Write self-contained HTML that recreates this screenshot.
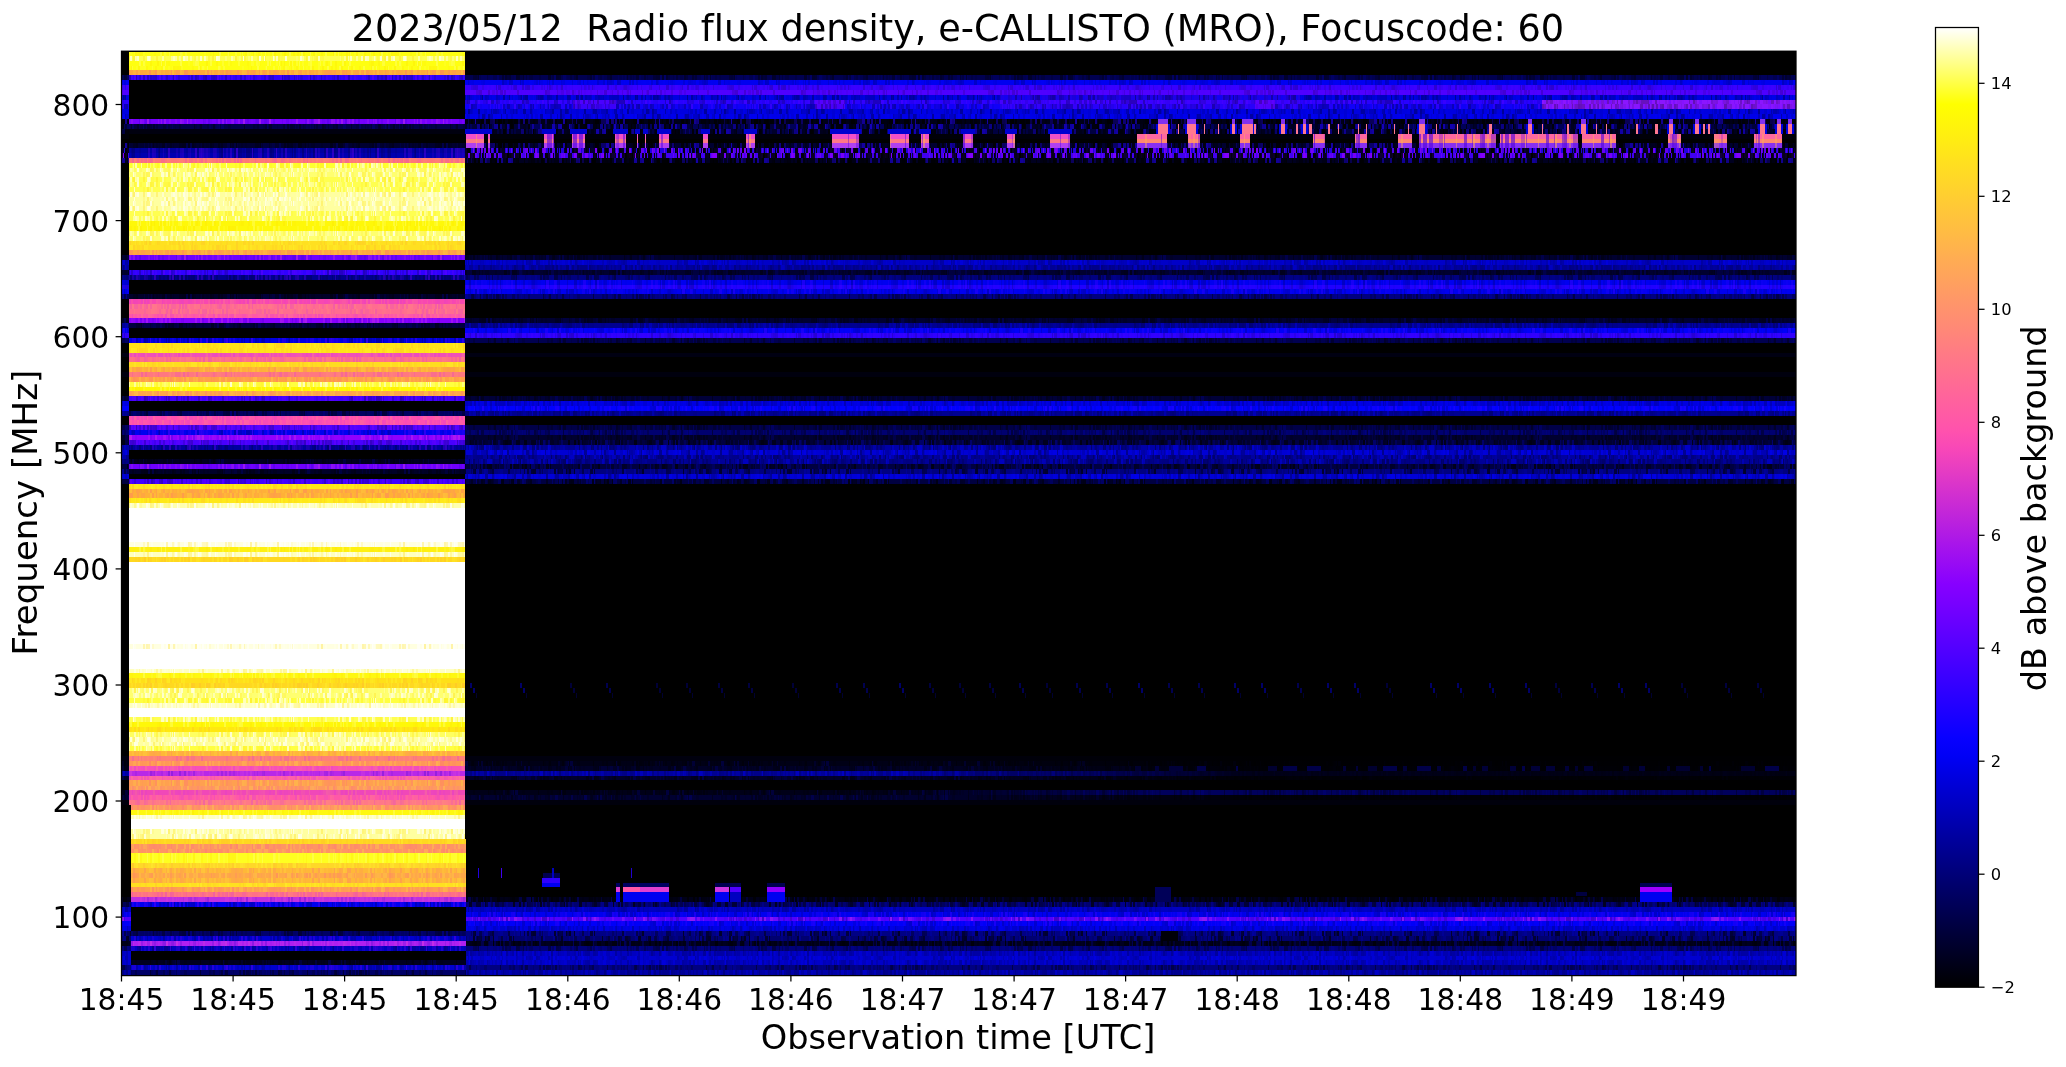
<!DOCTYPE html>
<html lang="en"><head><meta charset="utf-8"><title>e-CALLISTO spectrogram</title>
<style>html,body{margin:0;padding:0;background:#fff;}svg{display:block}text{font-family:'DejaVu Sans','Liberation Sans',sans-serif;fill:#000;font-variant-ligatures:none;font-feature-settings:"liga" 0,"clig" 0}svg{will-change:transform}</style></head><body>
<svg width="2066" height="1067" viewBox="0 0 2066 1067">
<defs>
<linearGradient id="cb" x1="0" y1="1" x2="0" y2="0">
<stop offset="0" stop-color="#000000"/>
<stop offset="0.02" stop-color="#000014"/>
<stop offset="0.04" stop-color="#000029"/>
<stop offset="0.06" stop-color="#00003D"/>
<stop offset="0.08" stop-color="#000052"/>
<stop offset="0.1" stop-color="#000066"/>
<stop offset="0.12" stop-color="#00007A"/>
<stop offset="0.14" stop-color="#00008F"/>
<stop offset="0.16" stop-color="#0000A3"/>
<stop offset="0.18" stop-color="#0000B8"/>
<stop offset="0.2" stop-color="#0000CC"/>
<stop offset="0.22" stop-color="#0000E0"/>
<stop offset="0.24" stop-color="#0000F5"/>
<stop offset="0.26" stop-color="#0800FF"/>
<stop offset="0.28" stop-color="#1800FF"/>
<stop offset="0.3" stop-color="#2800FF"/>
<stop offset="0.32" stop-color="#3800FF"/>
<stop offset="0.34" stop-color="#4800FF"/>
<stop offset="0.36" stop-color="#5800FF"/>
<stop offset="0.38" stop-color="#6800FF"/>
<stop offset="0.4" stop-color="#7800FF"/>
<stop offset="0.42" stop-color="#8700FF"/>
<stop offset="0.44" stop-color="#970AF5"/>
<stop offset="0.46" stop-color="#A714EB"/>
<stop offset="0.48" stop-color="#B71FE0"/>
<stop offset="0.5" stop-color="#C729D6"/>
<stop offset="0.52" stop-color="#D733CC"/>
<stop offset="0.54" stop-color="#E73DC2"/>
<stop offset="0.56" stop-color="#F747B8"/>
<stop offset="0.58" stop-color="#FF52AD"/>
<stop offset="0.6" stop-color="#FF5CA3"/>
<stop offset="0.62" stop-color="#FF6699"/>
<stop offset="0.64" stop-color="#FF708F"/>
<stop offset="0.66" stop-color="#FF7A85"/>
<stop offset="0.68" stop-color="#FF857A"/>
<stop offset="0.7" stop-color="#FF8F70"/>
<stop offset="0.72" stop-color="#FF9966"/>
<stop offset="0.74" stop-color="#FFA35C"/>
<stop offset="0.76" stop-color="#FFAD52"/>
<stop offset="0.78" stop-color="#FFB847"/>
<stop offset="0.8" stop-color="#FFC23D"/>
<stop offset="0.82" stop-color="#FFCC33"/>
<stop offset="0.84" stop-color="#FFD629"/>
<stop offset="0.86" stop-color="#FFE01F"/>
<stop offset="0.88" stop-color="#FFEB14"/>
<stop offset="0.9" stop-color="#FFF50A"/>
<stop offset="0.92" stop-color="#FFFF00"/>
<stop offset="0.94" stop-color="#FFFF40"/>
<stop offset="0.96" stop-color="#FFFF80"/>
<stop offset="0.98" stop-color="#FFFFBF"/>
<stop offset="1" stop-color="#FFFFFF"/>
</linearGradient>
<pattern id="b10" patternUnits="userSpaceOnUse" width="256" height="8">
<g fill="#0000FF"><rect x="2" width="2" height="8" opacity=".10"/><rect x="12" width="1" height="8" opacity=".24"/><rect x="13" width="1" height="8" opacity=".19"/><rect x="21" width="1" height="8" opacity=".25"/><rect x="22" width="2" height="8" opacity=".20"/><rect x="31" width="1" height="8" opacity=".22"/><rect x="34" width="2" height="8" opacity=".10"/><rect x="41" width="2" height="8" opacity=".32"/><rect x="45" width="2" height="8" opacity=".20"/><rect x="48" width="2" height="8" opacity=".10"/><rect x="50" width="3" height="8" opacity=".25"/><rect x="56" width="2" height="8" opacity=".32"/><rect x="60" width="1" height="8" opacity=".21"/><rect x="70" width="2" height="8" opacity=".35"/><rect x="76" width="1" height="8" opacity=".08"/><rect x="84" width="3" height="8" opacity=".09"/><rect x="92" width="2" height="8" opacity=".10"/><rect x="103" width="2" height="8" opacity=".21"/><rect x="118" width="1" height="8" opacity=".15"/><rect x="123" width="2" height="8" opacity=".22"/><rect x="176" width="2" height="8" opacity=".17"/><rect x="178" width="2" height="8" opacity=".09"/><rect x="180" width="3" height="8" opacity=".22"/><rect x="187" width="2" height="8" opacity=".31"/><rect x="192" width="3" height="8" opacity=".32"/><rect x="201" width="1" height="8" opacity=".29"/><rect x="206" width="3" height="8" opacity=".23"/><rect x="211" width="1" height="8" opacity=".23"/><rect x="213" width="2" height="8" opacity=".13"/><rect x="217" width="2" height="8" opacity=".15"/><rect x="230" width="3" height="8" opacity=".12"/><rect x="239" width="1" height="8" opacity=".35"/><rect x="244" width="2" height="8" opacity=".20"/><rect x="247" width="2" height="8" opacity=".10"/></g>
<g fill="#000"><rect x="4" width="2" height="8" opacity=".12"/><rect x="6" width="2" height="8" opacity=".04"/><rect x="8" width="2" height="8" opacity=".04"/><rect x="10" width="2" height="8" opacity=".12"/><rect x="14" width="1" height="8" opacity=".17"/><rect x="15" width="2" height="8" opacity=".12"/><rect x="17" width="2" height="8" opacity=".17"/><rect x="19" width="1" height="8" opacity=".12"/><rect x="20" width="1" height="8" opacity=".12"/><rect x="24" width="2" height="8" opacity=".19"/><rect x="26" width="2" height="8" opacity=".16"/><rect x="36" width="2" height="8" opacity=".16"/><rect x="39" width="2" height="8" opacity=".14"/><rect x="43" width="2" height="8" opacity=".08"/><rect x="58" width="2" height="8" opacity=".10"/><rect x="63" width="2" height="8" opacity=".18"/><rect x="65" width="1" height="8" opacity=".09"/><rect x="75" width="1" height="8" opacity=".05"/><rect x="77" width="2" height="8" opacity=".07"/><rect x="79" width="1" height="8" opacity=".09"/><rect x="80" width="2" height="8" opacity=".04"/><rect x="90" width="2" height="8" opacity=".09"/><rect x="95" width="2" height="8" opacity=".08"/><rect x="97" width="1" height="8" opacity=".12"/><rect x="98" width="2" height="8" opacity=".09"/><rect x="100" width="1" height="8" opacity=".06"/><rect x="101" width="2" height="8" opacity=".07"/><rect x="106" width="2" height="8" opacity=".08"/><rect x="108" width="1" height="8" opacity=".08"/><rect x="109" width="2" height="8" opacity=".14"/><rect x="111" width="2" height="8" opacity=".19"/><rect x="113" width="2" height="8" opacity=".14"/><rect x="125" width="3" height="8" opacity=".17"/><rect x="131" width="1" height="8" opacity=".11"/><rect x="132" width="3" height="8" opacity=".03"/><rect x="135" width="2" height="8" opacity=".05"/><rect x="144" width="2" height="8" opacity=".04"/><rect x="146" width="2" height="8" opacity=".06"/><rect x="165" width="2" height="8" opacity=".19"/><rect x="167" width="3" height="8" opacity=".09"/><rect x="172" width="1" height="8" opacity=".18"/><rect x="173" width="3" height="8" opacity=".17"/><rect x="183" width="1" height="8" opacity=".18"/><rect x="184" width="1" height="8" opacity=".06"/><rect x="185" width="2" height="8" opacity=".13"/><rect x="197" width="2" height="8" opacity=".05"/><rect x="199" width="2" height="8" opacity=".10"/><rect x="202" width="1" height="8" opacity=".11"/><rect x="203" width="3" height="8" opacity=".03"/><rect x="210" width="1" height="8" opacity=".07"/><rect x="212" width="1" height="8" opacity=".13"/><rect x="215" width="2" height="8" opacity=".12"/><rect x="224" width="1" height="8" opacity=".09"/><rect x="225" width="2" height="8" opacity=".06"/><rect x="227" width="1" height="8" opacity=".07"/><rect x="235" width="1" height="8" opacity=".11"/><rect x="240" width="2" height="8" opacity=".06"/><rect x="242" width="2" height="8" opacity=".09"/><rect x="246" width="1" height="8" opacity=".11"/><rect x="250" width="1" height="8" opacity=".07"/><rect x="251" width="1" height="8" opacity=".04"/></g>
</pattern>
<pattern id="b10a" href="#b10" patternTransform="translate(37 0)"/>
<pattern id="b10b" href="#b10" patternTransform="translate(81 0)"/>
<pattern id="b10c" href="#b10" patternTransform="translate(119 0)"/>
<pattern id="b10d" href="#b10" patternTransform="translate(163 0)"/>
<pattern id="b10e" href="#b10" patternTransform="translate(201 0)"/>
<pattern id="b11" patternUnits="userSpaceOnUse" width="256" height="8">
<g fill="#000"><rect x="0" width="2" height="8" opacity=".12"/><rect x="4" width="1" height="8" opacity=".16"/><rect x="5" width="1" height="8" opacity=".03"/><rect x="10" width="2" height="8" opacity=".20"/><rect x="16" width="3" height="8" opacity=".04"/><rect x="19" width="1" height="8" opacity=".05"/><rect x="22" width="1" height="8" opacity=".11"/><rect x="23" width="1" height="8" opacity=".16"/><rect x="24" width="2" height="8" opacity=".02"/><rect x="28" width="2" height="8" opacity=".10"/><rect x="39" width="2" height="8" opacity=".18"/><rect x="46" width="1" height="8" opacity=".13"/><rect x="47" width="2" height="8" opacity=".03"/><rect x="55" width="1" height="8" opacity=".10"/><rect x="56" width="2" height="8" opacity=".08"/><rect x="58" width="2" height="8" opacity=".03"/><rect x="60" width="2" height="8" opacity=".05"/><rect x="62" width="2" height="8" opacity=".11"/><rect x="66" width="1" height="8" opacity=".17"/><rect x="67" width="1" height="8" opacity=".03"/><rect x="68" width="1" height="8" opacity=".13"/><rect x="71" width="2" height="8" opacity=".08"/><rect x="73" width="2" height="8" opacity=".15"/><rect x="75" width="3" height="8" opacity=".17"/><rect x="81" width="3" height="8" opacity=".15"/><rect x="84" width="2" height="8" opacity=".11"/><rect x="94" width="1" height="8" opacity=".03"/><rect x="95" width="3" height="8" opacity=".04"/><rect x="103" width="2" height="8" opacity=".16"/><rect x="108" width="2" height="8" opacity=".11"/><rect x="115" width="2" height="8" opacity=".16"/><rect x="118" width="2" height="8" opacity=".09"/><rect x="126" width="2" height="8" opacity=".07"/><rect x="131" width="1" height="8" opacity=".03"/><rect x="137" width="2" height="8" opacity=".04"/><rect x="139" width="2" height="8" opacity=".20"/><rect x="141" width="2" height="8" opacity=".10"/><rect x="147" width="2" height="8" opacity=".19"/><rect x="149" width="1" height="8" opacity=".04"/><rect x="156" width="3" height="8" opacity=".11"/><rect x="159" width="2" height="8" opacity=".05"/><rect x="163" width="3" height="8" opacity=".08"/><rect x="166" width="2" height="8" opacity=".08"/><rect x="170" width="2" height="8" opacity=".19"/><rect x="172" width="3" height="8" opacity=".15"/><rect x="175" width="2" height="8" opacity=".09"/><rect x="177" width="2" height="8" opacity=".19"/><rect x="181" width="2" height="8" opacity=".17"/><rect x="185" width="2" height="8" opacity=".08"/><rect x="191" width="3" height="8" opacity=".18"/><rect x="197" width="2" height="8" opacity=".16"/><rect x="202" width="2" height="8" opacity=".19"/><rect x="204" width="1" height="8" opacity=".09"/><rect x="205" width="2" height="8" opacity=".15"/><rect x="207" width="3" height="8" opacity=".14"/><rect x="210" width="2" height="8" opacity=".14"/><rect x="212" width="1" height="8" opacity=".05"/><rect x="214" width="2" height="8" opacity=".18"/><rect x="216" width="2" height="8" opacity=".12"/><rect x="218" width="1" height="8" opacity=".08"/><rect x="219" width="1" height="8" opacity=".09"/><rect x="220" width="2" height="8" opacity=".02"/><rect x="222" width="2" height="8" opacity=".15"/><rect x="224" width="1" height="8" opacity=".08"/><rect x="225" width="1" height="8" opacity=".12"/><rect x="226" width="2" height="8" opacity=".11"/><rect x="231" width="1" height="8" opacity=".18"/><rect x="232" width="2" height="8" opacity=".10"/><rect x="236" width="1" height="8" opacity=".10"/><rect x="239" width="2" height="8" opacity=".09"/><rect x="243" width="2" height="8" opacity=".04"/><rect x="245" width="1" height="8" opacity=".19"/><rect x="250" width="2" height="8" opacity=".16"/><rect x="254" width="2" height="8" opacity=".04"/></g>
<g fill="#0000FF"><rect x="2" width="2" height="8" opacity=".27"/><rect x="6" width="1" height="8" opacity=".30"/><rect x="7" width="1" height="8" opacity=".14"/><rect x="14" width="2" height="8" opacity=".09"/><rect x="20" width="2" height="8" opacity=".22"/><rect x="26" width="2" height="8" opacity=".13"/><rect x="33" width="2" height="8" opacity=".23"/><rect x="37" width="2" height="8" opacity=".35"/><rect x="41" width="3" height="8" opacity=".19"/><rect x="52" width="2" height="8" opacity=".16"/><rect x="54" width="1" height="8" opacity=".09"/><rect x="64" width="2" height="8" opacity=".15"/><rect x="69" width="1" height="8" opacity=".22"/><rect x="70" width="1" height="8" opacity=".27"/><rect x="86" width="2" height="8" opacity=".30"/><rect x="91" width="3" height="8" opacity=".27"/><rect x="98" width="2" height="8" opacity=".25"/><rect x="100" width="3" height="8" opacity=".15"/><rect x="124" width="2" height="8" opacity=".13"/><rect x="128" width="3" height="8" opacity=".25"/><rect x="134" width="1" height="8" opacity=".26"/><rect x="135" width="2" height="8" opacity=".16"/><rect x="150" width="3" height="8" opacity=".34"/><rect x="153" width="1" height="8" opacity=".25"/><rect x="161" width="2" height="8" opacity=".19"/><rect x="183" width="2" height="8" opacity=".12"/><rect x="194" width="2" height="8" opacity=".27"/><rect x="213" width="1" height="8" opacity=".30"/><rect x="247" width="3" height="8" opacity=".31"/><rect x="253" width="1" height="8" opacity=".09"/></g>
</pattern>
<pattern id="b11a" href="#b11" patternTransform="translate(37 0)"/>
<pattern id="b11b" href="#b11" patternTransform="translate(81 0)"/>
<pattern id="b11c" href="#b11" patternTransform="translate(119 0)"/>
<pattern id="b11d" href="#b11" patternTransform="translate(163 0)"/>
<pattern id="b11e" href="#b11" patternTransform="translate(201 0)"/>
<pattern id="b20" patternUnits="userSpaceOnUse" width="256" height="8">
<g fill="#0000FF"><rect x="0" width="2" height="8" opacity=".25"/><rect x="59" width="1" height="8" opacity=".37"/><rect x="87" width="2" height="8" opacity=".26"/><rect x="97" width="1" height="8" opacity=".21"/><rect x="106" width="2" height="8" opacity=".17"/><rect x="112" width="2" height="8" opacity=".34"/><rect x="114" width="3" height="8" opacity=".37"/><rect x="126" width="1" height="8" opacity=".18"/><rect x="127" width="1" height="8" opacity=".45"/><rect x="137" width="2" height="8" opacity=".37"/><rect x="142" width="1" height="8" opacity=".35"/><rect x="146" width="1" height="8" opacity=".33"/><rect x="152" width="2" height="8" opacity=".12"/><rect x="155" width="3" height="8" opacity=".32"/><rect x="158" width="1" height="8" opacity=".24"/><rect x="163" width="3" height="8" opacity=".23"/><rect x="168" width="2" height="8" opacity=".24"/><rect x="173" width="2" height="8" opacity=".23"/><rect x="176" width="1" height="8" opacity=".42"/><rect x="177" width="1" height="8" opacity=".42"/><rect x="178" width="3" height="8" opacity=".15"/><rect x="191" width="2" height="8" opacity=".41"/><rect x="196" width="1" height="8" opacity=".32"/><rect x="198" width="1" height="8" opacity=".11"/><rect x="227" width="2" height="8" opacity=".33"/><rect x="229" width="1" height="8" opacity=".13"/><rect x="234" width="2" height="8" opacity=".37"/><rect x="242" width="1" height="8" opacity=".35"/><rect x="255" width="1" height="8" opacity=".41"/></g>
<g fill="#000"><rect x="2" width="1" height="8" opacity=".13"/><rect x="3" width="2" height="8" opacity=".12"/><rect x="5" width="2" height="8" opacity=".20"/><rect x="7" width="2" height="8" opacity=".13"/><rect x="9" width="1" height="8" opacity=".11"/><rect x="10" width="1" height="8" opacity=".16"/><rect x="11" width="3" height="8" opacity=".05"/><rect x="16" width="3" height="8" opacity=".12"/><rect x="19" width="3" height="8" opacity=".15"/><rect x="22" width="2" height="8" opacity=".14"/><rect x="24" width="2" height="8" opacity=".16"/><rect x="30" width="1" height="8" opacity=".33"/><rect x="33" width="1" height="8" opacity=".11"/><rect x="34" width="2" height="8" opacity=".23"/><rect x="36" width="2" height="8" opacity=".11"/><rect x="42" width="1" height="8" opacity=".33"/><rect x="43" width="1" height="8" opacity=".25"/><rect x="44" width="1" height="8" opacity=".31"/><rect x="48" width="2" height="8" opacity=".24"/><rect x="52" width="1" height="8" opacity=".26"/><rect x="55" width="2" height="8" opacity=".04"/><rect x="57" width="2" height="8" opacity=".17"/><rect x="60" width="2" height="8" opacity=".29"/><rect x="62" width="2" height="8" opacity=".25"/><rect x="64" width="1" height="8" opacity=".32"/><rect x="65" width="1" height="8" opacity=".26"/><rect x="66" width="2" height="8" opacity=".16"/><rect x="71" width="1" height="8" opacity=".18"/><rect x="72" width="1" height="8" opacity=".26"/><rect x="73" width="2" height="8" opacity=".12"/><rect x="75" width="2" height="8" opacity=".26"/><rect x="77" width="3" height="8" opacity=".12"/><rect x="86" width="1" height="8" opacity=".11"/><rect x="94" width="1" height="8" opacity=".32"/><rect x="98" width="2" height="8" opacity=".28"/><rect x="100" width="2" height="8" opacity=".10"/><rect x="102" width="1" height="8" opacity=".06"/><rect x="103" width="1" height="8" opacity=".20"/><rect x="108" width="2" height="8" opacity=".25"/><rect x="110" width="2" height="8" opacity=".08"/><rect x="118" width="2" height="8" opacity=".21"/><rect x="120" width="2" height="8" opacity=".12"/><rect x="122" width="2" height="8" opacity=".11"/><rect x="124" width="1" height="8" opacity=".31"/><rect x="125" width="1" height="8" opacity=".16"/><rect x="128" width="1" height="8" opacity=".30"/><rect x="130" width="2" height="8" opacity=".13"/><rect x="132" width="1" height="8" opacity=".22"/><rect x="133" width="2" height="8" opacity=".06"/><rect x="143" width="2" height="8" opacity=".15"/><rect x="145" width="1" height="8" opacity=".34"/><rect x="148" width="2" height="8" opacity=".15"/><rect x="150" width="2" height="8" opacity=".10"/><rect x="159" width="2" height="8" opacity=".12"/><rect x="161" width="2" height="8" opacity=".06"/><rect x="166" width="2" height="8" opacity=".27"/><rect x="170" width="2" height="8" opacity=".04"/><rect x="172" width="1" height="8" opacity=".29"/><rect x="175" width="1" height="8" opacity=".06"/><rect x="181" width="2" height="8" opacity=".09"/><rect x="183" width="1" height="8" opacity=".19"/><rect x="184" width="1" height="8" opacity=".29"/><rect x="186" width="2" height="8" opacity=".22"/><rect x="188" width="3" height="8" opacity=".31"/><rect x="199" width="2" height="8" opacity=".15"/><rect x="201" width="1" height="8" opacity=".26"/><rect x="202" width="1" height="8" opacity=".21"/><rect x="203" width="3" height="8" opacity=".29"/><rect x="206" width="1" height="8" opacity=".18"/><rect x="210" width="3" height="8" opacity=".21"/><rect x="213" width="2" height="8" opacity=".15"/><rect x="215" width="2" height="8" opacity=".05"/><rect x="219" width="2" height="8" opacity=".27"/><rect x="223" width="2" height="8" opacity=".06"/><rect x="225" width="2" height="8" opacity=".07"/><rect x="230" width="3" height="8" opacity=".26"/><rect x="233" width="1" height="8" opacity=".19"/><rect x="239" width="1" height="8" opacity=".33"/><rect x="240" width="2" height="8" opacity=".28"/><rect x="243" width="1" height="8" opacity=".15"/><rect x="244" width="2" height="8" opacity=".31"/><rect x="248" width="2" height="8" opacity=".19"/><rect x="250" width="2" height="8" opacity=".12"/><rect x="252" width="2" height="8" opacity=".15"/><rect x="254" width="1" height="8" opacity=".09"/></g>
</pattern>
<pattern id="b20a" href="#b20" patternTransform="translate(37 0)"/>
<pattern id="b20b" href="#b20" patternTransform="translate(81 0)"/>
<pattern id="b20c" href="#b20" patternTransform="translate(119 0)"/>
<pattern id="b20d" href="#b20" patternTransform="translate(163 0)"/>
<pattern id="b20e" href="#b20" patternTransform="translate(201 0)"/>
<pattern id="b21" patternUnits="userSpaceOnUse" width="256" height="8">
<g fill="#000"><rect x="1" width="2" height="8" opacity=".20"/><rect x="8" width="1" height="8" opacity=".20"/><rect x="11" width="2" height="8" opacity=".34"/><rect x="13" width="2" height="8" opacity=".14"/><rect x="15" width="1" height="8" opacity=".09"/><rect x="21" width="2" height="8" opacity=".33"/><rect x="27" width="3" height="8" opacity=".08"/><rect x="34" width="1" height="8" opacity=".22"/><rect x="35" width="1" height="8" opacity=".04"/><rect x="36" width="2" height="8" opacity=".20"/><rect x="38" width="2" height="8" opacity=".22"/><rect x="40" width="2" height="8" opacity=".15"/><rect x="42" width="2" height="8" opacity=".04"/><rect x="46" width="2" height="8" opacity=".12"/><rect x="48" width="1" height="8" opacity=".29"/><rect x="53" width="3" height="8" opacity=".09"/><rect x="56" width="1" height="8" opacity=".20"/><rect x="57" width="2" height="8" opacity=".09"/><rect x="59" width="1" height="8" opacity=".21"/><rect x="60" width="1" height="8" opacity=".10"/><rect x="66" width="3" height="8" opacity=".31"/><rect x="73" width="2" height="8" opacity=".24"/><rect x="75" width="1" height="8" opacity=".07"/><rect x="88" width="1" height="8" opacity=".19"/><rect x="89" width="1" height="8" opacity=".11"/><rect x="90" width="3" height="8" opacity=".09"/><rect x="93" width="2" height="8" opacity=".16"/><rect x="95" width="2" height="8" opacity=".31"/><rect x="103" width="2" height="8" opacity=".29"/><rect x="105" width="3" height="8" opacity=".05"/><rect x="108" width="3" height="8" opacity=".31"/><rect x="111" width="1" height="8" opacity=".22"/><rect x="114" width="1" height="8" opacity=".07"/><rect x="119" width="3" height="8" opacity=".05"/><rect x="127" width="2" height="8" opacity=".33"/><rect x="135" width="1" height="8" opacity=".10"/><rect x="136" width="1" height="8" opacity=".29"/><rect x="137" width="3" height="8" opacity=".27"/><rect x="140" width="3" height="8" opacity=".07"/><rect x="144" width="3" height="8" opacity=".14"/><rect x="147" width="2" height="8" opacity=".15"/><rect x="149" width="2" height="8" opacity=".27"/><rect x="157" width="2" height="8" opacity=".20"/><rect x="159" width="1" height="8" opacity=".25"/><rect x="163" width="2" height="8" opacity=".10"/><rect x="165" width="1" height="8" opacity=".19"/><rect x="170" width="2" height="8" opacity=".32"/><rect x="174" width="3" height="8" opacity=".09"/><rect x="185" width="2" height="8" opacity=".16"/><rect x="189" width="3" height="8" opacity=".31"/><rect x="192" width="1" height="8" opacity=".13"/><rect x="195" width="2" height="8" opacity=".33"/><rect x="197" width="3" height="8" opacity=".18"/><rect x="208" width="1" height="8" opacity=".25"/><rect x="213" width="2" height="8" opacity=".13"/><rect x="218" width="2" height="8" opacity=".09"/><rect x="231" width="1" height="8" opacity=".09"/><rect x="233" width="3" height="8" opacity=".12"/><rect x="238" width="2" height="8" opacity=".16"/><rect x="242" width="3" height="8" opacity=".05"/><rect x="247" width="3" height="8" opacity=".30"/></g>
<g fill="#0000FF"><rect x="6" width="2" height="8" opacity=".30"/><rect x="30" width="2" height="8" opacity=".25"/><rect x="44" width="1" height="8" opacity=".26"/><rect x="45" width="1" height="8" opacity=".40"/><rect x="49" width="2" height="8" opacity=".30"/><rect x="61" width="2" height="8" opacity=".33"/><rect x="65" width="1" height="8" opacity=".12"/><rect x="69" width="2" height="8" opacity=".10"/><rect x="76" width="1" height="8" opacity=".14"/><rect x="80" width="2" height="8" opacity=".19"/><rect x="82" width="2" height="8" opacity=".34"/><rect x="86" width="2" height="8" opacity=".44"/><rect x="122" width="3" height="8" opacity=".11"/><rect x="153" width="2" height="8" opacity=".40"/><rect x="160" width="2" height="8" opacity=".35"/><rect x="162" width="1" height="8" opacity=".20"/><rect x="166" width="2" height="8" opacity=".39"/><rect x="168" width="2" height="8" opacity=".44"/><rect x="182" width="3" height="8" opacity=".14"/><rect x="200" width="2" height="8" opacity=".34"/><rect x="202" width="2" height="8" opacity=".22"/><rect x="204" width="2" height="8" opacity=".40"/><rect x="206" width="2" height="8" opacity=".36"/><rect x="209" width="2" height="8" opacity=".14"/><rect x="211" width="2" height="8" opacity=".34"/><rect x="221" width="2" height="8" opacity=".16"/><rect x="236" width="1" height="8" opacity=".14"/><rect x="240" width="2" height="8" opacity=".28"/><rect x="245" width="2" height="8" opacity=".24"/><rect x="250" width="3" height="8" opacity=".36"/></g>
</pattern>
<pattern id="b21a" href="#b21" patternTransform="translate(37 0)"/>
<pattern id="b21b" href="#b21" patternTransform="translate(81 0)"/>
<pattern id="b21c" href="#b21" patternTransform="translate(119 0)"/>
<pattern id="b21d" href="#b21" patternTransform="translate(163 0)"/>
<pattern id="b21e" href="#b21" patternTransform="translate(201 0)"/>
<pattern id="B10" patternUnits="userSpaceOnUse" width="256" height="8">
<g fill="#000"><rect x="4" width="3" height="8" opacity=".09"/><rect x="9" width="2" height="8" opacity=".08"/><rect x="23" width="1" height="8" opacity=".11"/><rect x="32" width="2" height="8" opacity=".13"/><rect x="41" width="2" height="8" opacity=".02"/><rect x="57" width="3" height="8" opacity=".12"/><rect x="60" width="3" height="8" opacity=".17"/><rect x="69" width="2" height="8" opacity=".16"/><rect x="73" width="3" height="8" opacity=".09"/><rect x="77" width="2" height="8" opacity=".12"/><rect x="81" width="3" height="8" opacity=".16"/><rect x="85" width="2" height="8" opacity=".15"/><rect x="90" width="2" height="8" opacity=".02"/><rect x="98" width="2" height="8" opacity=".16"/><rect x="126" width="2" height="8" opacity=".18"/><rect x="128" width="3" height="8" opacity=".12"/><rect x="138" width="1" height="8" opacity=".13"/><rect x="139" width="3" height="8" opacity=".04"/><rect x="142" width="3" height="8" opacity=".10"/><rect x="147" width="2" height="8" opacity=".09"/><rect x="149" width="2" height="8" opacity=".07"/><rect x="153" width="2" height="8" opacity=".18"/><rect x="155" width="2" height="8" opacity=".05"/><rect x="159" width="2" height="8" opacity=".13"/><rect x="162" width="1" height="8" opacity=".11"/><rect x="165" width="2" height="8" opacity=".03"/><rect x="171" width="2" height="8" opacity=".04"/><rect x="178" width="1" height="8" opacity=".13"/><rect x="181" width="3" height="8" opacity=".03"/><rect x="185" width="3" height="8" opacity=".16"/><rect x="191" width="2" height="8" opacity=".03"/><rect x="193" width="1" height="8" opacity=".12"/><rect x="198" width="2" height="8" opacity=".13"/><rect x="203" width="1" height="8" opacity=".10"/><rect x="207" width="1" height="8" opacity=".04"/><rect x="208" width="2" height="8" opacity=".14"/><rect x="211" width="1" height="8" opacity=".14"/><rect x="223" width="1" height="8" opacity=".16"/><rect x="227" width="1" height="8" opacity=".07"/><rect x="228" width="2" height="8" opacity=".16"/><rect x="237" width="1" height="8" opacity=".12"/><rect x="241" width="2" height="8" opacity=".15"/><rect x="245" width="2" height="8" opacity=".06"/><rect x="252" width="2" height="8" opacity=".12"/></g>
<g fill="#4800FF"><rect x="7" width="2" height="8" opacity=".11"/><rect x="11" width="3" height="8" opacity=".15"/><rect x="14" width="2" height="8" opacity=".09"/><rect x="16" width="2" height="8" opacity=".26"/><rect x="25" width="1" height="8" opacity=".11"/><rect x="26" width="2" height="8" opacity=".14"/><rect x="28" width="2" height="8" opacity=".25"/><rect x="30" width="2" height="8" opacity=".19"/><rect x="34" width="2" height="8" opacity=".33"/><rect x="39" width="2" height="8" opacity=".15"/><rect x="48" width="2" height="8" opacity=".11"/><rect x="54" width="2" height="8" opacity=".12"/><rect x="63" width="2" height="8" opacity=".30"/><rect x="65" width="2" height="8" opacity=".16"/><rect x="67" width="2" height="8" opacity=".29"/><rect x="76" width="1" height="8" opacity=".30"/><rect x="79" width="2" height="8" opacity=".20"/><rect x="89" width="1" height="8" opacity=".17"/><rect x="92" width="1" height="8" opacity=".15"/><rect x="93" width="1" height="8" opacity=".31"/><rect x="102" width="1" height="8" opacity=".32"/><rect x="106" width="1" height="8" opacity=".14"/><rect x="110" width="1" height="8" opacity=".15"/><rect x="112" width="2" height="8" opacity=".10"/><rect x="116" width="3" height="8" opacity=".21"/><rect x="119" width="2" height="8" opacity=".28"/><rect x="124" width="2" height="8" opacity=".31"/><rect x="131" width="3" height="8" opacity=".09"/><rect x="137" width="1" height="8" opacity=".21"/><rect x="145" width="2" height="8" opacity=".33"/><rect x="161" width="1" height="8" opacity=".25"/><rect x="163" width="2" height="8" opacity=".09"/><rect x="167" width="2" height="8" opacity=".26"/><rect x="179" width="2" height="8" opacity=".13"/><rect x="194" width="1" height="8" opacity=".22"/><rect x="196" width="2" height="8" opacity=".33"/><rect x="200" width="2" height="8" opacity=".33"/><rect x="202" width="1" height="8" opacity=".19"/><rect x="204" width="1" height="8" opacity=".20"/><rect x="210" width="1" height="8" opacity=".28"/><rect x="218" width="2" height="8" opacity=".27"/><rect x="220" width="2" height="8" opacity=".32"/><rect x="230" width="2" height="8" opacity=".17"/></g>
</pattern>
<pattern id="B10a" href="#B10" patternTransform="translate(37 0)"/>
<pattern id="B10b" href="#B10" patternTransform="translate(81 0)"/>
<pattern id="B10c" href="#B10" patternTransform="translate(119 0)"/>
<pattern id="B10d" href="#B10" patternTransform="translate(163 0)"/>
<pattern id="B10e" href="#B10" patternTransform="translate(201 0)"/>
<pattern id="B11" patternUnits="userSpaceOnUse" width="256" height="8">
<g fill="#000"><rect x="0" width="2" height="8" opacity=".16"/><rect x="2" width="2" height="8" opacity=".08"/><rect x="7" width="2" height="8" opacity=".09"/><rect x="11" width="1" height="8" opacity=".04"/><rect x="12" width="2" height="8" opacity=".18"/><rect x="16" width="2" height="8" opacity=".03"/><rect x="23" width="1" height="8" opacity=".03"/><rect x="32" width="1" height="8" opacity=".10"/><rect x="35" width="2" height="8" opacity=".10"/><rect x="37" width="1" height="8" opacity=".05"/><rect x="39" width="2" height="8" opacity=".11"/><rect x="43" width="1" height="8" opacity=".17"/><rect x="44" width="2" height="8" opacity=".04"/><rect x="58" width="2" height="8" opacity=".17"/><rect x="62" width="1" height="8" opacity=".03"/><rect x="64" width="2" height="8" opacity=".03"/><rect x="66" width="2" height="8" opacity=".13"/><rect x="71" width="3" height="8" opacity=".04"/><rect x="74" width="1" height="8" opacity=".11"/><rect x="75" width="3" height="8" opacity=".17"/><rect x="78" width="2" height="8" opacity=".09"/><rect x="80" width="1" height="8" opacity=".06"/><rect x="81" width="3" height="8" opacity=".03"/><rect x="88" width="1" height="8" opacity=".10"/><rect x="92" width="1" height="8" opacity=".07"/><rect x="100" width="2" height="8" opacity=".10"/><rect x="102" width="1" height="8" opacity=".15"/><rect x="110" width="1" height="8" opacity=".12"/><rect x="117" width="3" height="8" opacity=".18"/><rect x="122" width="2" height="8" opacity=".08"/><rect x="124" width="2" height="8" opacity=".03"/><rect x="131" width="2" height="8" opacity=".06"/><rect x="133" width="1" height="8" opacity=".15"/><rect x="138" width="2" height="8" opacity=".18"/><rect x="142" width="1" height="8" opacity=".05"/><rect x="143" width="2" height="8" opacity=".06"/><rect x="146" width="1" height="8" opacity=".09"/><rect x="147" width="1" height="8" opacity=".14"/><rect x="148" width="2" height="8" opacity=".12"/><rect x="154" width="2" height="8" opacity=".08"/><rect x="157" width="1" height="8" opacity=".05"/><rect x="159" width="1" height="8" opacity=".03"/><rect x="164" width="1" height="8" opacity=".13"/><rect x="168" width="2" height="8" opacity=".02"/><rect x="178" width="2" height="8" opacity=".09"/><rect x="180" width="2" height="8" opacity=".13"/><rect x="182" width="1" height="8" opacity=".15"/><rect x="183" width="2" height="8" opacity=".13"/><rect x="189" width="2" height="8" opacity=".08"/><rect x="203" width="1" height="8" opacity=".17"/><rect x="205" width="2" height="8" opacity=".15"/><rect x="207" width="1" height="8" opacity=".17"/><rect x="208" width="3" height="8" opacity=".02"/><rect x="214" width="1" height="8" opacity=".04"/><rect x="215" width="1" height="8" opacity=".04"/><rect x="218" width="1" height="8" opacity=".08"/><rect x="220" width="1" height="8" opacity=".11"/><rect x="221" width="3" height="8" opacity=".17"/><rect x="229" width="2" height="8" opacity=".18"/><rect x="232" width="2" height="8" opacity=".15"/><rect x="234" width="3" height="8" opacity=".18"/><rect x="239" width="2" height="8" opacity=".10"/><rect x="248" width="2" height="8" opacity=".07"/><rect x="251" width="1" height="8" opacity=".08"/><rect x="254" width="1" height="8" opacity=".12"/></g>
<g fill="#4800FF"><rect x="18" width="2" height="8" opacity=".18"/><rect x="24" width="2" height="8" opacity=".14"/><rect x="26" width="2" height="8" opacity=".08"/><rect x="28" width="2" height="8" opacity=".10"/><rect x="46" width="3" height="8" opacity=".10"/><rect x="49" width="2" height="8" opacity=".17"/><rect x="51" width="2" height="8" opacity=".11"/><rect x="54" width="2" height="8" opacity=".23"/><rect x="89" width="3" height="8" opacity=".35"/><rect x="97" width="2" height="8" opacity=".28"/><rect x="99" width="1" height="8" opacity=".18"/><rect x="126" width="3" height="8" opacity=".32"/><rect x="136" width="2" height="8" opacity=".17"/><rect x="140" width="1" height="8" opacity=".29"/><rect x="141" width="1" height="8" opacity=".31"/><rect x="152" width="2" height="8" opacity=".20"/><rect x="158" width="1" height="8" opacity=".14"/><rect x="161" width="3" height="8" opacity=".15"/><rect x="175" width="1" height="8" opacity=".17"/><rect x="185" width="2" height="8" opacity=".08"/><rect x="194" width="2" height="8" opacity=".32"/><rect x="198" width="3" height="8" opacity=".22"/><rect x="204" width="1" height="8" opacity=".13"/><rect x="211" width="2" height="8" opacity=".21"/><rect x="216" width="2" height="8" opacity=".29"/><rect x="219" width="1" height="8" opacity=".14"/><rect x="245" width="3" height="8" opacity=".18"/><rect x="250" width="1" height="8" opacity=".09"/><rect x="252" width="2" height="8" opacity=".30"/></g>
</pattern>
<pattern id="B11a" href="#B11" patternTransform="translate(37 0)"/>
<pattern id="B11b" href="#B11" patternTransform="translate(81 0)"/>
<pattern id="B11c" href="#B11" patternTransform="translate(119 0)"/>
<pattern id="B11d" href="#B11" patternTransform="translate(163 0)"/>
<pattern id="B11e" href="#B11" patternTransform="translate(201 0)"/>
<pattern id="B20" patternUnits="userSpaceOnUse" width="256" height="8">
<g fill="#000"><rect x="0" width="2" height="8" opacity=".18"/><rect x="3" width="2" height="8" opacity=".10"/><rect x="5" width="1" height="8" opacity=".12"/><rect x="6" width="3" height="8" opacity=".06"/><rect x="12" width="1" height="8" opacity=".17"/><rect x="15" width="2" height="8" opacity=".10"/><rect x="23" width="3" height="8" opacity=".27"/><rect x="28" width="2" height="8" opacity=".13"/><rect x="31" width="2" height="8" opacity=".28"/><rect x="34" width="1" height="8" opacity=".12"/><rect x="35" width="2" height="8" opacity=".30"/><rect x="37" width="2" height="8" opacity=".05"/><rect x="39" width="2" height="8" opacity=".27"/><rect x="43" width="2" height="8" opacity=".24"/><rect x="45" width="2" height="8" opacity=".29"/><rect x="50" width="2" height="8" opacity=".13"/><rect x="52" width="3" height="8" opacity=".20"/><rect x="57" width="2" height="8" opacity=".26"/><rect x="59" width="2" height="8" opacity=".20"/><rect x="64" width="1" height="8" opacity=".07"/><rect x="67" width="2" height="8" opacity=".14"/><rect x="69" width="2" height="8" opacity=".26"/><rect x="73" width="2" height="8" opacity=".26"/><rect x="78" width="2" height="8" opacity=".18"/><rect x="80" width="2" height="8" opacity=".12"/><rect x="85" width="2" height="8" opacity=".12"/><rect x="87" width="2" height="8" opacity=".08"/><rect x="89" width="2" height="8" opacity=".10"/><rect x="91" width="2" height="8" opacity=".26"/><rect x="95" width="1" height="8" opacity=".11"/><rect x="96" width="2" height="8" opacity=".18"/><rect x="107" width="3" height="8" opacity=".29"/><rect x="110" width="3" height="8" opacity=".10"/><rect x="113" width="2" height="8" opacity=".14"/><rect x="122" width="2" height="8" opacity=".18"/><rect x="124" width="1" height="8" opacity=".12"/><rect x="126" width="2" height="8" opacity=".21"/><rect x="134" width="2" height="8" opacity=".27"/><rect x="136" width="2" height="8" opacity=".20"/><rect x="138" width="2" height="8" opacity=".19"/><rect x="143" width="2" height="8" opacity=".04"/><rect x="151" width="2" height="8" opacity=".05"/><rect x="158" width="1" height="8" opacity=".07"/><rect x="160" width="1" height="8" opacity=".08"/><rect x="166" width="2" height="8" opacity=".23"/><rect x="168" width="2" height="8" opacity=".05"/><rect x="170" width="3" height="8" opacity=".28"/><rect x="173" width="2" height="8" opacity=".09"/><rect x="175" width="2" height="8" opacity=".05"/><rect x="179" width="2" height="8" opacity=".10"/><rect x="181" width="1" height="8" opacity=".28"/><rect x="182" width="1" height="8" opacity=".27"/><rect x="183" width="2" height="8" opacity=".20"/><rect x="187" width="1" height="8" opacity=".14"/><rect x="193" width="2" height="8" opacity=".27"/><rect x="195" width="1" height="8" opacity=".13"/><rect x="196" width="1" height="8" opacity=".27"/><rect x="201" width="2" height="8" opacity=".06"/><rect x="203" width="1" height="8" opacity=".28"/><rect x="204" width="2" height="8" opacity=".09"/><rect x="206" width="2" height="8" opacity=".15"/><rect x="210" width="1" height="8" opacity=".07"/><rect x="211" width="1" height="8" opacity=".26"/><rect x="213" width="1" height="8" opacity=".13"/><rect x="214" width="3" height="8" opacity=".20"/><rect x="217" width="2" height="8" opacity=".29"/><rect x="219" width="2" height="8" opacity=".26"/><rect x="221" width="3" height="8" opacity=".22"/><rect x="228" width="2" height="8" opacity=".27"/><rect x="232" width="2" height="8" opacity=".23"/><rect x="234" width="1" height="8" opacity=".14"/><rect x="236" width="1" height="8" opacity=".21"/><rect x="237" width="1" height="8" opacity=".28"/><rect x="240" width="1" height="8" opacity=".12"/><rect x="241" width="1" height="8" opacity=".25"/><rect x="242" width="2" height="8" opacity=".14"/><rect x="250" width="1" height="8" opacity=".22"/><rect x="254" width="2" height="8" opacity=".22"/></g>
<g fill="#5800FF"><rect x="2" width="1" height="8" opacity=".19"/><rect x="11" width="1" height="8" opacity=".29"/><rect x="22" width="1" height="8" opacity=".17"/><rect x="26" width="2" height="8" opacity=".26"/><rect x="30" width="1" height="8" opacity=".23"/><rect x="41" width="2" height="8" opacity=".28"/><rect x="75" width="3" height="8" opacity=".35"/><rect x="98" width="2" height="8" opacity=".45"/><rect x="105" width="2" height="8" opacity=".11"/><rect x="118" width="2" height="8" opacity=".25"/><rect x="132" width="2" height="8" opacity=".28"/><rect x="140" width="3" height="8" opacity=".11"/><rect x="153" width="1" height="8" opacity=".29"/><rect x="156" width="2" height="8" opacity=".15"/><rect x="159" width="1" height="8" opacity=".28"/><rect x="161" width="2" height="8" opacity=".26"/><rect x="165" width="1" height="8" opacity=".34"/><rect x="177" width="2" height="8" opacity=".44"/><rect x="188" width="3" height="8" opacity=".24"/><rect x="197" width="2" height="8" opacity=".14"/><rect x="208" width="2" height="8" opacity=".22"/><rect x="212" width="1" height="8" opacity=".26"/><rect x="224" width="2" height="8" opacity=".25"/><rect x="226" width="2" height="8" opacity=".24"/><rect x="231" width="1" height="8" opacity=".19"/></g>
</pattern>
<pattern id="B20a" href="#B20" patternTransform="translate(37 0)"/>
<pattern id="B20b" href="#B20" patternTransform="translate(81 0)"/>
<pattern id="B20c" href="#B20" patternTransform="translate(119 0)"/>
<pattern id="B20d" href="#B20" patternTransform="translate(163 0)"/>
<pattern id="B20e" href="#B20" patternTransform="translate(201 0)"/>
<pattern id="B21" patternUnits="userSpaceOnUse" width="256" height="8">
<g fill="#000"><rect x="0" width="2" height="8" opacity=".26"/><rect x="4" width="1" height="8" opacity=".07"/><rect x="10" width="2" height="8" opacity=".08"/><rect x="13" width="1" height="8" opacity=".05"/><rect x="22" width="2" height="8" opacity=".04"/><rect x="24" width="3" height="8" opacity=".05"/><rect x="34" width="1" height="8" opacity=".23"/><rect x="38" width="2" height="8" opacity=".29"/><rect x="40" width="2" height="8" opacity=".13"/><rect x="56" width="2" height="8" opacity=".18"/><rect x="58" width="3" height="8" opacity=".11"/><rect x="61" width="1" height="8" opacity=".13"/><rect x="62" width="1" height="8" opacity=".12"/><rect x="68" width="3" height="8" opacity=".12"/><rect x="71" width="3" height="8" opacity=".19"/><rect x="83" width="1" height="8" opacity=".09"/><rect x="85" width="2" height="8" opacity=".22"/><rect x="89" width="1" height="8" opacity=".16"/><rect x="90" width="2" height="8" opacity=".18"/><rect x="92" width="1" height="8" opacity=".30"/><rect x="93" width="2" height="8" opacity=".23"/><rect x="100" width="2" height="8" opacity=".18"/><rect x="102" width="1" height="8" opacity=".06"/><rect x="108" width="3" height="8" opacity=".08"/><rect x="111" width="1" height="8" opacity=".14"/><rect x="112" width="1" height="8" opacity=".09"/><rect x="116" width="3" height="8" opacity=".24"/><rect x="121" width="2" height="8" opacity=".21"/><rect x="123" width="2" height="8" opacity=".14"/><rect x="127" width="2" height="8" opacity=".05"/><rect x="131" width="3" height="8" opacity=".05"/><rect x="138" width="3" height="8" opacity=".08"/><rect x="147" width="2" height="8" opacity=".26"/><rect x="149" width="2" height="8" opacity=".11"/><rect x="151" width="3" height="8" opacity=".22"/><rect x="154" width="2" height="8" opacity=".04"/><rect x="157" width="1" height="8" opacity=".04"/><rect x="160" width="2" height="8" opacity=".06"/><rect x="172" width="2" height="8" opacity=".14"/><rect x="179" width="1" height="8" opacity=".23"/><rect x="180" width="3" height="8" opacity=".21"/><rect x="187" width="2" height="8" opacity=".10"/><rect x="192" width="3" height="8" opacity=".17"/><rect x="197" width="3" height="8" opacity=".17"/><rect x="202" width="3" height="8" opacity=".15"/><rect x="208" width="2" height="8" opacity=".26"/><rect x="213" width="1" height="8" opacity=".20"/><rect x="214" width="2" height="8" opacity=".14"/><rect x="218" width="1" height="8" opacity=".27"/><rect x="222" width="2" height="8" opacity=".23"/><rect x="229" width="2" height="8" opacity=".14"/><rect x="234" width="2" height="8" opacity=".20"/><rect x="236" width="1" height="8" opacity=".13"/><rect x="237" width="2" height="8" opacity=".28"/><rect x="239" width="3" height="8" opacity=".13"/><rect x="242" width="3" height="8" opacity=".26"/><rect x="245" width="2" height="8" opacity=".25"/><rect x="247" width="2" height="8" opacity=".25"/><rect x="249" width="1" height="8" opacity=".28"/></g>
<g fill="#5800FF"><rect x="14" width="2" height="8" opacity=".43"/><rect x="18" width="2" height="8" opacity=".28"/><rect x="27" width="2" height="8" opacity=".12"/><rect x="35" width="3" height="8" opacity=".18"/><rect x="44" width="3" height="8" opacity=".28"/><rect x="52" width="1" height="8" opacity=".17"/><rect x="67" width="1" height="8" opacity=".26"/><rect x="74" width="2" height="8" opacity=".14"/><rect x="79" width="1" height="8" opacity=".26"/><rect x="95" width="3" height="8" opacity=".14"/><rect x="103" width="2" height="8" opacity=".43"/><rect x="113" width="3" height="8" opacity=".41"/><rect x="134" width="1" height="8" opacity=".27"/><rect x="136" width="2" height="8" opacity=".13"/><rect x="145" width="2" height="8" opacity=".18"/><rect x="162" width="2" height="8" opacity=".25"/><rect x="167" width="2" height="8" opacity=".38"/><rect x="170" width="2" height="8" opacity=".20"/><rect x="174" width="3" height="8" opacity=".20"/><rect x="177" width="2" height="8" opacity=".32"/><rect x="183" width="2" height="8" opacity=".43"/><rect x="185" width="2" height="8" opacity=".30"/><rect x="189" width="1" height="8" opacity=".14"/><rect x="190" width="2" height="8" opacity=".17"/><rect x="195" width="2" height="8" opacity=".29"/><rect x="200" width="2" height="8" opacity=".40"/><rect x="205" width="2" height="8" opacity=".35"/><rect x="207" width="1" height="8" opacity=".44"/><rect x="210" width="2" height="8" opacity=".44"/><rect x="212" width="1" height="8" opacity=".37"/><rect x="217" width="1" height="8" opacity=".14"/><rect x="221" width="1" height="8" opacity=".42"/><rect x="231" width="3" height="8" opacity=".22"/><rect x="250" width="3" height="8" opacity=".39"/></g>
</pattern>
<pattern id="B21a" href="#B21" patternTransform="translate(37 0)"/>
<pattern id="B21b" href="#B21" patternTransform="translate(81 0)"/>
<pattern id="B21c" href="#B21" patternTransform="translate(119 0)"/>
<pattern id="B21d" href="#B21" patternTransform="translate(163 0)"/>
<pattern id="B21e" href="#B21" patternTransform="translate(201 0)"/>
<pattern id="pk0" patternUnits="userSpaceOnUse" width="256" height="8">
<g fill="#000"><rect x="2" width="1" height="8" opacity=".20"/><rect x="5" width="1" height="8" opacity=".13"/><rect x="16" width="2" height="8" opacity=".18"/><rect x="20" width="1" height="8" opacity=".08"/><rect x="29" width="2" height="8" opacity=".05"/><rect x="31" width="3" height="8" opacity=".09"/><rect x="39" width="3" height="8" opacity=".12"/><rect x="45" width="3" height="8" opacity=".16"/><rect x="65" width="1" height="8" opacity=".02"/><rect x="79" width="2" height="8" opacity=".05"/><rect x="93" width="2" height="8" opacity=".05"/><rect x="95" width="2" height="8" opacity=".02"/><rect x="98" width="2" height="8" opacity=".11"/><rect x="100" width="1" height="8" opacity=".15"/><rect x="102" width="1" height="8" opacity=".17"/><rect x="105" width="1" height="8" opacity=".14"/><rect x="107" width="1" height="8" opacity=".08"/><rect x="108" width="3" height="8" opacity=".11"/><rect x="113" width="2" height="8" opacity=".18"/><rect x="115" width="1" height="8" opacity=".13"/><rect x="118" width="2" height="8" opacity=".10"/><rect x="120" width="1" height="8" opacity=".08"/><rect x="125" width="2" height="8" opacity=".02"/><rect x="127" width="1" height="8" opacity=".16"/><rect x="131" width="2" height="8" opacity=".20"/><rect x="147" width="2" height="8" opacity=".11"/><rect x="152" width="2" height="8" opacity=".13"/><rect x="157" width="2" height="8" opacity=".03"/><rect x="159" width="2" height="8" opacity=".16"/><rect x="167" width="3" height="8" opacity=".20"/><rect x="170" width="2" height="8" opacity=".18"/><rect x="174" width="1" height="8" opacity=".15"/><rect x="178" width="2" height="8" opacity=".12"/><rect x="187" width="1" height="8" opacity=".07"/><rect x="188" width="2" height="8" opacity=".08"/><rect x="192" width="3" height="8" opacity=".18"/><rect x="195" width="2" height="8" opacity=".12"/><rect x="201" width="2" height="8" opacity=".02"/><rect x="203" width="1" height="8" opacity=".14"/><rect x="211" width="2" height="8" opacity=".18"/><rect x="215" width="1" height="8" opacity=".18"/><rect x="226" width="3" height="8" opacity=".04"/><rect x="229" width="2" height="8" opacity=".10"/><rect x="233" width="2" height="8" opacity=".04"/><rect x="253" width="1" height="8" opacity=".03"/><rect x="254" width="1" height="8" opacity=".03"/></g>
<g fill="#B828F0"><rect x="3" width="2" height="8" opacity=".56"/><rect x="12" width="2" height="8" opacity=".56"/><rect x="14" width="2" height="8" opacity=".32"/><rect x="21" width="2" height="8" opacity=".37"/><rect x="23" width="2" height="8" opacity=".31"/><rect x="25" width="2" height="8" opacity=".16"/><rect x="34" width="1" height="8" opacity=".27"/><rect x="56" width="1" height="8" opacity=".41"/><rect x="57" width="2" height="8" opacity=".48"/><rect x="59" width="3" height="8" opacity=".61"/><rect x="62" width="2" height="8" opacity=".57"/><rect x="66" width="3" height="8" opacity=".36"/><rect x="72" width="1" height="8" opacity=".29"/><rect x="84" width="2" height="8" opacity=".51"/><rect x="97" width="1" height="8" opacity=".24"/><rect x="103" width="2" height="8" opacity=".21"/><rect x="124" width="1" height="8" opacity=".48"/><rect x="128" width="1" height="8" opacity=".32"/><rect x="129" width="2" height="8" opacity=".43"/><rect x="133" width="2" height="8" opacity=".50"/><rect x="139" width="3" height="8" opacity=".51"/><rect x="142" width="3" height="8" opacity=".28"/><rect x="145" width="2" height="8" opacity=".28"/><rect x="166" width="1" height="8" opacity=".31"/><rect x="172" width="2" height="8" opacity=".30"/><rect x="197" width="1" height="8" opacity=".59"/><rect x="208" width="3" height="8" opacity=".52"/><rect x="217" width="1" height="8" opacity=".32"/><rect x="218" width="1" height="8" opacity=".34"/><rect x="219" width="2" height="8" opacity=".58"/><rect x="221" width="3" height="8" opacity=".31"/><rect x="237" width="2" height="8" opacity=".23"/><rect x="247" width="2" height="8" opacity=".38"/><rect x="249" width="1" height="8" opacity=".25"/></g>
</pattern>
<pattern id="pk0a" href="#pk0" patternTransform="translate(37 0)"/>
<pattern id="pk0b" href="#pk0" patternTransform="translate(81 0)"/>
<pattern id="pk0c" href="#pk0" patternTransform="translate(119 0)"/>
<pattern id="pk0d" href="#pk0" patternTransform="translate(163 0)"/>
<pattern id="pk0e" href="#pk0" patternTransform="translate(201 0)"/>
<pattern id="pk1" patternUnits="userSpaceOnUse" width="256" height="8">
<g fill="#000"><rect x="0" width="2" height="8" opacity=".14"/><rect x="18" width="3" height="8" opacity=".13"/><rect x="40" width="2" height="8" opacity=".13"/><rect x="72" width="2" height="8" opacity=".19"/><rect x="78" width="2" height="8" opacity=".05"/><rect x="89" width="3" height="8" opacity=".13"/><rect x="95" width="2" height="8" opacity=".14"/><rect x="101" width="2" height="8" opacity=".12"/><rect x="109" width="2" height="8" opacity=".17"/><rect x="112" width="1" height="8" opacity=".10"/><rect x="127" width="2" height="8" opacity=".13"/><rect x="141" width="1" height="8" opacity=".12"/><rect x="150" width="3" height="8" opacity=".12"/><rect x="153" width="3" height="8" opacity=".08"/><rect x="158" width="1" height="8" opacity=".17"/><rect x="174" width="1" height="8" opacity=".12"/><rect x="175" width="2" height="8" opacity=".08"/><rect x="183" width="3" height="8" opacity=".07"/><rect x="188" width="2" height="8" opacity=".06"/><rect x="190" width="1" height="8" opacity=".14"/><rect x="198" width="2" height="8" opacity=".19"/><rect x="207" width="2" height="8" opacity=".06"/><rect x="209" width="2" height="8" opacity=".15"/><rect x="215" width="2" height="8" opacity=".06"/><rect x="218" width="1" height="8" opacity=".18"/><rect x="229" width="3" height="8" opacity=".04"/><rect x="232" width="1" height="8" opacity=".04"/><rect x="239" width="3" height="8" opacity=".05"/><rect x="242" width="2" height="8" opacity=".06"/></g>
<g fill="#B828F0"><rect x="2" width="3" height="8" opacity=".28"/><rect x="10" width="2" height="8" opacity=".40"/><rect x="23" width="3" height="8" opacity=".26"/><rect x="29" width="1" height="8" opacity=".41"/><rect x="37" width="1" height="8" opacity=".45"/><rect x="38" width="2" height="8" opacity=".43"/><rect x="63" width="2" height="8" opacity=".37"/><rect x="67" width="2" height="8" opacity=".25"/><rect x="77" width="1" height="8" opacity=".32"/><rect x="80" width="2" height="8" opacity=".32"/><rect x="85" width="2" height="8" opacity=".46"/><rect x="87" width="2" height="8" opacity=".62"/><rect x="97" width="2" height="8" opacity=".46"/><rect x="99" width="2" height="8" opacity=".31"/><rect x="111" width="1" height="8" opacity=".38"/><rect x="117" width="3" height="8" opacity=".32"/><rect x="123" width="2" height="8" opacity=".44"/><rect x="125" width="2" height="8" opacity=".33"/><rect x="136" width="2" height="8" opacity=".34"/><rect x="144" width="2" height="8" opacity=".37"/><rect x="146" width="1" height="8" opacity=".38"/><rect x="161" width="1" height="8" opacity=".55"/><rect x="173" width="1" height="8" opacity=".24"/><rect x="202" width="3" height="8" opacity=".40"/><rect x="217" width="1" height="8" opacity=".45"/><rect x="219" width="2" height="8" opacity=".16"/><rect x="224" width="1" height="8" opacity=".47"/><rect x="228" width="1" height="8" opacity=".22"/><rect x="233" width="1" height="8" opacity=".46"/><rect x="249" width="1" height="8" opacity=".27"/></g>
</pattern>
<pattern id="pk1a" href="#pk1" patternTransform="translate(37 0)"/>
<pattern id="pk1b" href="#pk1" patternTransform="translate(81 0)"/>
<pattern id="pk1c" href="#pk1" patternTransform="translate(119 0)"/>
<pattern id="pk1d" href="#pk1" patternTransform="translate(163 0)"/>
<pattern id="pk1e" href="#pk1" patternTransform="translate(201 0)"/>
<pattern id="b30" patternUnits="userSpaceOnUse" width="256" height="8">
<g fill="#000"><rect x="2" width="2" height="8" opacity=".37"/><rect x="6" width="2" height="8" opacity=".25"/><rect x="13" width="2" height="8" opacity=".29"/><rect x="18" width="1" height="8" opacity=".19"/><rect x="21" width="1" height="8" opacity=".29"/><rect x="25" width="2" height="8" opacity=".13"/><rect x="27" width="2" height="8" opacity=".22"/><rect x="31" width="2" height="8" opacity=".44"/><rect x="38" width="2" height="8" opacity=".13"/><rect x="44" width="3" height="8" opacity=".34"/><rect x="47" width="2" height="8" opacity=".41"/><rect x="49" width="3" height="8" opacity=".13"/><rect x="52" width="1" height="8" opacity=".47"/><rect x="53" width="2" height="8" opacity=".18"/><rect x="56" width="1" height="8" opacity=".19"/><rect x="57" width="2" height="8" opacity=".28"/><rect x="60" width="2" height="8" opacity=".15"/><rect x="67" width="1" height="8" opacity=".08"/><rect x="71" width="1" height="8" opacity=".14"/><rect x="74" width="2" height="8" opacity=".31"/><rect x="85" width="1" height="8" opacity=".22"/><rect x="86" width="1" height="8" opacity=".36"/><rect x="87" width="3" height="8" opacity=".20"/><rect x="97" width="1" height="8" opacity=".17"/><rect x="103" width="1" height="8" opacity=".16"/><rect x="107" width="2" height="8" opacity=".31"/><rect x="113" width="3" height="8" opacity=".23"/><rect x="116" width="2" height="8" opacity=".41"/><rect x="122" width="1" height="8" opacity=".40"/><rect x="134" width="2" height="8" opacity=".53"/><rect x="141" width="1" height="8" opacity=".34"/><rect x="142" width="2" height="8" opacity=".30"/><rect x="147" width="1" height="8" opacity=".44"/><rect x="151" width="2" height="8" opacity=".09"/><rect x="159" width="2" height="8" opacity=".29"/><rect x="162" width="2" height="8" opacity=".35"/><rect x="164" width="2" height="8" opacity=".32"/><rect x="166" width="1" height="8" opacity=".47"/><rect x="167" width="2" height="8" opacity=".22"/><rect x="169" width="2" height="8" opacity=".49"/><rect x="173" width="1" height="8" opacity=".36"/><rect x="176" width="1" height="8" opacity=".22"/><rect x="177" width="1" height="8" opacity=".16"/><rect x="180" width="2" height="8" opacity=".21"/><rect x="184" width="2" height="8" opacity=".47"/><rect x="186" width="1" height="8" opacity=".05"/><rect x="187" width="1" height="8" opacity=".17"/><rect x="192" width="3" height="8" opacity=".33"/><rect x="199" width="2" height="8" opacity=".18"/><rect x="201" width="2" height="8" opacity=".38"/><rect x="206" width="3" height="8" opacity=".38"/><rect x="209" width="2" height="8" opacity=".54"/><rect x="212" width="3" height="8" opacity=".24"/><rect x="221" width="2" height="8" opacity=".53"/><rect x="223" width="2" height="8" opacity=".34"/><rect x="236" width="1" height="8" opacity=".54"/><rect x="237" width="3" height="8" opacity=".53"/><rect x="240" width="3" height="8" opacity=".53"/><rect x="243" width="3" height="8" opacity=".50"/><rect x="246" width="2" height="8" opacity=".34"/><rect x="252" width="1" height="8" opacity=".31"/><rect x="253" width="3" height="8" opacity=".08"/></g>
<g fill="#7000FF"><rect x="4" width="1" height="8" opacity=".45"/><rect x="5" width="1" height="8" opacity=".46"/><rect x="9" width="1" height="8" opacity=".21"/><rect x="19" width="2" height="8" opacity=".37"/><rect x="22" width="1" height="8" opacity=".25"/><rect x="23" width="2" height="8" opacity=".58"/><rect x="29" width="2" height="8" opacity=".26"/><rect x="35" width="3" height="8" opacity=".15"/><rect x="40" width="2" height="8" opacity=".12"/><rect x="42" width="2" height="8" opacity=".31"/><rect x="59" width="1" height="8" opacity=".12"/><rect x="62" width="2" height="8" opacity=".59"/><rect x="65" width="2" height="8" opacity=".55"/><rect x="68" width="3" height="8" opacity=".44"/><rect x="76" width="2" height="8" opacity=".16"/><rect x="78" width="3" height="8" opacity=".22"/><rect x="83" width="2" height="8" opacity=".13"/><rect x="91" width="2" height="8" opacity=".19"/><rect x="98" width="3" height="8" opacity=".18"/><rect x="104" width="2" height="8" opacity=".13"/><rect x="111" width="2" height="8" opacity=".20"/><rect x="118" width="2" height="8" opacity=".50"/><rect x="120" width="2" height="8" opacity=".47"/><rect x="125" width="3" height="8" opacity=".49"/><rect x="128" width="3" height="8" opacity=".32"/><rect x="136" width="2" height="8" opacity=".42"/><rect x="148" width="3" height="8" opacity=".57"/><rect x="153" width="3" height="8" opacity=".50"/><rect x="156" width="3" height="8" opacity=".52"/><rect x="171" width="2" height="8" opacity=".50"/><rect x="195" width="2" height="8" opacity=".17"/><rect x="197" width="2" height="8" opacity=".14"/><rect x="203" width="3" height="8" opacity=".57"/><rect x="218" width="3" height="8" opacity=".57"/><rect x="225" width="2" height="8" opacity=".60"/><rect x="251" width="1" height="8" opacity=".54"/></g>
</pattern>
<pattern id="b30a" href="#b30" patternTransform="translate(37 0)"/>
<pattern id="b30b" href="#b30" patternTransform="translate(81 0)"/>
<pattern id="b30c" href="#b30" patternTransform="translate(119 0)"/>
<pattern id="b30d" href="#b30" patternTransform="translate(163 0)"/>
<pattern id="b30e" href="#b30" patternTransform="translate(201 0)"/>
<pattern id="b31" patternUnits="userSpaceOnUse" width="256" height="8">
<g fill="#000"><rect x="4" width="1" height="8" opacity=".50"/><rect x="5" width="2" height="8" opacity=".21"/><rect x="7" width="2" height="8" opacity=".39"/><rect x="9" width="2" height="8" opacity=".24"/><rect x="11" width="2" height="8" opacity=".15"/><rect x="15" width="3" height="8" opacity=".50"/><rect x="18" width="1" height="8" opacity=".43"/><rect x="23" width="2" height="8" opacity=".41"/><rect x="27" width="3" height="8" opacity=".27"/><rect x="30" width="1" height="8" opacity=".46"/><rect x="31" width="2" height="8" opacity=".35"/><rect x="33" width="2" height="8" opacity=".17"/><rect x="40" width="3" height="8" opacity=".20"/><rect x="43" width="3" height="8" opacity=".41"/><rect x="54" width="2" height="8" opacity=".45"/><rect x="65" width="1" height="8" opacity=".39"/><rect x="66" width="2" height="8" opacity=".05"/><rect x="70" width="2" height="8" opacity=".41"/><rect x="75" width="1" height="8" opacity=".39"/><rect x="78" width="3" height="8" opacity=".19"/><rect x="86" width="3" height="8" opacity=".35"/><rect x="89" width="2" height="8" opacity=".16"/><rect x="91" width="1" height="8" opacity=".23"/><rect x="94" width="1" height="8" opacity=".40"/><rect x="95" width="1" height="8" opacity=".53"/><rect x="96" width="1" height="8" opacity=".36"/><rect x="97" width="1" height="8" opacity=".30"/><rect x="100" width="1" height="8" opacity=".46"/><rect x="106" width="1" height="8" opacity=".54"/><rect x="109" width="1" height="8" opacity=".30"/><rect x="110" width="2" height="8" opacity=".53"/><rect x="114" width="2" height="8" opacity=".25"/><rect x="116" width="2" height="8" opacity=".38"/><rect x="119" width="2" height="8" opacity=".54"/><rect x="127" width="2" height="8" opacity=".25"/><rect x="132" width="2" height="8" opacity=".44"/><rect x="137" width="2" height="8" opacity=".43"/><rect x="145" width="2" height="8" opacity=".06"/><rect x="153" width="3" height="8" opacity=".37"/><rect x="156" width="2" height="8" opacity=".07"/><rect x="162" width="2" height="8" opacity=".13"/><rect x="173" width="1" height="8" opacity=".38"/><rect x="175" width="2" height="8" opacity=".42"/><rect x="177" width="2" height="8" opacity=".50"/><rect x="179" width="2" height="8" opacity=".06"/><rect x="182" width="2" height="8" opacity=".05"/><rect x="187" width="2" height="8" opacity=".33"/><rect x="191" width="1" height="8" opacity=".15"/><rect x="192" width="2" height="8" opacity=".10"/><rect x="196" width="1" height="8" opacity=".34"/><rect x="201" width="2" height="8" opacity=".38"/><rect x="214" width="1" height="8" opacity=".33"/><rect x="221" width="3" height="8" opacity=".10"/><rect x="231" width="1" height="8" opacity=".06"/><rect x="233" width="3" height="8" opacity=".12"/><rect x="236" width="2" height="8" opacity=".31"/><rect x="241" width="1" height="8" opacity=".06"/><rect x="247" width="2" height="8" opacity=".08"/><rect x="251" width="3" height="8" opacity=".42"/><rect x="254" width="1" height="8" opacity=".30"/><rect x="255" width="1" height="8" opacity=".40"/></g>
<g fill="#7000FF"><rect x="13" width="2" height="8" opacity=".52"/><rect x="19" width="2" height="8" opacity=".52"/><rect x="25" width="2" height="8" opacity=".24"/><rect x="46" width="3" height="8" opacity=".49"/><rect x="63" width="2" height="8" opacity=".55"/><rect x="68" width="2" height="8" opacity=".39"/><rect x="76" width="1" height="8" opacity=".55"/><rect x="81" width="3" height="8" opacity=".45"/><rect x="98" width="2" height="8" opacity=".40"/><rect x="101" width="1" height="8" opacity=".25"/><rect x="104" width="2" height="8" opacity=".21"/><rect x="107" width="2" height="8" opacity=".12"/><rect x="121" width="1" height="8" opacity=".39"/><rect x="122" width="2" height="8" opacity=".44"/><rect x="124" width="3" height="8" opacity=".20"/><rect x="142" width="3" height="8" opacity=".11"/><rect x="150" width="3" height="8" opacity=".38"/><rect x="158" width="1" height="8" opacity=".31"/><rect x="164" width="2" height="8" opacity=".14"/><rect x="171" width="2" height="8" opacity=".35"/><rect x="174" width="1" height="8" opacity=".57"/><rect x="184" width="1" height="8" opacity=".12"/><rect x="185" width="2" height="8" opacity=".14"/><rect x="189" width="2" height="8" opacity=".42"/><rect x="197" width="3" height="8" opacity=".56"/><rect x="200" width="1" height="8" opacity=".46"/><rect x="206" width="3" height="8" opacity=".45"/><rect x="209" width="2" height="8" opacity=".16"/><rect x="211" width="2" height="8" opacity=".13"/><rect x="225" width="1" height="8" opacity=".30"/><rect x="228" width="3" height="8" opacity=".31"/><rect x="238" width="1" height="8" opacity=".58"/><rect x="245" width="2" height="8" opacity=".41"/><rect x="249" width="2" height="8" opacity=".33"/></g>
</pattern>
<pattern id="b31a" href="#b31" patternTransform="translate(37 0)"/>
<pattern id="b31b" href="#b31" patternTransform="translate(81 0)"/>
<pattern id="b31c" href="#b31" patternTransform="translate(119 0)"/>
<pattern id="b31d" href="#b31" patternTransform="translate(163 0)"/>
<pattern id="b31e" href="#b31" patternTransform="translate(201 0)"/>
<pattern id="d10" patternUnits="userSpaceOnUse" width="256" height="8">
<g fill="#000"><rect x="0" width="3" height="8" opacity=".24"/><rect x="5" width="1" height="8" opacity=".17"/><rect x="6" width="1" height="8" opacity=".18"/><rect x="12" width="1" height="8" opacity=".10"/><rect x="16" width="2" height="8" opacity=".22"/><rect x="31" width="1" height="8" opacity=".43"/><rect x="32" width="2" height="8" opacity=".13"/><rect x="36" width="1" height="8" opacity=".12"/><rect x="37" width="2" height="8" opacity=".43"/><rect x="44" width="2" height="8" opacity=".17"/><rect x="50" width="2" height="8" opacity=".37"/><rect x="57" width="1" height="8" opacity=".10"/><rect x="65" width="3" height="8" opacity=".16"/><rect x="81" width="1" height="8" opacity=".44"/><rect x="90" width="2" height="8" opacity=".22"/><rect x="92" width="1" height="8" opacity=".10"/><rect x="93" width="1" height="8" opacity=".11"/><rect x="94" width="2" height="8" opacity=".26"/><rect x="100" width="2" height="8" opacity=".12"/><rect x="102" width="2" height="8" opacity=".34"/><rect x="106" width="2" height="8" opacity=".39"/><rect x="108" width="1" height="8" opacity=".37"/><rect x="114" width="1" height="8" opacity=".11"/><rect x="120" width="1" height="8" opacity=".26"/><rect x="121" width="1" height="8" opacity=".32"/><rect x="124" width="2" height="8" opacity=".40"/><rect x="127" width="2" height="8" opacity=".35"/><rect x="129" width="1" height="8" opacity=".35"/><rect x="130" width="2" height="8" opacity=".27"/><rect x="133" width="1" height="8" opacity=".22"/><rect x="134" width="1" height="8" opacity=".15"/><rect x="136" width="2" height="8" opacity=".41"/><rect x="140" width="1" height="8" opacity=".22"/><rect x="141" width="2" height="8" opacity=".09"/><rect x="151" width="1" height="8" opacity=".24"/><rect x="153" width="2" height="8" opacity=".27"/><rect x="159" width="2" height="8" opacity=".43"/><rect x="161" width="2" height="8" opacity=".27"/><rect x="165" width="1" height="8" opacity=".26"/><rect x="170" width="1" height="8" opacity=".25"/><rect x="171" width="2" height="8" opacity=".18"/><rect x="173" width="2" height="8" opacity=".34"/><rect x="188" width="1" height="8" opacity=".41"/><rect x="193" width="3" height="8" opacity=".16"/><rect x="198" width="2" height="8" opacity=".09"/><rect x="202" width="1" height="8" opacity=".20"/><rect x="204" width="2" height="8" opacity=".14"/><rect x="208" width="1" height="8" opacity=".22"/><rect x="215" width="1" height="8" opacity=".37"/><rect x="216" width="2" height="8" opacity=".44"/><rect x="218" width="2" height="8" opacity=".15"/><rect x="224" width="1" height="8" opacity=".38"/><rect x="227" width="3" height="8" opacity=".18"/><rect x="230" width="2" height="8" opacity=".44"/><rect x="233" width="2" height="8" opacity=".20"/><rect x="235" width="1" height="8" opacity=".24"/><rect x="237" width="2" height="8" opacity=".29"/><rect x="240" width="3" height="8" opacity=".43"/><rect x="243" width="2" height="8" opacity=".24"/><rect x="246" width="2" height="8" opacity=".36"/><rect x="249" width="2" height="8" opacity=".22"/></g>
<g fill="#0000C0"><rect x="4" width="1" height="8" opacity=".11"/><rect x="9" width="1" height="8" opacity=".15"/><rect x="46" width="2" height="8" opacity=".11"/><rect x="53" width="1" height="8" opacity=".07"/><rect x="54" width="2" height="8" opacity=".11"/><rect x="56" width="1" height="8" opacity=".21"/><rect x="58" width="3" height="8" opacity=".21"/><rect x="104" width="1" height="8" opacity=".17"/><rect x="122" width="2" height="8" opacity=".06"/><rect x="143" width="2" height="8" opacity=".07"/><rect x="147" width="1" height="8" opacity=".13"/><rect x="149" width="2" height="8" opacity=".07"/><rect x="175" width="2" height="8" opacity=".08"/><rect x="180" width="3" height="8" opacity=".18"/><rect x="196" width="2" height="8" opacity=".17"/><rect x="209" width="3" height="8" opacity=".22"/><rect x="222" width="1" height="8" opacity=".18"/><rect x="225" width="2" height="8" opacity=".15"/><rect x="236" width="1" height="8" opacity=".13"/></g>
</pattern>
<pattern id="d10a" href="#d10" patternTransform="translate(37 0)"/>
<pattern id="d10b" href="#d10" patternTransform="translate(81 0)"/>
<pattern id="d10c" href="#d10" patternTransform="translate(119 0)"/>
<pattern id="d10d" href="#d10" patternTransform="translate(163 0)"/>
<pattern id="d10e" href="#d10" patternTransform="translate(201 0)"/>
<pattern id="d11" patternUnits="userSpaceOnUse" width="256" height="8">
<g fill="#000"><rect x="0" width="2" height="8" opacity=".17"/><rect x="7" width="2" height="8" opacity=".11"/><rect x="14" width="3" height="8" opacity=".22"/><rect x="17" width="2" height="8" opacity=".38"/><rect x="34" width="1" height="8" opacity=".34"/><rect x="37" width="2" height="8" opacity=".16"/><rect x="40" width="1" height="8" opacity=".13"/><rect x="43" width="3" height="8" opacity=".30"/><rect x="51" width="2" height="8" opacity=".26"/><rect x="54" width="1" height="8" opacity=".12"/><rect x="60" width="3" height="8" opacity=".30"/><rect x="63" width="1" height="8" opacity=".39"/><rect x="64" width="3" height="8" opacity=".38"/><rect x="69" width="2" height="8" opacity=".41"/><rect x="73" width="2" height="8" opacity=".38"/><rect x="75" width="1" height="8" opacity=".17"/><rect x="76" width="1" height="8" opacity=".18"/><rect x="80" width="1" height="8" opacity=".12"/><rect x="83" width="2" height="8" opacity=".23"/><rect x="87" width="2" height="8" opacity=".11"/><rect x="89" width="1" height="8" opacity=".10"/><rect x="91" width="2" height="8" opacity=".40"/><rect x="93" width="2" height="8" opacity=".26"/><rect x="99" width="2" height="8" opacity=".35"/><rect x="101" width="1" height="8" opacity=".11"/><rect x="102" width="2" height="8" opacity=".30"/><rect x="111" width="1" height="8" opacity=".30"/><rect x="113" width="2" height="8" opacity=".18"/><rect x="117" width="1" height="8" opacity=".35"/><rect x="122" width="2" height="8" opacity=".15"/><rect x="126" width="2" height="8" opacity=".10"/><rect x="136" width="2" height="8" opacity=".27"/><rect x="138" width="2" height="8" opacity=".31"/><rect x="140" width="1" height="8" opacity=".20"/><rect x="141" width="1" height="8" opacity=".42"/><rect x="150" width="1" height="8" opacity=".11"/><rect x="165" width="2" height="8" opacity=".36"/><rect x="168" width="2" height="8" opacity=".40"/><rect x="170" width="2" height="8" opacity=".25"/><rect x="172" width="2" height="8" opacity=".32"/><rect x="179" width="3" height="8" opacity=".44"/><rect x="182" width="1" height="8" opacity=".42"/><rect x="183" width="3" height="8" opacity=".12"/><rect x="186" width="1" height="8" opacity=".38"/><rect x="189" width="1" height="8" opacity=".22"/><rect x="192" width="2" height="8" opacity=".17"/><rect x="194" width="2" height="8" opacity=".18"/><rect x="202" width="2" height="8" opacity=".15"/><rect x="211" width="3" height="8" opacity=".43"/><rect x="215" width="2" height="8" opacity=".17"/><rect x="219" width="3" height="8" opacity=".40"/><rect x="222" width="2" height="8" opacity=".35"/><rect x="233" width="2" height="8" opacity=".20"/><rect x="237" width="2" height="8" opacity=".21"/><rect x="239" width="2" height="8" opacity=".43"/><rect x="250" width="3" height="8" opacity=".14"/><rect x="253" width="2" height="8" opacity=".32"/></g>
<g fill="#0000C0"><rect x="2" width="3" height="8" opacity=".17"/><rect x="9" width="2" height="8" opacity=".08"/><rect x="25" width="1" height="8" opacity=".11"/><rect x="29" width="1" height="8" opacity=".11"/><rect x="32" width="1" height="8" opacity=".12"/><rect x="46" width="2" height="8" opacity=".11"/><rect x="67" width="2" height="8" opacity=".16"/><rect x="71" width="2" height="8" opacity=".17"/><rect x="82" width="1" height="8" opacity=".06"/><rect x="108" width="3" height="8" opacity=".12"/><rect x="115" width="2" height="8" opacity=".11"/><rect x="118" width="1" height="8" opacity=".09"/><rect x="142" width="1" height="8" opacity=".08"/><rect x="144" width="3" height="8" opacity=".11"/><rect x="147" width="3" height="8" opacity=".10"/><rect x="151" width="2" height="8" opacity=".06"/><rect x="153" width="3" height="8" opacity=".13"/><rect x="160" width="2" height="8" opacity=".18"/><rect x="177" width="2" height="8" opacity=".07"/><rect x="217" width="2" height="8" opacity=".19"/><rect x="226" width="3" height="8" opacity=".19"/><rect x="229" width="1" height="8" opacity=".05"/><rect x="255" width="1" height="8" opacity=".10"/></g>
</pattern>
<pattern id="d11a" href="#d11" patternTransform="translate(37 0)"/>
<pattern id="d11b" href="#d11" patternTransform="translate(81 0)"/>
<pattern id="d11c" href="#d11" patternTransform="translate(119 0)"/>
<pattern id="d11d" href="#d11" patternTransform="translate(163 0)"/>
<pattern id="d11e" href="#d11" patternTransform="translate(201 0)"/>
<pattern id="d20" patternUnits="userSpaceOnUse" width="256" height="8">
<g fill="#0000D0"><rect x="0" width="1" height="8" opacity=".16"/><rect x="13" width="2" height="8" opacity=".19"/><rect x="24" width="1" height="8" opacity=".09"/><rect x="31" width="2" height="8" opacity=".30"/><rect x="41" width="2" height="8" opacity=".28"/><rect x="57" width="1" height="8" opacity=".22"/><rect x="61" width="1" height="8" opacity=".28"/><rect x="65" width="3" height="8" opacity=".09"/><rect x="70" width="3" height="8" opacity=".17"/><rect x="81" width="2" height="8" opacity=".20"/><rect x="101" width="1" height="8" opacity=".30"/><rect x="110" width="2" height="8" opacity=".09"/><rect x="123" width="3" height="8" opacity=".22"/><rect x="139" width="2" height="8" opacity=".15"/><rect x="141" width="1" height="8" opacity=".19"/><rect x="147" width="2" height="8" opacity=".31"/><rect x="149" width="2" height="8" opacity=".19"/><rect x="161" width="2" height="8" opacity=".09"/><rect x="163" width="3" height="8" opacity=".20"/><rect x="177" width="1" height="8" opacity=".24"/><rect x="180" width="2" height="8" opacity=".13"/><rect x="182" width="1" height="8" opacity=".18"/><rect x="184" width="1" height="8" opacity=".27"/><rect x="185" width="2" height="8" opacity=".17"/><rect x="188" width="2" height="8" opacity=".19"/><rect x="206" width="1" height="8" opacity=".11"/><rect x="211" width="2" height="8" opacity=".31"/><rect x="213" width="1" height="8" opacity=".13"/><rect x="214" width="3" height="8" opacity=".26"/><rect x="219" width="1" height="8" opacity=".31"/><rect x="238" width="2" height="8" opacity=".24"/><rect x="240" width="2" height="8" opacity=".24"/><rect x="247" width="1" height="8" opacity=".16"/><rect x="248" width="2" height="8" opacity=".12"/><rect x="251" width="2" height="8" opacity=".20"/></g>
<g fill="#000"><rect x="1" width="1" height="8" opacity=".61"/><rect x="19" width="2" height="8" opacity=".21"/><rect x="23" width="1" height="8" opacity=".19"/><rect x="29" width="2" height="8" opacity=".50"/><rect x="43" width="2" height="8" opacity=".40"/><rect x="46" width="3" height="8" opacity=".26"/><rect x="49" width="2" height="8" opacity=".68"/><rect x="62" width="3" height="8" opacity=".27"/><rect x="73" width="3" height="8" opacity=".38"/><rect x="76" width="2" height="8" opacity=".33"/><rect x="90" width="1" height="8" opacity=".65"/><rect x="94" width="2" height="8" opacity=".18"/><rect x="96" width="2" height="8" opacity=".43"/><rect x="102" width="2" height="8" opacity=".23"/><rect x="106" width="2" height="8" opacity=".53"/><rect x="108" width="2" height="8" opacity=".38"/><rect x="113" width="3" height="8" opacity=".58"/><rect x="116" width="2" height="8" opacity=".43"/><rect x="118" width="1" height="8" opacity=".25"/><rect x="126" width="1" height="8" opacity=".61"/><rect x="127" width="2" height="8" opacity=".67"/><rect x="134" width="1" height="8" opacity=".24"/><rect x="136" width="2" height="8" opacity=".55"/><rect x="138" width="1" height="8" opacity=".63"/><rect x="142" width="1" height="8" opacity=".32"/><rect x="143" width="2" height="8" opacity=".38"/><rect x="151" width="2" height="8" opacity=".24"/><rect x="153" width="1" height="8" opacity=".36"/><rect x="154" width="1" height="8" opacity=".34"/><rect x="155" width="2" height="8" opacity=".54"/><rect x="171" width="2" height="8" opacity=".45"/><rect x="183" width="1" height="8" opacity=".22"/><rect x="187" width="1" height="8" opacity=".44"/><rect x="190" width="2" height="8" opacity=".49"/><rect x="194" width="2" height="8" opacity=".59"/><rect x="196" width="1" height="8" opacity=".65"/><rect x="197" width="2" height="8" opacity=".64"/><rect x="202" width="2" height="8" opacity=".26"/><rect x="205" width="1" height="8" opacity=".28"/><rect x="217" width="2" height="8" opacity=".63"/><rect x="220" width="1" height="8" opacity=".24"/><rect x="221" width="1" height="8" opacity=".54"/><rect x="222" width="3" height="8" opacity=".40"/><rect x="225" width="1" height="8" opacity=".49"/><rect x="229" width="1" height="8" opacity=".69"/><rect x="230" width="2" height="8" opacity=".37"/><rect x="232" width="2" height="8" opacity=".69"/><rect x="237" width="1" height="8" opacity=".64"/><rect x="245" width="2" height="8" opacity=".39"/><rect x="253" width="3" height="8" opacity=".53"/></g>
</pattern>
<pattern id="d20a" href="#d20" patternTransform="translate(37 0)"/>
<pattern id="d20b" href="#d20" patternTransform="translate(81 0)"/>
<pattern id="d20c" href="#d20" patternTransform="translate(119 0)"/>
<pattern id="d20d" href="#d20" patternTransform="translate(163 0)"/>
<pattern id="d20e" href="#d20" patternTransform="translate(201 0)"/>
<pattern id="d21" patternUnits="userSpaceOnUse" width="256" height="8">
<g fill="#0000D0"><rect x="0" width="1" height="8" opacity=".30"/><rect x="1" width="3" height="8" opacity=".08"/><rect x="24" width="1" height="8" opacity=".21"/><rect x="27" width="1" height="8" opacity=".28"/><rect x="31" width="2" height="8" opacity=".30"/><rect x="33" width="1" height="8" opacity=".11"/><rect x="36" width="2" height="8" opacity=".25"/><rect x="49" width="2" height="8" opacity=".22"/><rect x="68" width="2" height="8" opacity=".10"/><rect x="79" width="1" height="8" opacity=".27"/><rect x="85" width="1" height="8" opacity=".21"/><rect x="93" width="3" height="8" opacity=".28"/><rect x="97" width="1" height="8" opacity=".11"/><rect x="101" width="2" height="8" opacity=".14"/><rect x="108" width="1" height="8" opacity=".15"/><rect x="115" width="2" height="8" opacity=".17"/><rect x="144" width="3" height="8" opacity=".24"/><rect x="151" width="1" height="8" opacity=".16"/><rect x="152" width="3" height="8" opacity=".28"/><rect x="155" width="1" height="8" opacity=".32"/><rect x="157" width="2" height="8" opacity=".26"/><rect x="163" width="1" height="8" opacity=".25"/><rect x="166" width="2" height="8" opacity=".18"/><rect x="172" width="2" height="8" opacity=".17"/><rect x="184" width="2" height="8" opacity=".08"/><rect x="189" width="2" height="8" opacity=".18"/><rect x="194" width="1" height="8" opacity=".20"/><rect x="195" width="1" height="8" opacity=".12"/><rect x="202" width="2" height="8" opacity=".30"/><rect x="226" width="1" height="8" opacity=".15"/><rect x="236" width="1" height="8" opacity=".32"/><rect x="242" width="2" height="8" opacity=".19"/></g>
<g fill="#000"><rect x="4" width="2" height="8" opacity=".52"/><rect x="6" width="2" height="8" opacity=".51"/><rect x="12" width="2" height="8" opacity=".64"/><rect x="14" width="1" height="8" opacity=".65"/><rect x="19" width="3" height="8" opacity=".50"/><rect x="22" width="2" height="8" opacity=".49"/><rect x="28" width="1" height="8" opacity=".57"/><rect x="29" width="2" height="8" opacity=".31"/><rect x="34" width="2" height="8" opacity=".21"/><rect x="38" width="2" height="8" opacity=".40"/><rect x="40" width="2" height="8" opacity=".42"/><rect x="42" width="3" height="8" opacity=".19"/><rect x="45" width="2" height="8" opacity=".35"/><rect x="56" width="2" height="8" opacity=".67"/><rect x="62" width="2" height="8" opacity=".69"/><rect x="66" width="1" height="8" opacity=".62"/><rect x="67" width="1" height="8" opacity=".43"/><rect x="70" width="1" height="8" opacity=".48"/><rect x="71" width="3" height="8" opacity=".31"/><rect x="74" width="2" height="8" opacity=".23"/><rect x="77" width="2" height="8" opacity=".24"/><rect x="80" width="2" height="8" opacity=".18"/><rect x="83" width="2" height="8" opacity=".70"/><rect x="86" width="2" height="8" opacity=".38"/><rect x="90" width="3" height="8" opacity=".36"/><rect x="98" width="2" height="8" opacity=".24"/><rect x="103" width="2" height="8" opacity=".42"/><rect x="105" width="2" height="8" opacity=".34"/><rect x="107" width="1" height="8" opacity=".68"/><rect x="109" width="2" height="8" opacity=".45"/><rect x="113" width="2" height="8" opacity=".22"/><rect x="122" width="3" height="8" opacity=".68"/><rect x="128" width="2" height="8" opacity=".25"/><rect x="133" width="2" height="8" opacity=".16"/><rect x="135" width="2" height="8" opacity=".43"/><rect x="137" width="3" height="8" opacity=".61"/><rect x="140" width="3" height="8" opacity=".31"/><rect x="147" width="2" height="8" opacity=".38"/><rect x="149" width="2" height="8" opacity=".46"/><rect x="156" width="1" height="8" opacity=".66"/><rect x="161" width="2" height="8" opacity=".53"/><rect x="164" width="2" height="8" opacity=".56"/><rect x="168" width="3" height="8" opacity=".16"/><rect x="176" width="2" height="8" opacity=".66"/><rect x="178" width="2" height="8" opacity=".23"/><rect x="180" width="1" height="8" opacity=".21"/><rect x="181" width="1" height="8" opacity=".43"/><rect x="182" width="2" height="8" opacity=".42"/><rect x="186" width="1" height="8" opacity=".23"/><rect x="187" width="1" height="8" opacity=".60"/><rect x="196" width="1" height="8" opacity=".58"/><rect x="197" width="1" height="8" opacity=".19"/><rect x="198" width="2" height="8" opacity=".58"/><rect x="200" width="2" height="8" opacity=".24"/><rect x="207" width="2" height="8" opacity=".22"/><rect x="213" width="1" height="8" opacity=".17"/><rect x="214" width="1" height="8" opacity=".56"/><rect x="215" width="3" height="8" opacity=".37"/><rect x="219" width="2" height="8" opacity=".40"/><rect x="223" width="3" height="8" opacity=".26"/><rect x="227" width="2" height="8" opacity=".30"/><rect x="229" width="3" height="8" opacity=".17"/><rect x="234" width="2" height="8" opacity=".20"/><rect x="237" width="3" height="8" opacity=".43"/><rect x="240" width="2" height="8" opacity=".20"/><rect x="245" width="2" height="8" opacity=".19"/><rect x="247" width="2" height="8" opacity=".53"/><rect x="249" width="3" height="8" opacity=".69"/><rect x="252" width="3" height="8" opacity=".54"/><rect x="255" width="1" height="8" opacity=".33"/></g>
</pattern>
<pattern id="d21a" href="#d21" patternTransform="translate(37 0)"/>
<pattern id="d21b" href="#d21" patternTransform="translate(81 0)"/>
<pattern id="d21c" href="#d21" patternTransform="translate(119 0)"/>
<pattern id="d21d" href="#d21" patternTransform="translate(163 0)"/>
<pattern id="d21e" href="#d21" patternTransform="translate(201 0)"/>
<pattern id="d30" patternUnits="userSpaceOnUse" width="256" height="8">
<g fill="#000"><rect x="0" width="1" height="8" opacity=".92"/><rect x="1" width="2" height="8" opacity=".75"/><rect x="3" width="2" height="8" opacity=".84"/><rect x="6" width="2" height="8" opacity=".39"/><rect x="17" width="2" height="8" opacity=".89"/><rect x="21" width="2" height="8" opacity=".92"/><rect x="26" width="2" height="8" opacity=".66"/><rect x="33" width="2" height="8" opacity=".80"/><rect x="35" width="3" height="8" opacity=".54"/><rect x="38" width="2" height="8" opacity=".90"/><rect x="42" width="2" height="8" opacity=".76"/><rect x="49" width="2" height="8" opacity=".79"/><rect x="56" width="3" height="8" opacity=".31"/><rect x="59" width="2" height="8" opacity=".53"/><rect x="61" width="1" height="8" opacity=".70"/><rect x="67" width="1" height="8" opacity=".61"/><rect x="71" width="3" height="8" opacity=".37"/><rect x="74" width="1" height="8" opacity=".62"/><rect x="75" width="3" height="8" opacity=".52"/><rect x="80" width="2" height="8" opacity=".40"/><rect x="84" width="2" height="8" opacity=".90"/><rect x="86" width="1" height="8" opacity=".85"/><rect x="87" width="1" height="8" opacity=".42"/><rect x="90" width="2" height="8" opacity=".56"/><rect x="94" width="1" height="8" opacity=".42"/><rect x="97" width="2" height="8" opacity=".32"/><rect x="99" width="3" height="8" opacity=".31"/><rect x="105" width="1" height="8" opacity=".86"/><rect x="106" width="1" height="8" opacity=".68"/><rect x="109" width="1" height="8" opacity=".51"/><rect x="114" width="1" height="8" opacity=".95"/><rect x="115" width="2" height="8" opacity=".45"/><rect x="123" width="2" height="8" opacity=".80"/><rect x="127" width="3" height="8" opacity=".45"/><rect x="130" width="2" height="8" opacity=".69"/><rect x="135" width="3" height="8" opacity=".95"/><rect x="138" width="1" height="8" opacity=".87"/><rect x="139" width="3" height="8" opacity=".36"/><rect x="142" width="1" height="8" opacity=".30"/><rect x="145" width="3" height="8" opacity=".54"/><rect x="148" width="3" height="8" opacity=".63"/><rect x="151" width="2" height="8" opacity=".49"/><rect x="153" width="2" height="8" opacity=".87"/><rect x="167" width="2" height="8" opacity=".74"/><rect x="169" width="1" height="8" opacity=".57"/><rect x="170" width="2" height="8" opacity=".30"/><rect x="172" width="3" height="8" opacity=".65"/><rect x="175" width="2" height="8" opacity=".45"/><rect x="182" width="1" height="8" opacity=".44"/><rect x="187" width="2" height="8" opacity=".72"/><rect x="189" width="3" height="8" opacity=".83"/><rect x="192" width="2" height="8" opacity=".70"/><rect x="199" width="1" height="8" opacity=".50"/><rect x="200" width="3" height="8" opacity=".93"/><rect x="205" width="3" height="8" opacity=".84"/><rect x="208" width="2" height="8" opacity=".85"/><rect x="210" width="2" height="8" opacity=".93"/><rect x="218" width="3" height="8" opacity=".82"/><rect x="221" width="1" height="8" opacity=".84"/><rect x="222" width="2" height="8" opacity=".70"/><rect x="224" width="1" height="8" opacity=".84"/><rect x="228" width="1" height="8" opacity=".88"/><rect x="231" width="2" height="8" opacity=".35"/><rect x="235" width="1" height="8" opacity=".49"/><rect x="236" width="2" height="8" opacity=".78"/><rect x="244" width="1" height="8" opacity=".92"/><rect x="248" width="1" height="8" opacity=".65"/><rect x="253" width="1" height="8" opacity=".78"/><rect x="254" width="2" height="8" opacity=".75"/></g>
<g fill="#2000F0"><rect x="10" width="1" height="8" opacity=".27"/><rect x="14" width="1" height="8" opacity=".20"/><rect x="23" width="2" height="8" opacity=".34"/><rect x="25" width="1" height="8" opacity=".35"/><rect x="28" width="1" height="8" opacity=".50"/><rect x="29" width="1" height="8" opacity=".39"/><rect x="30" width="3" height="8" opacity=".22"/><rect x="40" width="2" height="8" opacity=".44"/><rect x="44" width="2" height="8" opacity=".53"/><rect x="51" width="3" height="8" opacity=".57"/><rect x="54" width="2" height="8" opacity=".50"/><rect x="88" width="2" height="8" opacity=".25"/><rect x="102" width="3" height="8" opacity=".30"/><rect x="113" width="1" height="8" opacity=".26"/><rect x="119" width="1" height="8" opacity=".39"/><rect x="120" width="2" height="8" opacity=".37"/><rect x="122" width="1" height="8" opacity=".45"/><rect x="125" width="2" height="8" opacity=".21"/><rect x="132" width="2" height="8" opacity=".37"/><rect x="143" width="2" height="8" opacity=".33"/><rect x="157" width="2" height="8" opacity=".45"/><rect x="165" width="2" height="8" opacity=".44"/><rect x="177" width="3" height="8" opacity=".57"/><rect x="183" width="2" height="8" opacity=".50"/><rect x="185" width="2" height="8" opacity=".56"/><rect x="194" width="1" height="8" opacity=".59"/><rect x="195" width="2" height="8" opacity=".26"/><rect x="212" width="1" height="8" opacity=".25"/><rect x="213" width="2" height="8" opacity=".47"/><rect x="225" width="3" height="8" opacity=".31"/><rect x="229" width="2" height="8" opacity=".26"/><rect x="239" width="2" height="8" opacity=".64"/><rect x="245" width="3" height="8" opacity=".48"/></g>
</pattern>
<pattern id="d30a" href="#d30" patternTransform="translate(37 0)"/>
<pattern id="d30b" href="#d30" patternTransform="translate(81 0)"/>
<pattern id="d30c" href="#d30" patternTransform="translate(119 0)"/>
<pattern id="d30d" href="#d30" patternTransform="translate(163 0)"/>
<pattern id="d30e" href="#d30" patternTransform="translate(201 0)"/>
<pattern id="d31" patternUnits="userSpaceOnUse" width="256" height="8">
<g fill="#000"><rect x="0" width="2" height="8" opacity=".36"/><rect x="6" width="2" height="8" opacity=".79"/><rect x="11" width="3" height="8" opacity=".44"/><rect x="16" width="2" height="8" opacity=".80"/><rect x="26" width="1" height="8" opacity=".53"/><rect x="30" width="2" height="8" opacity=".30"/><rect x="32" width="2" height="8" opacity=".84"/><rect x="37" width="1" height="8" opacity=".86"/><rect x="38" width="3" height="8" opacity=".60"/><rect x="44" width="2" height="8" opacity=".37"/><rect x="46" width="2" height="8" opacity=".88"/><rect x="48" width="2" height="8" opacity=".86"/><rect x="50" width="2" height="8" opacity=".36"/><rect x="61" width="1" height="8" opacity=".88"/><rect x="68" width="2" height="8" opacity=".53"/><rect x="71" width="3" height="8" opacity=".50"/><rect x="76" width="1" height="8" opacity=".67"/><rect x="77" width="1" height="8" opacity=".43"/><rect x="78" width="2" height="8" opacity=".36"/><rect x="80" width="2" height="8" opacity=".30"/><rect x="82" width="2" height="8" opacity=".46"/><rect x="84" width="3" height="8" opacity=".79"/><rect x="87" width="1" height="8" opacity=".79"/><rect x="90" width="1" height="8" opacity=".32"/><rect x="91" width="2" height="8" opacity=".91"/><rect x="93" width="2" height="8" opacity=".57"/><rect x="99" width="3" height="8" opacity=".80"/><rect x="102" width="2" height="8" opacity=".84"/><rect x="104" width="2" height="8" opacity=".33"/><rect x="113" width="1" height="8" opacity=".62"/><rect x="117" width="2" height="8" opacity=".71"/><rect x="119" width="1" height="8" opacity=".56"/><rect x="125" width="1" height="8" opacity=".35"/><rect x="132" width="1" height="8" opacity=".72"/><rect x="133" width="2" height="8" opacity=".77"/><rect x="137" width="2" height="8" opacity=".63"/><rect x="142" width="2" height="8" opacity=".58"/><rect x="144" width="1" height="8" opacity=".43"/><rect x="152" width="1" height="8" opacity=".55"/><rect x="153" width="2" height="8" opacity=".40"/><rect x="155" width="2" height="8" opacity=".40"/><rect x="159" width="1" height="8" opacity=".31"/><rect x="160" width="1" height="8" opacity=".59"/><rect x="165" width="1" height="8" opacity=".82"/><rect x="166" width="2" height="8" opacity=".77"/><rect x="169" width="2" height="8" opacity=".61"/><rect x="171" width="1" height="8" opacity=".63"/><rect x="172" width="3" height="8" opacity=".36"/><rect x="178" width="2" height="8" opacity=".68"/><rect x="185" width="2" height="8" opacity=".34"/><rect x="187" width="1" height="8" opacity=".34"/><rect x="188" width="3" height="8" opacity=".84"/><rect x="193" width="2" height="8" opacity=".48"/><rect x="195" width="2" height="8" opacity=".66"/><rect x="202" width="1" height="8" opacity=".84"/><rect x="205" width="2" height="8" opacity=".89"/><rect x="207" width="2" height="8" opacity=".94"/><rect x="210" width="2" height="8" opacity=".83"/><rect x="215" width="3" height="8" opacity=".83"/><rect x="218" width="1" height="8" opacity=".86"/><rect x="219" width="1" height="8" opacity=".75"/><rect x="220" width="1" height="8" opacity=".41"/><rect x="221" width="3" height="8" opacity=".73"/><rect x="224" width="1" height="8" opacity=".72"/><rect x="228" width="2" height="8" opacity=".58"/><rect x="232" width="3" height="8" opacity=".73"/><rect x="240" width="2" height="8" opacity=".35"/></g>
<g fill="#2000F0"><rect x="4" width="2" height="8" opacity=".36"/><rect x="14" width="2" height="8" opacity=".61"/><rect x="23" width="1" height="8" opacity=".31"/><rect x="27" width="1" height="8" opacity=".37"/><rect x="34" width="2" height="8" opacity=".45"/><rect x="52" width="3" height="8" opacity=".29"/><rect x="55" width="2" height="8" opacity=".29"/><rect x="57" width="3" height="8" opacity=".58"/><rect x="62" width="3" height="8" opacity=".44"/><rect x="66" width="2" height="8" opacity=".47"/><rect x="70" width="1" height="8" opacity=".23"/><rect x="74" width="2" height="8" opacity=".53"/><rect x="88" width="2" height="8" opacity=".55"/><rect x="106" width="1" height="8" opacity=".46"/><rect x="110" width="1" height="8" opacity=".60"/><rect x="120" width="1" height="8" opacity=".21"/><rect x="123" width="2" height="8" opacity=".35"/><rect x="141" width="1" height="8" opacity=".34"/><rect x="145" width="2" height="8" opacity=".57"/><rect x="147" width="2" height="8" opacity=".45"/><rect x="149" width="1" height="8" opacity=".49"/><rect x="175" width="1" height="8" opacity=".23"/><rect x="182" width="1" height="8" opacity=".64"/><rect x="191" width="2" height="8" opacity=".33"/><rect x="197" width="3" height="8" opacity=".24"/><rect x="200" width="2" height="8" opacity=".30"/><rect x="225" width="2" height="8" opacity=".22"/><rect x="230" width="2" height="8" opacity=".45"/><rect x="235" width="2" height="8" opacity=".28"/><rect x="245" width="3" height="8" opacity=".28"/><rect x="252" width="2" height="8" opacity=".34"/></g>
</pattern>
<pattern id="d31a" href="#d31" patternTransform="translate(37 0)"/>
<pattern id="d31b" href="#d31" patternTransform="translate(81 0)"/>
<pattern id="d31c" href="#d31" patternTransform="translate(119 0)"/>
<pattern id="d31d" href="#d31" patternTransform="translate(163 0)"/>
<pattern id="d31e" href="#d31" patternTransform="translate(201 0)"/>
<pattern id="cm0" patternUnits="userSpaceOnUse" width="256" height="8">
<g fill="#000"><rect x="1" width="2" height="8" opacity=".77"/><rect x="6" width="2" height="8" opacity=".96"/><rect x="9" width="1" height="8" opacity=".82"/><rect x="11" width="1" height="8" opacity=".87"/><rect x="15" width="1" height="8" opacity=".81"/><rect x="16" width="2" height="8" opacity=".93"/><rect x="20" width="1" height="8" opacity=".99"/><rect x="23" width="2" height="8" opacity=".93"/><rect x="25" width="2" height="8" opacity=".79"/><rect x="27" width="1" height="8" opacity=".88"/><rect x="28" width="1" height="8" opacity=".79"/><rect x="35" width="2" height="8" opacity=".78"/><rect x="37" width="1" height="8" opacity=".94"/><rect x="38" width="2" height="8" opacity=".82"/><rect x="41" width="1" height="8" opacity=".87"/><rect x="42" width="2" height="8" opacity=".78"/><rect x="44" width="2" height="8" opacity=".78"/><rect x="48" width="1" height="8" opacity=".80"/><rect x="49" width="2" height="8" opacity=".99"/><rect x="51" width="2" height="8" opacity=".95"/><rect x="55" width="1" height="8" opacity=".77"/><rect x="56" width="1" height="8" opacity=".97"/><rect x="57" width="2" height="8" opacity=".99"/><rect x="59" width="1" height="8" opacity=".78"/><rect x="63" width="1" height="8" opacity=".95"/><rect x="64" width="1" height="8" opacity=".83"/><rect x="65" width="1" height="8" opacity=".96"/><rect x="70" width="2" height="8" opacity=".91"/><rect x="72" width="1" height="8" opacity=".88"/><rect x="73" width="1" height="8" opacity=".85"/><rect x="74" width="1" height="8" opacity=".86"/><rect x="77" width="2" height="8" opacity=".94"/><rect x="79" width="1" height="8" opacity=".97"/><rect x="83" width="1" height="8" opacity=".87"/><rect x="84" width="1" height="8" opacity=".94"/><rect x="85" width="2" height="8" opacity=".83"/><rect x="88" width="2" height="8" opacity=".97"/><rect x="90" width="2" height="8" opacity=".86"/><rect x="98" width="1" height="8" opacity=".93"/><rect x="99" width="2" height="8" opacity=".95"/><rect x="110" width="1" height="8" opacity=".88"/><rect x="118" width="1" height="8" opacity=".89"/><rect x="119" width="2" height="8" opacity=".83"/><rect x="121" width="1" height="8" opacity=".98"/><rect x="126" width="1" height="8" opacity=".98"/><rect x="127" width="1" height="8" opacity=".75"/><rect x="128" width="1" height="8" opacity=".94"/><rect x="134" width="2" height="8" opacity=".95"/><rect x="140" width="1" height="8" opacity=".83"/><rect x="141" width="1" height="8" opacity=".77"/><rect x="143" width="2" height="8" opacity=".95"/><rect x="145" width="1" height="8" opacity=".77"/><rect x="147" width="1" height="8" opacity=".98"/><rect x="148" width="1" height="8" opacity=".92"/><rect x="149" width="1" height="8" opacity=".86"/><rect x="152" width="1" height="8" opacity=".81"/><rect x="154" width="2" height="8" opacity=".96"/><rect x="156" width="1" height="8" opacity=".85"/><rect x="158" width="1" height="8" opacity=".80"/><rect x="161" width="1" height="8" opacity=".98"/><rect x="162" width="1" height="8" opacity=".89"/><rect x="163" width="1" height="8" opacity=".81"/><rect x="164" width="1" height="8" opacity=".93"/><rect x="165" width="2" height="8" opacity=".86"/><rect x="167" width="1" height="8" opacity=".85"/><rect x="168" width="1" height="8" opacity=".78"/><rect x="172" width="2" height="8" opacity=".83"/><rect x="174" width="1" height="8" opacity=".97"/><rect x="175" width="2" height="8" opacity=".99"/><rect x="177" width="1" height="8" opacity=".81"/><rect x="182" width="1" height="8" opacity=".96"/><rect x="183" width="1" height="8" opacity=".76"/><rect x="187" width="1" height="8" opacity=".80"/><rect x="190" width="1" height="8" opacity=".83"/><rect x="193" width="2" height="8" opacity=".98"/><rect x="197" width="1" height="8" opacity=".83"/><rect x="201" width="1" height="8" opacity=".95"/><rect x="202" width="1" height="8" opacity=".95"/><rect x="205" width="1" height="8" opacity=".80"/><rect x="206" width="1" height="8" opacity=".98"/><rect x="207" width="2" height="8" opacity=".77"/><rect x="209" width="2" height="8" opacity=".86"/><rect x="211" width="1" height="8" opacity=".87"/><rect x="215" width="1" height="8" opacity=".80"/><rect x="220" width="1" height="8" opacity=".99"/><rect x="221" width="2" height="8" opacity=".81"/><rect x="226" width="1" height="8" opacity=".92"/><rect x="228" width="2" height="8" opacity=".87"/><rect x="235" width="1" height="8" opacity=".97"/><rect x="241" width="1" height="8" opacity=".86"/><rect x="246" width="1" height="8" opacity=".94"/><rect x="247" width="2" height="8" opacity=".92"/><rect x="255" width="1" height="8" opacity=".76"/></g>
<g fill="#9000FF"><rect x="3" width="2" height="8" opacity=".56"/><rect x="5" width="1" height="8" opacity=".38"/><rect x="18" width="2" height="8" opacity=".35"/><rect x="21" width="1" height="8" opacity=".32"/><rect x="29" width="1" height="8" opacity=".62"/><rect x="30" width="2" height="8" opacity=".63"/><rect x="33" width="2" height="8" opacity=".33"/><rect x="46" width="2" height="8" opacity=".79"/><rect x="60" width="1" height="8" opacity=".43"/><rect x="61" width="1" height="8" opacity=".53"/><rect x="62" width="1" height="8" opacity=".58"/><rect x="67" width="1" height="8" opacity=".83"/><rect x="68" width="1" height="8" opacity=".62"/><rect x="75" width="2" height="8" opacity=".36"/><rect x="80" width="2" height="8" opacity=".67"/><rect x="92" width="2" height="8" opacity=".62"/><rect x="94" width="1" height="8" opacity=".56"/><rect x="97" width="1" height="8" opacity=".82"/><rect x="103" width="1" height="8" opacity=".76"/><rect x="104" width="2" height="8" opacity=".59"/><rect x="108" width="2" height="8" opacity=".82"/><rect x="115" width="1" height="8" opacity=".74"/><rect x="122" width="2" height="8" opacity=".62"/><rect x="125" width="1" height="8" opacity=".38"/><rect x="129" width="1" height="8" opacity=".76"/><rect x="132" width="1" height="8" opacity=".52"/><rect x="136" width="2" height="8" opacity=".37"/><rect x="139" width="1" height="8" opacity=".31"/><rect x="151" width="1" height="8" opacity=".36"/><rect x="153" width="1" height="8" opacity=".73"/><rect x="157" width="1" height="8" opacity=".42"/><rect x="169" width="2" height="8" opacity=".35"/><rect x="171" width="1" height="8" opacity=".47"/><rect x="180" width="1" height="8" opacity=".74"/><rect x="184" width="1" height="8" opacity=".68"/><rect x="185" width="2" height="8" opacity=".35"/><rect x="188" width="1" height="8" opacity=".79"/><rect x="189" width="1" height="8" opacity=".50"/><rect x="191" width="1" height="8" opacity=".55"/><rect x="192" width="1" height="8" opacity=".61"/><rect x="195" width="2" height="8" opacity=".84"/><rect x="198" width="1" height="8" opacity=".32"/><rect x="199" width="1" height="8" opacity=".41"/><rect x="204" width="1" height="8" opacity=".32"/><rect x="213" width="1" height="8" opacity=".45"/><rect x="218" width="1" height="8" opacity=".66"/><rect x="223" width="1" height="8" opacity=".51"/><rect x="230" width="2" height="8" opacity=".46"/><rect x="232" width="2" height="8" opacity=".61"/><rect x="234" width="1" height="8" opacity=".75"/><rect x="238" width="1" height="8" opacity=".68"/><rect x="242" width="2" height="8" opacity=".72"/><rect x="249" width="1" height="8" opacity=".54"/><rect x="250" width="2" height="8" opacity=".77"/><rect x="252" width="1" height="8" opacity=".63"/></g>
</pattern>
<pattern id="cm0a" href="#cm0" patternTransform="translate(37 0)"/>
<pattern id="cm0b" href="#cm0" patternTransform="translate(81 0)"/>
<pattern id="cm0c" href="#cm0" patternTransform="translate(119 0)"/>
<pattern id="cm0d" href="#cm0" patternTransform="translate(163 0)"/>
<pattern id="cm0e" href="#cm0" patternTransform="translate(201 0)"/>
<pattern id="cm1" patternUnits="userSpaceOnUse" width="256" height="8">
<g fill="#000"><rect x="0" width="1" height="8" opacity=".93"/><rect x="1" width="2" height="8" opacity=".85"/><rect x="3" width="1" height="8" opacity=".94"/><rect x="5" width="1" height="8" opacity=".88"/><rect x="11" width="2" height="8" opacity=".83"/><rect x="14" width="1" height="8" opacity=".84"/><rect x="17" width="1" height="8" opacity=".88"/><rect x="18" width="1" height="8" opacity=".84"/><rect x="19" width="2" height="8" opacity=".78"/><rect x="21" width="1" height="8" opacity=".77"/><rect x="22" width="1" height="8" opacity=".84"/><rect x="25" width="2" height="8" opacity=".86"/><rect x="29" width="2" height="8" opacity=".87"/><rect x="31" width="1" height="8" opacity=".81"/><rect x="32" width="2" height="8" opacity=".98"/><rect x="34" width="1" height="8" opacity=".93"/><rect x="35" width="1" height="8" opacity=".92"/><rect x="36" width="1" height="8" opacity=".87"/><rect x="37" width="2" height="8" opacity=".92"/><rect x="39" width="1" height="8" opacity="1"/><rect x="40" width="1" height="8" opacity=".84"/><rect x="41" width="1" height="8" opacity=".78"/><rect x="43" width="2" height="8" opacity=".91"/><rect x="45" width="1" height="8" opacity=".80"/><rect x="46" width="1" height="8" opacity=".98"/><rect x="49" width="1" height="8" opacity=".87"/><rect x="50" width="1" height="8" opacity=".89"/><rect x="52" width="2" height="8" opacity=".94"/><rect x="55" width="1" height="8" opacity=".89"/><rect x="56" width="2" height="8" opacity=".92"/><rect x="58" width="1" height="8" opacity=".89"/><rect x="61" width="1" height="8" opacity=".95"/><rect x="63" width="1" height="8" opacity=".79"/><rect x="69" width="2" height="8" opacity=".93"/><rect x="71" width="2" height="8" opacity=".78"/><rect x="84" width="1" height="8" opacity=".97"/><rect x="87" width="1" height="8" opacity=".99"/><rect x="88" width="1" height="8" opacity=".92"/><rect x="91" width="1" height="8" opacity=".90"/><rect x="95" width="1" height="8" opacity=".94"/><rect x="98" width="1" height="8" opacity=".81"/><rect x="103" width="2" height="8" opacity=".75"/><rect x="105" width="1" height="8" opacity=".81"/><rect x="106" width="1" height="8" opacity=".76"/><rect x="107" width="1" height="8" opacity=".97"/><rect x="112" width="2" height="8" opacity=".89"/><rect x="114" width="2" height="8" opacity=".87"/><rect x="116" width="1" height="8" opacity=".96"/><rect x="124" width="2" height="8" opacity=".82"/><rect x="126" width="1" height="8" opacity=".94"/><rect x="127" width="2" height="8" opacity=".83"/><rect x="129" width="2" height="8" opacity=".86"/><rect x="133" width="1" height="8" opacity=".84"/><rect x="134" width="2" height="8" opacity=".75"/><rect x="136" width="2" height="8" opacity=".87"/><rect x="142" width="2" height="8" opacity=".76"/><rect x="145" width="1" height="8" opacity=".96"/><rect x="146" width="1" height="8" opacity=".78"/><rect x="148" width="1" height="8" opacity=".90"/><rect x="154" width="2" height="8" opacity=".92"/><rect x="156" width="1" height="8" opacity=".81"/><rect x="159" width="1" height="8" opacity=".80"/><rect x="160" width="1" height="8" opacity=".90"/><rect x="165" width="1" height="8" opacity=".85"/><rect x="166" width="2" height="8" opacity=".88"/><rect x="168" width="1" height="8" opacity=".83"/><rect x="169" width="1" height="8" opacity=".83"/><rect x="170" width="2" height="8" opacity="1"/><rect x="172" width="1" height="8" opacity=".90"/><rect x="173" width="1" height="8" opacity=".93"/><rect x="174" width="1" height="8" opacity=".86"/><rect x="175" width="2" height="8" opacity=".80"/><rect x="178" width="2" height="8" opacity=".85"/><rect x="180" width="1" height="8" opacity=".87"/><rect x="181" width="1" height="8" opacity=".84"/><rect x="182" width="1" height="8" opacity=".98"/><rect x="183" width="1" height="8" opacity=".98"/><rect x="189" width="1" height="8" opacity=".83"/><rect x="192" width="1" height="8" opacity=".93"/><rect x="193" width="1" height="8" opacity=".99"/><rect x="194" width="1" height="8" opacity=".96"/><rect x="195" width="2" height="8" opacity=".90"/><rect x="202" width="1" height="8" opacity=".81"/><rect x="203" width="2" height="8" opacity=".91"/><rect x="205" width="1" height="8" opacity=".87"/><rect x="208" width="1" height="8" opacity=".96"/><rect x="209" width="1" height="8" opacity=".96"/><rect x="210" width="1" height="8" opacity=".94"/><rect x="211" width="2" height="8" opacity=".78"/><rect x="216" width="1" height="8" opacity=".90"/><rect x="218" width="1" height="8" opacity=".85"/><rect x="219" width="2" height="8" opacity=".86"/><rect x="221" width="1" height="8" opacity=".79"/><rect x="231" width="1" height="8" opacity=".84"/><rect x="232" width="1" height="8" opacity=".83"/><rect x="233" width="1" height="8" opacity=".77"/><rect x="234" width="1" height="8" opacity=".82"/><rect x="240" width="1" height="8" opacity=".78"/><rect x="241" width="1" height="8" opacity=".80"/><rect x="242" width="1" height="8" opacity=".89"/><rect x="243" width="2" height="8" opacity=".84"/></g>
<g fill="#9000FF"><rect x="6" width="1" height="8" opacity=".55"/><rect x="8" width="2" height="8" opacity=".61"/><rect x="10" width="1" height="8" opacity=".83"/><rect x="42" width="1" height="8" opacity=".79"/><rect x="51" width="1" height="8" opacity=".55"/><rect x="65" width="2" height="8" opacity=".40"/><rect x="80" width="1" height="8" opacity=".45"/><rect x="85" width="2" height="8" opacity=".45"/><rect x="94" width="1" height="8" opacity=".57"/><rect x="97" width="1" height="8" opacity=".81"/><rect x="100" width="1" height="8" opacity=".79"/><rect x="101" width="2" height="8" opacity=".40"/><rect x="118" width="1" height="8" opacity=".54"/><rect x="119" width="1" height="8" opacity=".71"/><rect x="120" width="2" height="8" opacity=".82"/><rect x="122" width="2" height="8" opacity=".81"/><rect x="131" width="2" height="8" opacity=".58"/><rect x="138" width="1" height="8" opacity=".50"/><rect x="139" width="1" height="8" opacity=".38"/><rect x="149" width="2" height="8" opacity=".55"/><rect x="152" width="1" height="8" opacity=".34"/><rect x="153" width="1" height="8" opacity=".56"/><rect x="157" width="2" height="8" opacity=".37"/><rect x="161" width="1" height="8" opacity=".58"/><rect x="184" width="1" height="8" opacity=".51"/><rect x="188" width="1" height="8" opacity=".63"/><rect x="198" width="1" height="8" opacity=".68"/><rect x="199" width="1" height="8" opacity=".79"/><rect x="200" width="2" height="8" opacity=".61"/><rect x="214" width="2" height="8" opacity=".67"/><rect x="224" width="2" height="8" opacity=".40"/><rect x="226" width="1" height="8" opacity=".32"/><rect x="227" width="1" height="8" opacity=".56"/><rect x="237" width="2" height="8" opacity=".74"/><rect x="239" width="1" height="8" opacity=".60"/><rect x="245" width="1" height="8" opacity=".63"/><rect x="248" width="2" height="8" opacity=".65"/><rect x="250" width="1" height="8" opacity=".64"/><rect x="253" width="1" height="8" opacity=".36"/></g>
</pattern>
<pattern id="cm1a" href="#cm1" patternTransform="translate(37 0)"/>
<pattern id="cm1b" href="#cm1" patternTransform="translate(81 0)"/>
<pattern id="cm1c" href="#cm1" patternTransform="translate(119 0)"/>
<pattern id="cm1d" href="#cm1" patternTransform="translate(163 0)"/>
<pattern id="cm1e" href="#cm1" patternTransform="translate(201 0)"/>
<pattern id="bz0" patternUnits="userSpaceOnUse" width="256" height="8">
<g fill="#FFB050"><rect x="2" width="2" height="8" opacity=".24"/><rect x="6" width="2" height="8" opacity=".40"/><rect x="10" width="1" height="8" opacity=".30"/><rect x="13" width="1" height="8" opacity=".41"/><rect x="44" width="1" height="8" opacity=".46"/><rect x="57" width="1" height="8" opacity=".46"/><rect x="74" width="2" height="8" opacity=".50"/><rect x="88" width="2" height="8" opacity=".38"/><rect x="107" width="2" height="8" opacity=".42"/><rect x="120" width="2" height="8" opacity=".39"/><rect x="137" width="2" height="8" opacity=".42"/><rect x="143" width="3" height="8" opacity=".27"/><rect x="161" width="1" height="8" opacity=".21"/><rect x="198" width="2" height="8" opacity=".32"/><rect x="200" width="2" height="8" opacity=".26"/><rect x="212" width="2" height="8" opacity=".22"/><rect x="222" width="1" height="8" opacity=".29"/><rect x="227" width="1" height="8" opacity=".44"/><rect x="242" width="2" height="8" opacity=".24"/><rect x="246" width="2" height="8" opacity=".23"/></g>
<g fill="#5000E0"><rect x="11" width="2" height="8" opacity=".34"/><rect x="20" width="2" height="8" opacity=".60"/><rect x="24" width="3" height="8" opacity=".63"/><rect x="27" width="1" height="8" opacity=".62"/><rect x="30" width="2" height="8" opacity=".61"/><rect x="32" width="2" height="8" opacity=".61"/><rect x="40" width="3" height="8" opacity=".31"/><rect x="43" width="1" height="8" opacity=".31"/><rect x="45" width="1" height="8" opacity=".44"/><rect x="65" width="3" height="8" opacity=".60"/><rect x="73" width="1" height="8" opacity=".42"/><rect x="81" width="2" height="8" opacity=".49"/><rect x="83" width="3" height="8" opacity=".61"/><rect x="92" width="3" height="8" opacity=".39"/><rect x="95" width="2" height="8" opacity=".36"/><rect x="101" width="1" height="8" opacity=".30"/><rect x="103" width="2" height="8" opacity=".44"/><rect x="129" width="1" height="8" opacity=".53"/><rect x="130" width="2" height="8" opacity=".20"/><rect x="139" width="2" height="8" opacity=".56"/><rect x="146" width="2" height="8" opacity=".37"/><rect x="150" width="2" height="8" opacity=".21"/><rect x="152" width="2" height="8" opacity=".45"/><rect x="154" width="2" height="8" opacity=".45"/><rect x="159" width="2" height="8" opacity=".57"/><rect x="162" width="2" height="8" opacity=".37"/><rect x="164" width="2" height="8" opacity=".45"/><rect x="169" width="2" height="8" opacity=".51"/><rect x="171" width="2" height="8" opacity=".63"/><rect x="193" width="1" height="8" opacity=".64"/><rect x="196" width="2" height="8" opacity=".56"/><rect x="202" width="3" height="8" opacity=".52"/><rect x="205" width="1" height="8" opacity=".40"/><rect x="208" width="3" height="8" opacity=".20"/><rect x="214" width="2" height="8" opacity=".46"/><rect x="216" width="2" height="8" opacity=".23"/><rect x="218" width="3" height="8" opacity=".30"/><rect x="234" width="2" height="8" opacity=".54"/><rect x="239" width="1" height="8" opacity=".50"/><rect x="250" width="2" height="8" opacity=".37"/><rect x="254" width="2" height="8" opacity=".40"/></g>
</pattern>
<pattern id="bz0a" href="#bz0" patternTransform="translate(37 0)"/>
<pattern id="bz0b" href="#bz0" patternTransform="translate(81 0)"/>
<pattern id="bz0c" href="#bz0" patternTransform="translate(119 0)"/>
<pattern id="bz0d" href="#bz0" patternTransform="translate(163 0)"/>
<pattern id="bz0e" href="#bz0" patternTransform="translate(201 0)"/>
<pattern id="bz1" patternUnits="userSpaceOnUse" width="256" height="8">
<g fill="#5000E0"><rect x="7" width="1" height="8" opacity=".36"/><rect x="8" width="2" height="8" opacity=".34"/><rect x="10" width="2" height="8" opacity=".41"/><rect x="15" width="2" height="8" opacity=".22"/><rect x="17" width="2" height="8" opacity=".64"/><rect x="19" width="3" height="8" opacity=".54"/><rect x="31" width="2" height="8" opacity=".50"/><rect x="34" width="1" height="8" opacity=".63"/><rect x="44" width="2" height="8" opacity=".22"/><rect x="62" width="1" height="8" opacity=".38"/><rect x="70" width="2" height="8" opacity=".64"/><rect x="81" width="1" height="8" opacity=".30"/><rect x="86" width="2" height="8" opacity=".34"/><rect x="104" width="2" height="8" opacity=".22"/><rect x="111" width="2" height="8" opacity=".36"/><rect x="122" width="2" height="8" opacity=".30"/><rect x="134" width="1" height="8" opacity=".65"/><rect x="144" width="3" height="8" opacity=".35"/><rect x="147" width="2" height="8" opacity=".35"/><rect x="149" width="1" height="8" opacity=".58"/><rect x="153" width="3" height="8" opacity=".30"/><rect x="164" width="1" height="8" opacity=".28"/><rect x="172" width="3" height="8" opacity=".58"/><rect x="175" width="2" height="8" opacity=".55"/><rect x="178" width="1" height="8" opacity=".59"/><rect x="179" width="2" height="8" opacity=".29"/><rect x="188" width="2" height="8" opacity=".26"/><rect x="190" width="2" height="8" opacity=".50"/><rect x="197" width="1" height="8" opacity=".28"/><rect x="198" width="2" height="8" opacity=".36"/><rect x="204" width="2" height="8" opacity=".50"/><rect x="230" width="1" height="8" opacity=".46"/><rect x="255" width="1" height="8" opacity=".42"/></g>
<g fill="#FFB050"><rect x="24" width="1" height="8" opacity=".39"/><rect x="49" width="2" height="8" opacity=".28"/><rect x="53" width="2" height="8" opacity=".30"/><rect x="82" width="1" height="8" opacity=".30"/><rect x="83" width="1" height="8" opacity=".40"/><rect x="95" width="1" height="8" opacity=".45"/><rect x="96" width="3" height="8" opacity=".27"/><rect x="99" width="2" height="8" opacity=".23"/><rect x="101" width="1" height="8" opacity=".24"/><rect x="130" width="2" height="8" opacity=".20"/><rect x="141" width="2" height="8" opacity=".26"/><rect x="186" width="2" height="8" opacity=".23"/><rect x="214" width="2" height="8" opacity=".42"/></g>
</pattern>
<pattern id="bz1a" href="#bz1" patternTransform="translate(37 0)"/>
<pattern id="bz1b" href="#bz1" patternTransform="translate(81 0)"/>
<pattern id="bz1c" href="#bz1" patternTransform="translate(119 0)"/>
<pattern id="bz1d" href="#bz1" patternTransform="translate(163 0)"/>
<pattern id="bz1e" href="#bz1" patternTransform="translate(201 0)"/>
<pattern id="by0" patternUnits="userSpaceOnUse" width="256" height="8">
<g fill="#FFD400"><rect x="1" width="2" height="8" opacity=".14"/><rect x="3" width="2" height="8" opacity=".15"/><rect x="5" width="2" height="8" opacity=".21"/><rect x="24" width="2" height="8" opacity=".20"/><rect x="27" width="2" height="8" opacity=".21"/><rect x="29" width="2" height="8" opacity=".18"/><rect x="33" width="2" height="8" opacity=".09"/><rect x="49" width="2" height="8" opacity=".27"/><rect x="54" width="2" height="8" opacity=".20"/><rect x="76" width="2" height="8" opacity=".25"/><rect x="90" width="2" height="8" opacity=".07"/><rect x="108" width="2" height="8" opacity=".10"/><rect x="111" width="2" height="8" opacity=".20"/><rect x="120" width="2" height="8" opacity=".14"/><rect x="125" width="1" height="8" opacity=".16"/><rect x="139" width="1" height="8" opacity=".11"/><rect x="156" width="2" height="8" opacity=".18"/><rect x="160" width="2" height="8" opacity=".13"/><rect x="173" width="1" height="8" opacity=".09"/><rect x="198" width="2" height="8" opacity=".13"/><rect x="202" width="2" height="8" opacity=".28"/><rect x="221" width="2" height="8" opacity=".22"/><rect x="227" width="2" height="8" opacity=".15"/><rect x="233" width="2" height="8" opacity=".11"/><rect x="243" width="2" height="8" opacity=".24"/><rect x="245" width="2" height="8" opacity=".19"/><rect x="249" width="2" height="8" opacity=".17"/></g>
<g fill="#FFF"><rect x="8" width="2" height="8" opacity=".59"/><rect x="14" width="1" height="8" opacity=".70"/><rect x="15" width="2" height="8" opacity=".32"/><rect x="22" width="2" height="8" opacity=".14"/><rect x="31" width="2" height="8" opacity=".66"/><rect x="42" width="1" height="8" opacity=".61"/><rect x="43" width="2" height="8" opacity=".65"/><rect x="45" width="2" height="8" opacity=".21"/><rect x="47" width="2" height="8" opacity=".62"/><rect x="51" width="2" height="8" opacity=".28"/><rect x="53" width="1" height="8" opacity=".28"/><rect x="57" width="1" height="8" opacity=".50"/><rect x="60" width="2" height="8" opacity=".13"/><rect x="64" width="2" height="8" opacity=".62"/><rect x="67" width="2" height="8" opacity=".35"/><rect x="69" width="2" height="8" opacity=".59"/><rect x="71" width="1" height="8" opacity=".42"/><rect x="74" width="2" height="8" opacity=".31"/><rect x="78" width="2" height="8" opacity=".69"/><rect x="80" width="2" height="8" opacity=".49"/><rect x="82" width="1" height="8" opacity=".17"/><rect x="83" width="2" height="8" opacity=".65"/><rect x="85" width="2" height="8" opacity=".31"/><rect x="88" width="2" height="8" opacity=".54"/><rect x="95" width="1" height="8" opacity=".18"/><rect x="96" width="1" height="8" opacity=".48"/><rect x="98" width="2" height="8" opacity=".60"/><rect x="104" width="1" height="8" opacity=".54"/><rect x="110" width="1" height="8" opacity=".32"/><rect x="113" width="1" height="8" opacity=".24"/><rect x="116" width="1" height="8" opacity=".25"/><rect x="117" width="1" height="8" opacity=".18"/><rect x="123" width="2" height="8" opacity=".39"/><rect x="128" width="2" height="8" opacity=".47"/><rect x="134" width="2" height="8" opacity=".48"/><rect x="138" width="1" height="8" opacity=".27"/><rect x="140" width="2" height="8" opacity=".32"/><rect x="144" width="2" height="8" opacity=".16"/><rect x="146" width="1" height="8" opacity=".65"/><rect x="147" width="2" height="8" opacity=".38"/><rect x="149" width="2" height="8" opacity=".34"/><rect x="152" width="1" height="8" opacity=".43"/><rect x="153" width="1" height="8" opacity=".51"/><rect x="158" width="2" height="8" opacity=".15"/><rect x="162" width="2" height="8" opacity=".13"/><rect x="164" width="2" height="8" opacity=".27"/><rect x="166" width="2" height="8" opacity=".14"/><rect x="170" width="1" height="8" opacity=".39"/><rect x="172" width="1" height="8" opacity=".53"/><rect x="174" width="1" height="8" opacity=".70"/><rect x="175" width="2" height="8" opacity=".21"/><rect x="177" width="2" height="8" opacity=".16"/><rect x="182" width="2" height="8" opacity=".32"/><rect x="189" width="1" height="8" opacity=".64"/><rect x="206" width="2" height="8" opacity=".30"/><rect x="215" width="2" height="8" opacity=".18"/><rect x="219" width="2" height="8" opacity=".54"/><rect x="223" width="2" height="8" opacity=".40"/><rect x="225" width="2" height="8" opacity=".19"/><rect x="230" width="2" height="8" opacity=".72"/><rect x="239" width="2" height="8" opacity=".61"/><rect x="241" width="2" height="8" opacity=".37"/><rect x="247" width="2" height="8" opacity=".33"/><rect x="253" width="1" height="8" opacity=".68"/><rect x="254" width="2" height="8" opacity=".43"/></g>
</pattern>
<pattern id="by0a" href="#by0" patternTransform="translate(37 0)"/>
<pattern id="by0b" href="#by0" patternTransform="translate(81 0)"/>
<pattern id="by0c" href="#by0" patternTransform="translate(119 0)"/>
<pattern id="by0d" href="#by0" patternTransform="translate(163 0)"/>
<pattern id="by0e" href="#by0" patternTransform="translate(201 0)"/>
<pattern id="by1" patternUnits="userSpaceOnUse" width="256" height="8">
<g fill="#FFF"><rect x="0" width="1" height="8" opacity=".29"/><rect x="5" width="2" height="8" opacity=".69"/><rect x="11" width="2" height="8" opacity=".59"/><rect x="16" width="1" height="8" opacity=".50"/><rect x="17" width="1" height="8" opacity=".43"/><rect x="18" width="2" height="8" opacity=".64"/><rect x="28" width="1" height="8" opacity=".64"/><rect x="29" width="2" height="8" opacity=".72"/><rect x="31" width="1" height="8" opacity=".40"/><rect x="43" width="2" height="8" opacity=".42"/><rect x="52" width="2" height="8" opacity=".40"/><rect x="54" width="2" height="8" opacity=".60"/><rect x="56" width="2" height="8" opacity=".43"/><rect x="60" width="2" height="8" opacity=".33"/><rect x="64" width="2" height="8" opacity=".68"/><rect x="66" width="2" height="8" opacity=".44"/><rect x="68" width="1" height="8" opacity=".52"/><rect x="71" width="2" height="8" opacity=".39"/><rect x="77" width="2" height="8" opacity=".23"/><rect x="81" width="2" height="8" opacity=".63"/><rect x="85" width="2" height="8" opacity=".53"/><rect x="87" width="2" height="8" opacity=".16"/><rect x="97" width="2" height="8" opacity=".72"/><rect x="99" width="2" height="8" opacity=".64"/><rect x="106" width="2" height="8" opacity=".20"/><rect x="112" width="2" height="8" opacity=".47"/><rect x="114" width="2" height="8" opacity=".19"/><rect x="120" width="2" height="8" opacity=".16"/><rect x="124" width="1" height="8" opacity=".68"/><rect x="129" width="2" height="8" opacity=".20"/><rect x="132" width="2" height="8" opacity=".43"/><rect x="140" width="2" height="8" opacity=".68"/><rect x="145" width="1" height="8" opacity=".63"/><rect x="154" width="1" height="8" opacity=".69"/><rect x="155" width="1" height="8" opacity=".36"/><rect x="157" width="2" height="8" opacity=".54"/><rect x="166" width="2" height="8" opacity=".66"/><rect x="177" width="2" height="8" opacity=".13"/><rect x="181" width="2" height="8" opacity=".65"/><rect x="183" width="2" height="8" opacity=".34"/><rect x="189" width="2" height="8" opacity=".55"/><rect x="199" width="2" height="8" opacity=".49"/><rect x="221" width="1" height="8" opacity=".21"/><rect x="225" width="2" height="8" opacity=".30"/><rect x="229" width="1" height="8" opacity=".43"/><rect x="231" width="2" height="8" opacity=".57"/><rect x="237" width="2" height="8" opacity=".37"/><rect x="242" width="2" height="8" opacity=".60"/><rect x="246" width="2" height="8" opacity=".62"/><rect x="248" width="2" height="8" opacity=".56"/><rect x="253" width="2" height="8" opacity=".14"/><rect x="255" width="1" height="8" opacity=".57"/></g>
<g fill="#FFD400"><rect x="2" width="2" height="8" opacity=".12"/><rect x="7" width="2" height="8" opacity=".16"/><rect x="9" width="2" height="8" opacity=".27"/><rect x="13" width="1" height="8" opacity=".10"/><rect x="14" width="2" height="8" opacity=".30"/><rect x="24" width="2" height="8" opacity=".26"/><rect x="32" width="1" height="8" opacity=".09"/><rect x="33" width="2" height="8" opacity=".07"/><rect x="37" width="2" height="8" opacity=".25"/><rect x="45" width="2" height="8" opacity=".06"/><rect x="75" width="2" height="8" opacity=".12"/><rect x="89" width="2" height="8" opacity=".20"/><rect x="93" width="2" height="8" opacity=".28"/><rect x="96" width="1" height="8" opacity=".07"/><rect x="116" width="2" height="8" opacity=".27"/><rect x="122" width="2" height="8" opacity=".13"/><rect x="125" width="2" height="8" opacity=".18"/><rect x="138" width="1" height="8" opacity=".18"/><rect x="139" width="1" height="8" opacity=".23"/><rect x="144" width="1" height="8" opacity=".10"/><rect x="146" width="1" height="8" opacity=".26"/><rect x="150" width="2" height="8" opacity=".05"/><rect x="159" width="2" height="8" opacity=".17"/><rect x="162" width="2" height="8" opacity=".06"/><rect x="169" width="2" height="8" opacity=".05"/><rect x="187" width="1" height="8" opacity=".29"/><rect x="188" width="1" height="8" opacity=".17"/><rect x="193" width="1" height="8" opacity=".14"/><rect x="195" width="2" height="8" opacity=".17"/><rect x="197" width="2" height="8" opacity=".26"/><rect x="201" width="2" height="8" opacity=".13"/><rect x="203" width="2" height="8" opacity=".15"/><rect x="222" width="1" height="8" opacity=".06"/><rect x="227" width="2" height="8" opacity=".26"/><rect x="235" width="2" height="8" opacity=".07"/><rect x="244" width="2" height="8" opacity=".18"/></g>
</pattern>
<pattern id="by1a" href="#by1" patternTransform="translate(37 0)"/>
<pattern id="by1b" href="#by1" patternTransform="translate(81 0)"/>
<pattern id="by1c" href="#by1" patternTransform="translate(119 0)"/>
<pattern id="by1d" href="#by1" patternTransform="translate(163 0)"/>
<pattern id="by1e" href="#by1" patternTransform="translate(201 0)"/>
<pattern id="bY0" patternUnits="userSpaceOnUse" width="256" height="8">
<g fill="#FFE400"><rect x="1" width="2" height="8" opacity=".12"/><rect x="33" width="2" height="8" opacity=".25"/><rect x="42" width="2" height="8" opacity=".29"/><rect x="51" width="2" height="8" opacity=".28"/><rect x="76" width="2" height="8" opacity=".12"/><rect x="78" width="2" height="8" opacity=".31"/><rect x="80" width="1" height="8" opacity=".25"/><rect x="85" width="2" height="8" opacity=".21"/><rect x="113" width="2" height="8" opacity=".29"/><rect x="120" width="2" height="8" opacity=".35"/><rect x="125" width="1" height="8" opacity=".19"/><rect x="129" width="2" height="8" opacity=".13"/><rect x="131" width="2" height="8" opacity=".17"/><rect x="169" width="2" height="8" opacity=".34"/><rect x="179" width="2" height="8" opacity=".23"/><rect x="193" width="2" height="8" opacity=".15"/><rect x="210" width="2" height="8" opacity=".19"/><rect x="223" width="1" height="8" opacity=".11"/><rect x="244" width="1" height="8" opacity=".34"/><rect x="247" width="1" height="8" opacity=".30"/><rect x="253" width="2" height="8" opacity=".27"/></g>
<g fill="#FFFF70"><rect x="3" width="2" height="8" opacity=".28"/><rect x="6" width="1" height="8" opacity=".47"/><rect x="9" width="2" height="8" opacity=".23"/><rect x="15" width="2" height="8" opacity=".25"/><rect x="17" width="2" height="8" opacity=".44"/><rect x="25" width="2" height="8" opacity=".22"/><rect x="27" width="1" height="8" opacity=".43"/><rect x="30" width="2" height="8" opacity=".31"/><rect x="37" width="2" height="8" opacity=".46"/><rect x="49" width="2" height="8" opacity=".43"/><rect x="56" width="2" height="8" opacity=".42"/><rect x="89" width="1" height="8" opacity=".39"/><rect x="90" width="2" height="8" opacity=".43"/><rect x="102" width="2" height="8" opacity=".45"/><rect x="106" width="2" height="8" opacity=".47"/><rect x="108" width="1" height="8" opacity=".12"/><rect x="124" width="1" height="8" opacity=".50"/><rect x="128" width="1" height="8" opacity=".45"/><rect x="143" width="2" height="8" opacity=".50"/><rect x="151" width="2" height="8" opacity=".14"/><rect x="156" width="2" height="8" opacity=".26"/><rect x="158" width="2" height="8" opacity=".48"/><rect x="160" width="2" height="8" opacity=".42"/><rect x="173" width="2" height="8" opacity=".45"/><rect x="185" width="2" height="8" opacity=".30"/><rect x="191" width="2" height="8" opacity=".20"/><rect x="201" width="2" height="8" opacity=".35"/><rect x="214" width="2" height="8" opacity=".25"/><rect x="216" width="1" height="8" opacity=".23"/><rect x="219" width="2" height="8" opacity=".36"/><rect x="221" width="2" height="8" opacity=".23"/><rect x="230" width="2" height="8" opacity=".45"/><rect x="233" width="1" height="8" opacity=".45"/><rect x="239" width="2" height="8" opacity=".20"/><rect x="242" width="1" height="8" opacity=".44"/><rect x="252" width="1" height="8" opacity=".39"/><rect x="255" width="1" height="8" opacity=".39"/></g>
</pattern>
<pattern id="bY0a" href="#bY0" patternTransform="translate(37 0)"/>
<pattern id="bY0b" href="#bY0" patternTransform="translate(81 0)"/>
<pattern id="bY0c" href="#bY0" patternTransform="translate(119 0)"/>
<pattern id="bY0d" href="#bY0" patternTransform="translate(163 0)"/>
<pattern id="bY0e" href="#bY0" patternTransform="translate(201 0)"/>
<pattern id="bY1" patternUnits="userSpaceOnUse" width="256" height="8">
<g fill="#FFFF70"><rect x="1" width="2" height="8" opacity=".32"/><rect x="3" width="1" height="8" opacity=".12"/><rect x="6" width="1" height="8" opacity=".42"/><rect x="17" width="2" height="8" opacity=".42"/><rect x="19" width="1" height="8" opacity=".22"/><rect x="22" width="2" height="8" opacity=".31"/><rect x="41" width="2" height="8" opacity=".14"/><rect x="56" width="2" height="8" opacity=".45"/><rect x="64" width="1" height="8" opacity=".12"/><rect x="65" width="1" height="8" opacity=".42"/><rect x="72" width="2" height="8" opacity=".33"/><rect x="77" width="1" height="8" opacity=".32"/><rect x="79" width="1" height="8" opacity=".31"/><rect x="84" width="2" height="8" opacity=".26"/><rect x="86" width="2" height="8" opacity=".14"/><rect x="91" width="2" height="8" opacity=".19"/><rect x="98" width="1" height="8" opacity=".24"/><rect x="102" width="1" height="8" opacity=".41"/><rect x="105" width="2" height="8" opacity=".10"/><rect x="109" width="2" height="8" opacity=".33"/><rect x="117" width="2" height="8" opacity=".21"/><rect x="126" width="2" height="8" opacity=".44"/><rect x="138" width="2" height="8" opacity=".42"/><rect x="147" width="1" height="8" opacity=".47"/><rect x="152" width="2" height="8" opacity=".19"/><rect x="162" width="2" height="8" opacity=".45"/><rect x="171" width="2" height="8" opacity=".35"/><rect x="175" width="1" height="8" opacity=".40"/><rect x="187" width="1" height="8" opacity=".33"/><rect x="191" width="2" height="8" opacity=".15"/><rect x="195" width="2" height="8" opacity=".15"/><rect x="197" width="2" height="8" opacity=".16"/><rect x="199" width="2" height="8" opacity=".20"/><rect x="207" width="1" height="8" opacity=".29"/><rect x="218" width="2" height="8" opacity=".47"/><rect x="223" width="2" height="8" opacity=".13"/><rect x="227" width="1" height="8" opacity=".14"/><rect x="236" width="2" height="8" opacity=".17"/><rect x="253" width="2" height="8" opacity=".40"/></g>
<g fill="#FFE400"><rect x="47" width="1" height="8" opacity=".11"/><rect x="50" width="1" height="8" opacity=".28"/><rect x="82" width="2" height="8" opacity=".21"/><rect x="90" width="1" height="8" opacity=".28"/><rect x="95" width="2" height="8" opacity=".28"/><rect x="111" width="2" height="8" opacity=".30"/><rect x="121" width="2" height="8" opacity=".32"/><rect x="130" width="2" height="8" opacity=".28"/><rect x="134" width="2" height="8" opacity=".23"/><rect x="140" width="2" height="8" opacity=".29"/><rect x="150" width="2" height="8" opacity=".31"/><rect x="158" width="2" height="8" opacity=".27"/><rect x="170" width="1" height="8" opacity=".31"/><rect x="178" width="1" height="8" opacity=".17"/><rect x="183" width="2" height="8" opacity=".33"/><rect x="186" width="1" height="8" opacity=".31"/><rect x="193" width="2" height="8" opacity=".31"/><rect x="201" width="2" height="8" opacity=".22"/><rect x="210" width="2" height="8" opacity=".31"/><rect x="216" width="2" height="8" opacity=".17"/><rect x="228" width="2" height="8" opacity=".32"/><rect x="230" width="2" height="8" opacity=".28"/><rect x="232" width="2" height="8" opacity=".29"/><rect x="234" width="2" height="8" opacity=".28"/><rect x="247" width="2" height="8" opacity=".17"/><rect x="255" width="1" height="8" opacity=".31"/></g>
</pattern>
<pattern id="bY1a" href="#bY1" patternTransform="translate(37 0)"/>
<pattern id="bY1b" href="#bY1" patternTransform="translate(81 0)"/>
<pattern id="bY1c" href="#bY1" patternTransform="translate(119 0)"/>
<pattern id="bY1d" href="#bY1" patternTransform="translate(163 0)"/>
<pattern id="bY1e" href="#bY1" patternTransform="translate(201 0)"/>
<pattern id="bg0" patternUnits="userSpaceOnUse" width="256" height="8">
<g fill="#FFF830"><rect x="0" width="1" height="8" opacity=".34"/><rect x="5" width="2" height="8" opacity=".11"/><rect x="12" width="2" height="8" opacity=".31"/><rect x="14" width="2" height="8" opacity=".20"/><rect x="16" width="2" height="8" opacity=".16"/><rect x="29" width="2" height="8" opacity=".34"/><rect x="36" width="1" height="8" opacity=".15"/><rect x="41" width="2" height="8" opacity=".22"/><rect x="54" width="1" height="8" opacity=".26"/><rect x="58" width="2" height="8" opacity=".22"/><rect x="62" width="1" height="8" opacity=".20"/><rect x="66" width="2" height="8" opacity=".16"/><rect x="71" width="1" height="8" opacity=".18"/><rect x="72" width="2" height="8" opacity=".16"/><rect x="86" width="2" height="8" opacity=".28"/><rect x="99" width="2" height="8" opacity=".12"/><rect x="107" width="2" height="8" opacity=".19"/><rect x="126" width="2" height="8" opacity=".27"/><rect x="153" width="2" height="8" opacity=".11"/><rect x="161" width="1" height="8" opacity=".10"/><rect x="173" width="1" height="8" opacity=".12"/><rect x="189" width="2" height="8" opacity=".24"/><rect x="197" width="2" height="8" opacity=".25"/><rect x="200" width="2" height="8" opacity=".34"/><rect x="211" width="2" height="8" opacity=".11"/><rect x="219" width="2" height="8" opacity=".21"/><rect x="227" width="1" height="8" opacity=".14"/><rect x="228" width="1" height="8" opacity=".20"/><rect x="246" width="2" height="8" opacity=".24"/><rect x="248" width="2" height="8" opacity=".22"/><rect x="250" width="2" height="8" opacity=".26"/></g>
<g fill="#FFB030"><rect x="1" width="2" height="8" opacity=".20"/><rect x="7" width="1" height="8" opacity=".20"/><rect x="8" width="2" height="8" opacity=".26"/><rect x="18" width="1" height="8" opacity=".24"/><rect x="20" width="2" height="8" opacity=".24"/><rect x="22" width="2" height="8" opacity=".23"/><rect x="24" width="1" height="8" opacity=".20"/><rect x="25" width="2" height="8" opacity=".25"/><rect x="27" width="2" height="8" opacity=".22"/><rect x="34" width="2" height="8" opacity=".21"/><rect x="37" width="2" height="8" opacity=".10"/><rect x="49" width="1" height="8" opacity=".24"/><rect x="55" width="1" height="8" opacity=".12"/><rect x="63" width="2" height="8" opacity=".10"/><rect x="65" width="1" height="8" opacity=".29"/><rect x="68" width="2" height="8" opacity=".26"/><rect x="76" width="1" height="8" opacity=".22"/><rect x="77" width="2" height="8" opacity=".11"/><rect x="88" width="2" height="8" opacity=".14"/><rect x="91" width="2" height="8" opacity=".15"/><rect x="93" width="2" height="8" opacity=".13"/><rect x="97" width="2" height="8" opacity=".24"/><rect x="101" width="2" height="8" opacity=".26"/><rect x="109" width="2" height="8" opacity=".08"/><rect x="111" width="1" height="8" opacity=".29"/><rect x="114" width="2" height="8" opacity=".10"/><rect x="120" width="2" height="8" opacity=".21"/><rect x="122" width="2" height="8" opacity=".25"/><rect x="128" width="1" height="8" opacity=".16"/><rect x="139" width="2" height="8" opacity=".11"/><rect x="145" width="2" height="8" opacity=".16"/><rect x="155" width="2" height="8" opacity=".23"/><rect x="162" width="1" height="8" opacity=".22"/><rect x="163" width="2" height="8" opacity=".17"/><rect x="167" width="2" height="8" opacity=".17"/><rect x="171" width="2" height="8" opacity=".27"/><rect x="199" width="1" height="8" opacity=".21"/><rect x="202" width="2" height="8" opacity=".13"/><rect x="207" width="2" height="8" opacity=".21"/><rect x="209" width="2" height="8" opacity=".13"/><rect x="213" width="1" height="8" opacity=".15"/><rect x="214" width="2" height="8" opacity=".09"/><rect x="239" width="2" height="8" opacity=".18"/><rect x="243" width="1" height="8" opacity=".25"/><rect x="252" width="2" height="8" opacity=".20"/></g>
</pattern>
<pattern id="bg0a" href="#bg0" patternTransform="translate(37 0)"/>
<pattern id="bg0b" href="#bg0" patternTransform="translate(81 0)"/>
<pattern id="bg0c" href="#bg0" patternTransform="translate(119 0)"/>
<pattern id="bg0d" href="#bg0" patternTransform="translate(163 0)"/>
<pattern id="bg0e" href="#bg0" patternTransform="translate(201 0)"/>
<pattern id="bg1" patternUnits="userSpaceOnUse" width="256" height="8">
<g fill="#FFB030"><rect x="0" width="2" height="8" opacity=".18"/><rect x="8" width="2" height="8" opacity=".21"/><rect x="16" width="2" height="8" opacity=".14"/><rect x="19" width="2" height="8" opacity=".16"/><rect x="25" width="2" height="8" opacity=".30"/><rect x="29" width="1" height="8" opacity=".26"/><rect x="31" width="2" height="8" opacity=".09"/><rect x="42" width="2" height="8" opacity=".18"/><rect x="45" width="2" height="8" opacity=".26"/><rect x="62" width="2" height="8" opacity=".14"/><rect x="65" width="2" height="8" opacity=".16"/><rect x="69" width="2" height="8" opacity=".24"/><rect x="84" width="2" height="8" opacity=".11"/><rect x="95" width="1" height="8" opacity=".16"/><rect x="110" width="1" height="8" opacity=".27"/><rect x="111" width="1" height="8" opacity=".29"/><rect x="112" width="2" height="8" opacity=".21"/><rect x="118" width="2" height="8" opacity=".29"/><rect x="125" width="2" height="8" opacity=".26"/><rect x="127" width="1" height="8" opacity=".20"/><rect x="128" width="1" height="8" opacity=".25"/><rect x="133" width="2" height="8" opacity=".26"/><rect x="137" width="1" height="8" opacity=".17"/><rect x="138" width="2" height="8" opacity=".12"/><rect x="142" width="2" height="8" opacity=".15"/><rect x="164" width="2" height="8" opacity=".09"/><rect x="179" width="2" height="8" opacity=".20"/><rect x="183" width="2" height="8" opacity=".15"/><rect x="191" width="1" height="8" opacity=".21"/><rect x="192" width="1" height="8" opacity=".26"/><rect x="194" width="2" height="8" opacity=".25"/><rect x="196" width="2" height="8" opacity=".11"/><rect x="212" width="2" height="8" opacity=".11"/><rect x="216" width="2" height="8" opacity=".26"/><rect x="218" width="1" height="8" opacity=".29"/><rect x="219" width="2" height="8" opacity=".16"/><rect x="222" width="2" height="8" opacity=".19"/><rect x="225" width="2" height="8" opacity=".30"/><rect x="236" width="2" height="8" opacity=".24"/><rect x="248" width="2" height="8" opacity=".12"/></g>
<g fill="#FFF830"><rect x="4" width="2" height="8" opacity=".20"/><rect x="22" width="1" height="8" opacity=".12"/><rect x="27" width="2" height="8" opacity=".32"/><rect x="33" width="1" height="8" opacity=".15"/><rect x="34" width="2" height="8" opacity=".13"/><rect x="37" width="1" height="8" opacity=".33"/><rect x="38" width="2" height="8" opacity=".11"/><rect x="47" width="1" height="8" opacity=".20"/><rect x="50" width="2" height="8" opacity=".23"/><rect x="54" width="1" height="8" opacity=".31"/><rect x="60" width="2" height="8" opacity=".22"/><rect x="64" width="1" height="8" opacity=".23"/><rect x="71" width="2" height="8" opacity=".34"/><rect x="77" width="2" height="8" opacity=".30"/><rect x="79" width="1" height="8" opacity=".31"/><rect x="80" width="2" height="8" opacity=".18"/><rect x="93" width="2" height="8" opacity=".24"/><rect x="98" width="2" height="8" opacity=".33"/><rect x="102" width="2" height="8" opacity=".34"/><rect x="108" width="2" height="8" opacity=".34"/><rect x="124" width="1" height="8" opacity=".34"/><rect x="130" width="2" height="8" opacity=".29"/><rect x="132" width="1" height="8" opacity=".33"/><rect x="144" width="1" height="8" opacity=".33"/><rect x="145" width="1" height="8" opacity=".23"/><rect x="146" width="2" height="8" opacity=".26"/><rect x="171" width="2" height="8" opacity=".18"/><rect x="176" width="2" height="8" opacity=".32"/><rect x="181" width="2" height="8" opacity=".18"/><rect x="189" width="2" height="8" opacity=".19"/><rect x="200" width="1" height="8" opacity=".27"/><rect x="206" width="2" height="8" opacity=".18"/><rect x="210" width="2" height="8" opacity=".15"/><rect x="214" width="2" height="8" opacity=".10"/><rect x="227" width="2" height="8" opacity=".18"/><rect x="229" width="2" height="8" opacity=".32"/><rect x="241" width="2" height="8" opacity=".12"/><rect x="243" width="1" height="8" opacity=".10"/><rect x="244" width="2" height="8" opacity=".35"/><rect x="246" width="2" height="8" opacity=".17"/><rect x="250" width="2" height="8" opacity=".19"/></g>
</pattern>
<pattern id="bg1a" href="#bg1" patternTransform="translate(37 0)"/>
<pattern id="bg1b" href="#bg1" patternTransform="translate(81 0)"/>
<pattern id="bg1c" href="#bg1" patternTransform="translate(119 0)"/>
<pattern id="bg1d" href="#bg1" patternTransform="translate(163 0)"/>
<pattern id="bg1e" href="#bg1" patternTransform="translate(201 0)"/>
<pattern id="bo0" patternUnits="userSpaceOnUse" width="256" height="8">
<g fill="#FFE040"><rect x="0" width="2" height="8" opacity=".16"/><rect x="2" width="1" height="8" opacity=".17"/><rect x="4" width="2" height="8" opacity=".28"/><rect x="11" width="2" height="8" opacity=".27"/><rect x="23" width="2" height="8" opacity=".14"/><rect x="29" width="2" height="8" opacity=".24"/><rect x="33" width="2" height="8" opacity=".17"/><rect x="38" width="2" height="8" opacity=".27"/><rect x="40" width="2" height="8" opacity=".28"/><rect x="46" width="1" height="8" opacity=".17"/><rect x="47" width="2" height="8" opacity=".08"/><rect x="51" width="2" height="8" opacity=".21"/><rect x="58" width="2" height="8" opacity=".14"/><rect x="62" width="1" height="8" opacity=".22"/><rect x="63" width="1" height="8" opacity=".23"/><rect x="64" width="2" height="8" opacity=".20"/><rect x="84" width="2" height="8" opacity=".22"/><rect x="95" width="2" height="8" opacity=".28"/><rect x="103" width="2" height="8" opacity=".23"/><rect x="108" width="2" height="8" opacity=".28"/><rect x="117" width="2" height="8" opacity=".15"/><rect x="121" width="2" height="8" opacity=".24"/><rect x="127" width="2" height="8" opacity=".10"/><rect x="133" width="1" height="8" opacity=".17"/><rect x="134" width="2" height="8" opacity=".19"/><rect x="138" width="2" height="8" opacity=".21"/><rect x="147" width="2" height="8" opacity=".10"/><rect x="151" width="2" height="8" opacity=".10"/><rect x="157" width="2" height="8" opacity=".25"/><rect x="159" width="2" height="8" opacity=".18"/><rect x="163" width="1" height="8" opacity=".09"/><rect x="164" width="1" height="8" opacity=".14"/><rect x="169" width="2" height="8" opacity=".09"/><rect x="172" width="2" height="8" opacity=".25"/><rect x="180" width="2" height="8" opacity=".29"/><rect x="182" width="2" height="8" opacity=".17"/><rect x="205" width="2" height="8" opacity=".26"/><rect x="209" width="2" height="8" opacity=".18"/><rect x="212" width="2" height="8" opacity=".16"/><rect x="218" width="2" height="8" opacity=".15"/><rect x="224" width="1" height="8" opacity=".11"/><rect x="242" width="2" height="8" opacity=".24"/><rect x="244" width="2" height="8" opacity=".20"/><rect x="246" width="1" height="8" opacity=".13"/></g>
<g fill="#FF5890"><rect x="3" width="1" height="8" opacity=".09"/><rect x="7" width="2" height="8" opacity=".16"/><rect x="13" width="2" height="8" opacity=".11"/><rect x="17" width="2" height="8" opacity=".17"/><rect x="19" width="2" height="8" opacity=".13"/><rect x="21" width="2" height="8" opacity=".07"/><rect x="27" width="2" height="8" opacity=".07"/><rect x="31" width="2" height="8" opacity=".20"/><rect x="37" width="1" height="8" opacity=".15"/><rect x="44" width="2" height="8" opacity=".13"/><rect x="53" width="2" height="8" opacity=".07"/><rect x="57" width="1" height="8" opacity=".07"/><rect x="68" width="2" height="8" opacity=".12"/><rect x="70" width="2" height="8" opacity=".13"/><rect x="72" width="2" height="8" opacity=".18"/><rect x="74" width="2" height="8" opacity=".13"/><rect x="76" width="2" height="8" opacity=".09"/><rect x="78" width="2" height="8" opacity=".15"/><rect x="86" width="1" height="8" opacity=".18"/><rect x="87" width="2" height="8" opacity=".14"/><rect x="90" width="1" height="8" opacity=".21"/><rect x="99" width="2" height="8" opacity=".08"/><rect x="101" width="2" height="8" opacity=".10"/><rect x="105" width="2" height="8" opacity=".08"/><rect x="107" width="1" height="8" opacity=".14"/><rect x="110" width="1" height="8" opacity=".18"/><rect x="111" width="2" height="8" opacity=".14"/><rect x="119" width="1" height="8" opacity=".10"/><rect x="129" width="1" height="8" opacity=".14"/><rect x="136" width="2" height="8" opacity=".06"/><rect x="142" width="1" height="8" opacity=".07"/><rect x="149" width="2" height="8" opacity=".21"/><rect x="155" width="2" height="8" opacity=".20"/><rect x="171" width="1" height="8" opacity=".21"/><rect x="176" width="2" height="8" opacity=".16"/><rect x="178" width="2" height="8" opacity=".12"/><rect x="184" width="2" height="8" opacity=".21"/><rect x="186" width="2" height="8" opacity=".22"/><rect x="192" width="2" height="8" opacity=".17"/><rect x="196" width="2" height="8" opacity=".10"/><rect x="198" width="2" height="8" opacity=".12"/><rect x="207" width="2" height="8" opacity=".18"/><rect x="211" width="1" height="8" opacity=".15"/><rect x="220" width="2" height="8" opacity=".06"/><rect x="222" width="2" height="8" opacity=".14"/><rect x="226" width="2" height="8" opacity=".21"/><rect x="228" width="2" height="8" opacity=".11"/><rect x="230" width="2" height="8" opacity=".09"/><rect x="237" width="2" height="8" opacity=".21"/><rect x="247" width="2" height="8" opacity=".19"/><rect x="251" width="2" height="8" opacity=".09"/><rect x="253" width="2" height="8" opacity=".18"/></g>
</pattern>
<pattern id="bo0a" href="#bo0" patternTransform="translate(37 0)"/>
<pattern id="bo0b" href="#bo0" patternTransform="translate(81 0)"/>
<pattern id="bo0c" href="#bo0" patternTransform="translate(119 0)"/>
<pattern id="bo0d" href="#bo0" patternTransform="translate(163 0)"/>
<pattern id="bo0e" href="#bo0" patternTransform="translate(201 0)"/>
<pattern id="bo1" patternUnits="userSpaceOnUse" width="256" height="8">
<g fill="#FFE040"><rect x="0" width="2" height="8" opacity=".21"/><rect x="2" width="2" height="8" opacity=".23"/><rect x="4" width="2" height="8" opacity=".20"/><rect x="8" width="2" height="8" opacity=".24"/><rect x="10" width="2" height="8" opacity=".27"/><rect x="20" width="2" height="8" opacity=".23"/><rect x="26" width="2" height="8" opacity=".19"/><rect x="28" width="2" height="8" opacity=".10"/><rect x="34" width="2" height="8" opacity=".26"/><rect x="38" width="2" height="8" opacity=".13"/><rect x="42" width="2" height="8" opacity=".09"/><rect x="46" width="2" height="8" opacity=".26"/><rect x="50" width="1" height="8" opacity=".11"/><rect x="55" width="2" height="8" opacity=".25"/><rect x="64" width="1" height="8" opacity=".24"/><rect x="67" width="1" height="8" opacity=".22"/><rect x="68" width="2" height="8" opacity=".28"/><rect x="74" width="2" height="8" opacity=".19"/><rect x="76" width="1" height="8" opacity=".14"/><rect x="77" width="2" height="8" opacity=".25"/><rect x="84" width="2" height="8" opacity=".13"/><rect x="100" width="2" height="8" opacity=".27"/><rect x="106" width="2" height="8" opacity=".28"/><rect x="124" width="2" height="8" opacity=".11"/><rect x="134" width="2" height="8" opacity=".23"/><rect x="136" width="2" height="8" opacity=".28"/><rect x="146" width="1" height="8" opacity=".15"/><rect x="152" width="2" height="8" opacity=".28"/><rect x="159" width="1" height="8" opacity=".25"/><rect x="168" width="2" height="8" opacity=".27"/><rect x="170" width="2" height="8" opacity=".27"/><rect x="176" width="1" height="8" opacity=".29"/><rect x="181" width="2" height="8" opacity=".10"/><rect x="183" width="2" height="8" opacity=".23"/><rect x="189" width="1" height="8" opacity=".17"/><rect x="192" width="2" height="8" opacity=".26"/><rect x="200" width="1" height="8" opacity=".13"/><rect x="223" width="2" height="8" opacity=".09"/><rect x="229" width="2" height="8" opacity=".19"/><rect x="231" width="2" height="8" opacity=".23"/><rect x="233" width="2" height="8" opacity=".14"/><rect x="236" width="1" height="8" opacity=".19"/><rect x="244" width="2" height="8" opacity=".17"/><rect x="248" width="2" height="8" opacity=".14"/><rect x="250" width="2" height="8" opacity=".17"/></g>
<g fill="#FF5890"><rect x="14" width="2" height="8" opacity=".21"/><rect x="16" width="2" height="8" opacity=".15"/><rect x="18" width="2" height="8" opacity=".08"/><rect x="30" width="2" height="8" opacity=".11"/><rect x="32" width="2" height="8" opacity=".15"/><rect x="44" width="2" height="8" opacity=".08"/><rect x="51" width="2" height="8" opacity=".15"/><rect x="60" width="2" height="8" opacity=".10"/><rect x="65" width="2" height="8" opacity=".13"/><rect x="79" width="2" height="8" opacity=".08"/><rect x="92" width="1" height="8" opacity=".16"/><rect x="94" width="2" height="8" opacity=".08"/><rect x="104" width="2" height="8" opacity=".09"/><rect x="110" width="2" height="8" opacity=".06"/><rect x="116" width="2" height="8" opacity=".13"/><rect x="120" width="2" height="8" opacity=".08"/><rect x="130" width="2" height="8" opacity=".12"/><rect x="138" width="2" height="8" opacity=".06"/><rect x="142" width="1" height="8" opacity=".08"/><rect x="150" width="2" height="8" opacity=".07"/><rect x="157" width="2" height="8" opacity=".21"/><rect x="166" width="2" height="8" opacity=".10"/><rect x="172" width="1" height="8" opacity=".11"/><rect x="173" width="1" height="8" opacity=".16"/><rect x="177" width="2" height="8" opacity=".17"/><rect x="185" width="2" height="8" opacity=".09"/><rect x="187" width="2" height="8" opacity=".19"/><rect x="190" width="2" height="8" opacity=".16"/><rect x="196" width="2" height="8" opacity=".15"/><rect x="205" width="2" height="8" opacity=".22"/><rect x="210" width="2" height="8" opacity=".16"/><rect x="214" width="2" height="8" opacity=".16"/><rect x="218" width="2" height="8" opacity=".17"/><rect x="220" width="2" height="8" opacity=".14"/><rect x="222" width="1" height="8" opacity=".09"/><rect x="227" width="2" height="8" opacity=".15"/><rect x="235" width="1" height="8" opacity=".07"/><rect x="246" width="2" height="8" opacity=".17"/><rect x="252" width="2" height="8" opacity=".17"/></g>
</pattern>
<pattern id="bo1a" href="#bo1" patternTransform="translate(37 0)"/>
<pattern id="bo1b" href="#bo1" patternTransform="translate(81 0)"/>
<pattern id="bo1c" href="#bo1" patternTransform="translate(119 0)"/>
<pattern id="bo1d" href="#bo1" patternTransform="translate(163 0)"/>
<pattern id="bo1e" href="#bo1" patternTransform="translate(201 0)"/>
<pattern id="bp0" patternUnits="userSpaceOnUse" width="256" height="8">
<g fill="#FFA070"><rect x="2" width="2" height="8" opacity=".06"/><rect x="8" width="1" height="8" opacity=".13"/><rect x="13" width="1" height="8" opacity=".06"/><rect x="31" width="2" height="8" opacity=".08"/><rect x="37" width="1" height="8" opacity=".15"/><rect x="38" width="2" height="8" opacity=".07"/><rect x="40" width="1" height="8" opacity=".21"/><rect x="45" width="2" height="8" opacity=".18"/><rect x="52" width="2" height="8" opacity=".07"/><rect x="56" width="2" height="8" opacity=".11"/><rect x="60" width="2" height="8" opacity=".24"/><rect x="62" width="2" height="8" opacity=".07"/><rect x="64" width="1" height="8" opacity=".10"/><rect x="67" width="2" height="8" opacity=".22"/><rect x="69" width="2" height="8" opacity=".19"/><rect x="71" width="2" height="8" opacity=".08"/><rect x="82" width="2" height="8" opacity=".11"/><rect x="86" width="2" height="8" opacity=".21"/><rect x="88" width="1" height="8" opacity=".23"/><rect x="93" width="2" height="8" opacity=".13"/><rect x="97" width="2" height="8" opacity=".11"/><rect x="100" width="2" height="8" opacity=".22"/><rect x="106" width="2" height="8" opacity=".10"/><rect x="108" width="2" height="8" opacity=".07"/><rect x="118" width="1" height="8" opacity=".21"/><rect x="125" width="2" height="8" opacity=".20"/><rect x="134" width="2" height="8" opacity=".20"/><rect x="147" width="1" height="8" opacity=".20"/><rect x="153" width="2" height="8" opacity=".22"/><rect x="167" width="2" height="8" opacity=".18"/><rect x="169" width="2" height="8" opacity=".14"/><rect x="177" width="2" height="8" opacity=".09"/><rect x="179" width="2" height="8" opacity=".16"/><rect x="181" width="2" height="8" opacity=".16"/><rect x="183" width="2" height="8" opacity=".08"/><rect x="187" width="2" height="8" opacity=".18"/><rect x="197" width="2" height="8" opacity=".15"/><rect x="203" width="2" height="8" opacity=".20"/><rect x="207" width="2" height="8" opacity=".21"/><rect x="209" width="1" height="8" opacity=".17"/><rect x="210" width="2" height="8" opacity=".16"/><rect x="218" width="1" height="8" opacity=".19"/><rect x="221" width="1" height="8" opacity=".12"/><rect x="224" width="2" height="8" opacity=".08"/><rect x="236" width="1" height="8" opacity=".18"/><rect x="243" width="2" height="8" opacity=".15"/><rect x="249" width="2" height="8" opacity=".17"/><rect x="251" width="2" height="8" opacity=".12"/><rect x="253" width="2" height="8" opacity=".12"/></g>
<g fill="#D838D8"><rect x="9" width="2" height="8" opacity=".09"/><rect x="16" width="2" height="8" opacity=".15"/><rect x="18" width="2" height="8" opacity=".27"/><rect x="20" width="1" height="8" opacity=".21"/><rect x="25" width="2" height="8" opacity=".21"/><rect x="27" width="2" height="8" opacity=".14"/><rect x="33" width="2" height="8" opacity=".10"/><rect x="47" width="2" height="8" opacity=".15"/><rect x="51" width="1" height="8" opacity=".26"/><rect x="76" width="2" height="8" opacity=".15"/><rect x="80" width="2" height="8" opacity=".18"/><rect x="84" width="2" height="8" opacity=".27"/><rect x="89" width="2" height="8" opacity=".23"/><rect x="91" width="2" height="8" opacity=".18"/><rect x="105" width="1" height="8" opacity=".16"/><rect x="112" width="2" height="8" opacity=".11"/><rect x="121" width="2" height="8" opacity=".16"/><rect x="132" width="2" height="8" opacity=".28"/><rect x="137" width="2" height="8" opacity=".22"/><rect x="141" width="2" height="8" opacity=".14"/><rect x="144" width="2" height="8" opacity=".16"/><rect x="146" width="1" height="8" opacity=".27"/><rect x="148" width="2" height="8" opacity=".13"/><rect x="150" width="2" height="8" opacity=".26"/><rect x="152" width="1" height="8" opacity=".21"/><rect x="161" width="2" height="8" opacity=".16"/><rect x="163" width="2" height="8" opacity=".17"/><rect x="185" width="2" height="8" opacity=".20"/><rect x="189" width="2" height="8" opacity=".16"/><rect x="191" width="2" height="8" opacity=".19"/><rect x="195" width="2" height="8" opacity=".17"/><rect x="199" width="2" height="8" opacity=".10"/><rect x="201" width="2" height="8" opacity=".20"/><rect x="205" width="2" height="8" opacity=".17"/><rect x="216" width="2" height="8" opacity=".15"/><rect x="219" width="2" height="8" opacity=".14"/><rect x="222" width="2" height="8" opacity=".27"/><rect x="226" width="1" height="8" opacity=".14"/><rect x="227" width="2" height="8" opacity=".15"/><rect x="229" width="2" height="8" opacity=".14"/><rect x="234" width="2" height="8" opacity=".25"/><rect x="237" width="2" height="8" opacity=".27"/><rect x="240" width="2" height="8" opacity=".26"/><rect x="255" width="1" height="8" opacity=".21"/></g>
</pattern>
<pattern id="bp0a" href="#bp0" patternTransform="translate(37 0)"/>
<pattern id="bp0b" href="#bp0" patternTransform="translate(81 0)"/>
<pattern id="bp0c" href="#bp0" patternTransform="translate(119 0)"/>
<pattern id="bp0d" href="#bp0" patternTransform="translate(163 0)"/>
<pattern id="bp0e" href="#bp0" patternTransform="translate(201 0)"/>
<pattern id="bp1" patternUnits="userSpaceOnUse" width="256" height="8">
<g fill="#FFA070"><rect x="3" width="2" height="8" opacity=".07"/><rect x="5" width="2" height="8" opacity=".09"/><rect x="7" width="2" height="8" opacity=".11"/><rect x="19" width="2" height="8" opacity=".24"/><rect x="34" width="1" height="8" opacity=".10"/><rect x="37" width="1" height="8" opacity=".24"/><rect x="45" width="2" height="8" opacity=".10"/><rect x="47" width="1" height="8" opacity=".08"/><rect x="48" width="1" height="8" opacity=".09"/><rect x="53" width="1" height="8" opacity=".17"/><rect x="67" width="1" height="8" opacity=".09"/><rect x="68" width="2" height="8" opacity=".09"/><rect x="70" width="2" height="8" opacity=".21"/><rect x="72" width="2" height="8" opacity=".19"/><rect x="74" width="2" height="8" opacity=".14"/><rect x="76" width="2" height="8" opacity=".09"/><rect x="80" width="2" height="8" opacity=".11"/><rect x="82" width="2" height="8" opacity=".20"/><rect x="84" width="1" height="8" opacity=".07"/><rect x="92" width="1" height="8" opacity=".25"/><rect x="95" width="2" height="8" opacity=".16"/><rect x="99" width="2" height="8" opacity=".15"/><rect x="108" width="2" height="8" opacity=".22"/><rect x="119" width="2" height="8" opacity=".22"/><rect x="126" width="2" height="8" opacity=".16"/><rect x="130" width="2" height="8" opacity=".09"/><rect x="133" width="2" height="8" opacity=".08"/><rect x="135" width="2" height="8" opacity=".19"/><rect x="137" width="2" height="8" opacity=".07"/><rect x="140" width="1" height="8" opacity=".19"/><rect x="143" width="2" height="8" opacity=".07"/><rect x="153" width="2" height="8" opacity=".19"/><rect x="168" width="1" height="8" opacity=".06"/><rect x="169" width="2" height="8" opacity=".24"/><rect x="173" width="2" height="8" opacity=".10"/><rect x="181" width="2" height="8" opacity=".10"/><rect x="194" width="2" height="8" opacity=".20"/><rect x="198" width="2" height="8" opacity=".13"/><rect x="200" width="2" height="8" opacity=".19"/><rect x="209" width="2" height="8" opacity=".12"/><rect x="217" width="2" height="8" opacity=".17"/><rect x="219" width="2" height="8" opacity=".14"/><rect x="232" width="2" height="8" opacity=".23"/><rect x="235" width="2" height="8" opacity=".11"/><rect x="240" width="2" height="8" opacity=".11"/><rect x="246" width="2" height="8" opacity=".22"/><rect x="248" width="2" height="8" opacity=".10"/></g>
<g fill="#D838D8"><rect x="13" width="2" height="8" opacity=".20"/><rect x="17" width="2" height="8" opacity=".13"/><rect x="23" width="1" height="8" opacity=".19"/><rect x="24" width="2" height="8" opacity=".26"/><rect x="28" width="1" height="8" opacity=".16"/><rect x="29" width="2" height="8" opacity=".13"/><rect x="31" width="1" height="8" opacity=".14"/><rect x="38" width="2" height="8" opacity=".24"/><rect x="63" width="2" height="8" opacity=".13"/><rect x="78" width="2" height="8" opacity=".13"/><rect x="85" width="2" height="8" opacity=".20"/><rect x="89" width="2" height="8" opacity=".26"/><rect x="97" width="2" height="8" opacity=".26"/><rect x="101" width="1" height="8" opacity=".17"/><rect x="104" width="2" height="8" opacity=".08"/><rect x="106" width="2" height="8" opacity=".16"/><rect x="117" width="2" height="8" opacity=".17"/><rect x="121" width="2" height="8" opacity=".18"/><rect x="123" width="2" height="8" opacity=".18"/><rect x="125" width="1" height="8" opacity=".20"/><rect x="128" width="2" height="8" opacity=".11"/><rect x="132" width="1" height="8" opacity=".16"/><rect x="141" width="2" height="8" opacity=".23"/><rect x="145" width="2" height="8" opacity=".20"/><rect x="158" width="1" height="8" opacity=".18"/><rect x="175" width="2" height="8" opacity=".17"/><rect x="177" width="1" height="8" opacity=".12"/><rect x="178" width="2" height="8" opacity=".16"/><rect x="180" width="1" height="8" opacity=".10"/><rect x="183" width="2" height="8" opacity=".25"/><rect x="187" width="2" height="8" opacity=".18"/><rect x="196" width="2" height="8" opacity=".20"/><rect x="213" width="2" height="8" opacity=".16"/><rect x="225" width="2" height="8" opacity=".23"/><rect x="231" width="1" height="8" opacity=".17"/><rect x="234" width="1" height="8" opacity=".09"/><rect x="250" width="1" height="8" opacity=".14"/><rect x="252" width="2" height="8" opacity=".09"/></g>
</pattern>
<pattern id="bp1a" href="#bp1" patternTransform="translate(37 0)"/>
<pattern id="bp1b" href="#bp1" patternTransform="translate(81 0)"/>
<pattern id="bp1c" href="#bp1" patternTransform="translate(119 0)"/>
<pattern id="bp1d" href="#bp1" patternTransform="translate(163 0)"/>
<pattern id="bp1e" href="#bp1" patternTransform="translate(201 0)"/>
<pattern id="bv0" patternUnits="userSpaceOnUse" width="256" height="8">
<g fill="#2000C0"><rect x="0" width="2" height="8" opacity=".24"/><rect x="2" width="1" height="8" opacity=".24"/><rect x="5" width="1" height="8" opacity=".09"/><rect x="6" width="2" height="8" opacity=".09"/><rect x="8" width="1" height="8" opacity=".22"/><rect x="9" width="2" height="8" opacity=".25"/><rect x="11" width="2" height="8" opacity=".12"/><rect x="17" width="2" height="8" opacity=".19"/><rect x="26" width="1" height="8" opacity=".15"/><rect x="30" width="2" height="8" opacity=".14"/><rect x="32" width="1" height="8" opacity=".18"/><rect x="35" width="1" height="8" opacity=".07"/><rect x="49" width="2" height="8" opacity=".17"/><rect x="55" width="2" height="8" opacity=".21"/><rect x="57" width="1" height="8" opacity=".06"/><rect x="66" width="1" height="8" opacity=".17"/><rect x="67" width="2" height="8" opacity=".15"/><rect x="69" width="2" height="8" opacity=".07"/><rect x="71" width="2" height="8" opacity=".25"/><rect x="73" width="2" height="8" opacity=".11"/><rect x="89" width="2" height="8" opacity=".23"/><rect x="98" width="2" height="8" opacity=".17"/><rect x="102" width="2" height="8" opacity=".24"/><rect x="107" width="2" height="8" opacity=".05"/><rect x="113" width="1" height="8" opacity=".08"/><rect x="116" width="1" height="8" opacity=".10"/><rect x="121" width="2" height="8" opacity=".20"/><rect x="125" width="2" height="8" opacity=".16"/><rect x="139" width="1" height="8" opacity=".23"/><rect x="144" width="1" height="8" opacity=".10"/><rect x="145" width="2" height="8" opacity=".20"/><rect x="149" width="2" height="8" opacity=".18"/><rect x="162" width="2" height="8" opacity=".10"/><rect x="192" width="2" height="8" opacity=".08"/><rect x="203" width="1" height="8" opacity=".21"/><rect x="204" width="2" height="8" opacity=".13"/><rect x="208" width="2" height="8" opacity=".23"/><rect x="210" width="2" height="8" opacity=".09"/><rect x="216" width="2" height="8" opacity=".13"/><rect x="220" width="2" height="8" opacity=".13"/><rect x="224" width="2" height="8" opacity=".18"/><rect x="234" width="2" height="8" opacity=".15"/><rect x="240" width="1" height="8" opacity=".12"/><rect x="241" width="2" height="8" opacity=".09"/><rect x="245" width="2" height="8" opacity=".10"/><rect x="247" width="2" height="8" opacity=".21"/><rect x="249" width="2" height="8" opacity=".07"/><rect x="253" width="2" height="8" opacity=".06"/><rect x="255" width="1" height="8" opacity=".16"/></g>
<g fill="#E048D8"><rect x="3" width="2" height="8" opacity=".38"/><rect x="13" width="2" height="8" opacity=".36"/><rect x="40" width="2" height="8" opacity=".27"/><rect x="51" width="2" height="8" opacity=".18"/><rect x="58" width="2" height="8" opacity=".20"/><rect x="60" width="2" height="8" opacity=".19"/><rect x="62" width="2" height="8" opacity=".38"/><rect x="75" width="2" height="8" opacity=".24"/><rect x="77" width="2" height="8" opacity=".19"/><rect x="81" width="2" height="8" opacity=".22"/><rect x="85" width="2" height="8" opacity=".32"/><rect x="91" width="2" height="8" opacity=".14"/><rect x="93" width="1" height="8" opacity=".22"/><rect x="96" width="2" height="8" opacity=".19"/><rect x="111" width="2" height="8" opacity=".14"/><rect x="117" width="1" height="8" opacity=".13"/><rect x="119" width="2" height="8" opacity=".12"/><rect x="131" width="2" height="8" opacity=".15"/><rect x="140" width="2" height="8" opacity=".15"/><rect x="142" width="2" height="8" opacity=".10"/><rect x="147" width="2" height="8" opacity=".34"/><rect x="158" width="1" height="8" opacity=".18"/><rect x="161" width="1" height="8" opacity=".22"/><rect x="164" width="2" height="8" opacity=".22"/><rect x="169" width="2" height="8" opacity=".12"/><rect x="175" width="2" height="8" opacity=".11"/><rect x="180" width="2" height="8" opacity=".23"/><rect x="182" width="2" height="8" opacity=".14"/><rect x="187" width="1" height="8" opacity=".32"/><rect x="190" width="2" height="8" opacity=".12"/><rect x="195" width="1" height="8" opacity=".10"/><rect x="218" width="2" height="8" opacity=".14"/><rect x="222" width="2" height="8" opacity=".19"/><rect x="226" width="1" height="8" opacity=".16"/><rect x="231" width="1" height="8" opacity=".15"/><rect x="232" width="2" height="8" opacity=".21"/><rect x="238" width="2" height="8" opacity=".16"/><rect x="243" width="2" height="8" opacity=".34"/></g>
</pattern>
<pattern id="bv0a" href="#bv0" patternTransform="translate(37 0)"/>
<pattern id="bv0b" href="#bv0" patternTransform="translate(81 0)"/>
<pattern id="bv0c" href="#bv0" patternTransform="translate(119 0)"/>
<pattern id="bv0d" href="#bv0" patternTransform="translate(163 0)"/>
<pattern id="bv0e" href="#bv0" patternTransform="translate(201 0)"/>
<pattern id="bv1" patternUnits="userSpaceOnUse" width="256" height="8">
<g fill="#2000C0"><rect x="4" width="2" height="8" opacity=".09"/><rect x="6" width="2" height="8" opacity=".20"/><rect x="36" width="1" height="8" opacity=".20"/><rect x="39" width="2" height="8" opacity=".13"/><rect x="45" width="2" height="8" opacity=".21"/><rect x="54" width="2" height="8" opacity=".09"/><rect x="69" width="2" height="8" opacity=".18"/><rect x="71" width="2" height="8" opacity=".06"/><rect x="73" width="1" height="8" opacity=".13"/><rect x="80" width="2" height="8" opacity=".07"/><rect x="87" width="2" height="8" opacity=".23"/><rect x="90" width="2" height="8" opacity=".22"/><rect x="98" width="2" height="8" opacity=".22"/><rect x="103" width="2" height="8" opacity=".21"/><rect x="107" width="2" height="8" opacity=".07"/><rect x="112" width="2" height="8" opacity=".14"/><rect x="136" width="2" height="8" opacity=".08"/><rect x="140" width="2" height="8" opacity=".15"/><rect x="144" width="2" height="8" opacity=".10"/><rect x="148" width="2" height="8" opacity=".10"/><rect x="152" width="2" height="8" opacity=".10"/><rect x="173" width="1" height="8" opacity=".08"/><rect x="176" width="1" height="8" opacity=".11"/><rect x="181" width="2" height="8" opacity=".10"/><rect x="183" width="1" height="8" opacity=".15"/><rect x="199" width="1" height="8" opacity=".06"/><rect x="202" width="2" height="8" opacity=".14"/><rect x="210" width="2" height="8" opacity=".14"/><rect x="238" width="1" height="8" opacity=".08"/><rect x="243" width="2" height="8" opacity=".09"/><rect x="245" width="2" height="8" opacity=".12"/><rect x="249" width="2" height="8" opacity=".12"/><rect x="251" width="2" height="8" opacity=".06"/></g>
<g fill="#E048D8"><rect x="24" width="2" height="8" opacity=".29"/><rect x="26" width="2" height="8" opacity=".25"/><rect x="32" width="2" height="8" opacity=".21"/><rect x="43" width="2" height="8" opacity=".35"/><rect x="47" width="2" height="8" opacity=".26"/><rect x="49" width="2" height="8" opacity=".38"/><rect x="67" width="2" height="8" opacity=".18"/><rect x="74" width="2" height="8" opacity=".29"/><rect x="82" width="1" height="8" opacity=".16"/><rect x="83" width="2" height="8" opacity=".19"/><rect x="89" width="1" height="8" opacity=".31"/><rect x="96" width="2" height="8" opacity=".11"/><rect x="105" width="1" height="8" opacity=".17"/><rect x="106" width="1" height="8" opacity=".37"/><rect x="111" width="1" height="8" opacity=".27"/><rect x="114" width="2" height="8" opacity=".15"/><rect x="116" width="2" height="8" opacity=".34"/><rect x="118" width="1" height="8" opacity=".35"/><rect x="119" width="2" height="8" opacity=".15"/><rect x="121" width="2" height="8" opacity=".36"/><rect x="128" width="1" height="8" opacity=".16"/><rect x="131" width="2" height="8" opacity=".13"/><rect x="133" width="2" height="8" opacity=".10"/><rect x="138" width="2" height="8" opacity=".16"/><rect x="142" width="2" height="8" opacity=".13"/><rect x="146" width="2" height="8" opacity=".28"/><rect x="156" width="1" height="8" opacity=".22"/><rect x="159" width="2" height="8" opacity=".15"/><rect x="161" width="2" height="8" opacity=".22"/><rect x="165" width="2" height="8" opacity=".23"/><rect x="169" width="2" height="8" opacity=".26"/><rect x="195" width="2" height="8" opacity=".25"/><rect x="200" width="2" height="8" opacity=".27"/><rect x="208" width="2" height="8" opacity=".31"/><rect x="213" width="2" height="8" opacity=".26"/><rect x="221" width="2" height="8" opacity=".29"/><rect x="227" width="2" height="8" opacity=".27"/><rect x="231" width="1" height="8" opacity=".20"/><rect x="233" width="1" height="8" opacity=".14"/><rect x="239" width="2" height="8" opacity=".13"/><rect x="241" width="2" height="8" opacity=".21"/><rect x="247" width="2" height="8" opacity=".21"/></g>
</pattern>
<pattern id="bv1a" href="#bv1" patternTransform="translate(37 0)"/>
<pattern id="bv1b" href="#bv1" patternTransform="translate(81 0)"/>
<pattern id="bv1c" href="#bv1" patternTransform="translate(119 0)"/>
<pattern id="bv1d" href="#bv1" patternTransform="translate(163 0)"/>
<pattern id="bv1e" href="#bv1" patternTransform="translate(201 0)"/>
<pattern id="bb0" patternUnits="userSpaceOnUse" width="256" height="8">
<g fill="#8000FF"><rect x="0" width="1" height="8" opacity=".15"/><rect x="5" width="2" height="8" opacity=".31"/><rect x="13" width="2" height="8" opacity=".12"/><rect x="17" width="2" height="8" opacity=".17"/><rect x="19" width="2" height="8" opacity=".20"/><rect x="25" width="2" height="8" opacity=".10"/><rect x="27" width="1" height="8" opacity=".15"/><rect x="32" width="2" height="8" opacity=".33"/><rect x="36" width="2" height="8" opacity=".25"/><rect x="38" width="1" height="8" opacity=".33"/><rect x="39" width="2" height="8" opacity=".24"/><rect x="41" width="2" height="8" opacity=".14"/><rect x="43" width="2" height="8" opacity=".20"/><rect x="45" width="2" height="8" opacity=".10"/><rect x="50" width="2" height="8" opacity=".17"/><rect x="52" width="1" height="8" opacity=".18"/><rect x="53" width="1" height="8" opacity=".14"/><rect x="60" width="1" height="8" opacity=".17"/><rect x="63" width="2" height="8" opacity=".14"/><rect x="67" width="2" height="8" opacity=".27"/><rect x="73" width="2" height="8" opacity=".34"/><rect x="89" width="1" height="8" opacity=".31"/><rect x="95" width="2" height="8" opacity=".17"/><rect x="97" width="2" height="8" opacity=".20"/><rect x="104" width="2" height="8" opacity=".23"/><rect x="113" width="1" height="8" opacity=".34"/><rect x="118" width="2" height="8" opacity=".11"/><rect x="122" width="2" height="8" opacity=".26"/><rect x="135" width="2" height="8" opacity=".10"/><rect x="143" width="1" height="8" opacity=".21"/><rect x="152" width="2" height="8" opacity=".24"/><rect x="155" width="2" height="8" opacity=".15"/><rect x="163" width="2" height="8" opacity=".28"/><rect x="169" width="2" height="8" opacity=".33"/><rect x="175" width="2" height="8" opacity=".27"/><rect x="179" width="2" height="8" opacity=".13"/><rect x="187" width="2" height="8" opacity=".21"/><rect x="189" width="2" height="8" opacity=".35"/><rect x="192" width="2" height="8" opacity=".16"/><rect x="196" width="2" height="8" opacity=".17"/><rect x="214" width="2" height="8" opacity=".32"/><rect x="241" width="2" height="8" opacity=".23"/><rect x="245" width="2" height="8" opacity=".21"/><rect x="247" width="2" height="8" opacity=".18"/></g>
<g fill="#000"><rect x="3" width="2" height="8" opacity=".09"/><rect x="23" width="2" height="8" opacity=".06"/><rect x="34" width="2" height="8" opacity=".10"/><rect x="56" width="2" height="8" opacity=".15"/><rect x="58" width="2" height="8" opacity=".23"/><rect x="71" width="2" height="8" opacity=".24"/><rect x="75" width="2" height="8" opacity=".17"/><rect x="77" width="2" height="8" opacity=".17"/><rect x="79" width="1" height="8" opacity=".07"/><rect x="80" width="2" height="8" opacity=".11"/><rect x="83" width="2" height="8" opacity=".23"/><rect x="85" width="2" height="8" opacity=".24"/><rect x="87" width="2" height="8" opacity=".15"/><rect x="90" width="1" height="8" opacity=".14"/><rect x="99" width="2" height="8" opacity=".16"/><rect x="107" width="2" height="8" opacity=".25"/><rect x="109" width="2" height="8" opacity=".19"/><rect x="112" width="1" height="8" opacity=".08"/><rect x="116" width="2" height="8" opacity=".08"/><rect x="120" width="2" height="8" opacity=".15"/><rect x="127" width="2" height="8" opacity=".07"/><rect x="129" width="1" height="8" opacity=".22"/><rect x="131" width="2" height="8" opacity=".19"/><rect x="139" width="2" height="8" opacity=".21"/><rect x="144" width="1" height="8" opacity=".10"/><rect x="146" width="2" height="8" opacity=".10"/><rect x="150" width="1" height="8" opacity=".23"/><rect x="151" width="1" height="8" opacity=".20"/><rect x="161" width="2" height="8" opacity=".19"/><rect x="171" width="2" height="8" opacity=".18"/><rect x="173" width="2" height="8" opacity=".12"/><rect x="185" width="2" height="8" opacity=".15"/><rect x="200" width="2" height="8" opacity=".08"/><rect x="204" width="2" height="8" opacity=".15"/><rect x="207" width="1" height="8" opacity=".19"/><rect x="212" width="2" height="8" opacity=".17"/><rect x="218" width="2" height="8" opacity=".17"/><rect x="220" width="2" height="8" opacity=".10"/><rect x="224" width="1" height="8" opacity=".11"/><rect x="225" width="1" height="8" opacity=".21"/><rect x="226" width="2" height="8" opacity=".18"/><rect x="232" width="2" height="8" opacity=".07"/><rect x="240" width="1" height="8" opacity=".07"/><rect x="251" width="1" height="8" opacity=".13"/><rect x="252" width="1" height="8" opacity=".24"/></g>
</pattern>
<pattern id="bb0a" href="#bb0" patternTransform="translate(37 0)"/>
<pattern id="bb0b" href="#bb0" patternTransform="translate(81 0)"/>
<pattern id="bb0c" href="#bb0" patternTransform="translate(119 0)"/>
<pattern id="bb0d" href="#bb0" patternTransform="translate(163 0)"/>
<pattern id="bb0e" href="#bb0" patternTransform="translate(201 0)"/>
<pattern id="bb1" patternUnits="userSpaceOnUse" width="256" height="8">
<g fill="#000"><rect x="0" width="2" height="8" opacity=".21"/><rect x="11" width="2" height="8" opacity=".18"/><rect x="29" width="2" height="8" opacity=".06"/><rect x="31" width="2" height="8" opacity=".20"/><rect x="40" width="2" height="8" opacity=".20"/><rect x="42" width="2" height="8" opacity=".08"/><rect x="44" width="2" height="8" opacity=".16"/><rect x="46" width="2" height="8" opacity=".08"/><rect x="48" width="2" height="8" opacity=".24"/><rect x="55" width="1" height="8" opacity=".24"/><rect x="58" width="2" height="8" opacity=".14"/><rect x="62" width="2" height="8" opacity=".19"/><rect x="66" width="2" height="8" opacity=".20"/><rect x="69" width="2" height="8" opacity=".19"/><rect x="71" width="1" height="8" opacity=".13"/><rect x="72" width="2" height="8" opacity=".16"/><rect x="74" width="2" height="8" opacity=".19"/><rect x="80" width="1" height="8" opacity=".06"/><rect x="85" width="2" height="8" opacity=".15"/><rect x="92" width="1" height="8" opacity=".21"/><rect x="97" width="2" height="8" opacity=".13"/><rect x="107" width="2" height="8" opacity=".09"/><rect x="110" width="2" height="8" opacity=".20"/><rect x="114" width="2" height="8" opacity=".23"/><rect x="116" width="2" height="8" opacity=".14"/><rect x="122" width="2" height="8" opacity=".16"/><rect x="124" width="2" height="8" opacity=".22"/><rect x="130" width="2" height="8" opacity=".15"/><rect x="132" width="2" height="8" opacity=".19"/><rect x="134" width="2" height="8" opacity=".15"/><rect x="144" width="2" height="8" opacity=".17"/><rect x="149" width="1" height="8" opacity=".06"/><rect x="154" width="2" height="8" opacity=".07"/><rect x="159" width="2" height="8" opacity=".16"/><rect x="163" width="2" height="8" opacity=".12"/><rect x="172" width="2" height="8" opacity=".10"/><rect x="183" width="2" height="8" opacity=".11"/><rect x="187" width="1" height="8" opacity=".07"/><rect x="188" width="2" height="8" opacity=".17"/><rect x="190" width="1" height="8" opacity=".14"/><rect x="191" width="2" height="8" opacity=".18"/><rect x="201" width="1" height="8" opacity=".22"/><rect x="203" width="2" height="8" opacity=".14"/><rect x="205" width="2" height="8" opacity=".11"/><rect x="207" width="2" height="8" opacity=".17"/><rect x="213" width="1" height="8" opacity=".16"/><rect x="215" width="1" height="8" opacity=".06"/><rect x="217" width="1" height="8" opacity=".08"/><rect x="219" width="1" height="8" opacity=".09"/><rect x="220" width="1" height="8" opacity=".12"/><rect x="221" width="1" height="8" opacity=".09"/><rect x="229" width="1" height="8" opacity=".22"/><rect x="232" width="2" height="8" opacity=".17"/><rect x="234" width="2" height="8" opacity=".06"/><rect x="240" width="1" height="8" opacity=".16"/><rect x="243" width="2" height="8" opacity=".06"/><rect x="251" width="2" height="8" opacity=".07"/><rect x="253" width="1" height="8" opacity=".13"/></g>
<g fill="#8000FF"><rect x="4" width="2" height="8" opacity=".12"/><rect x="8" width="2" height="8" opacity=".29"/><rect x="10" width="1" height="8" opacity=".18"/><rect x="13" width="2" height="8" opacity=".17"/><rect x="17" width="2" height="8" opacity=".26"/><rect x="19" width="2" height="8" opacity=".12"/><rect x="25" width="2" height="8" opacity=".19"/><rect x="27" width="2" height="8" opacity=".12"/><rect x="35" width="2" height="8" opacity=".34"/><rect x="50" width="2" height="8" opacity=".22"/><rect x="53" width="2" height="8" opacity=".35"/><rect x="60" width="2" height="8" opacity=".24"/><rect x="64" width="2" height="8" opacity=".20"/><rect x="78" width="2" height="8" opacity=".33"/><rect x="82" width="2" height="8" opacity=".26"/><rect x="89" width="2" height="8" opacity=".22"/><rect x="93" width="2" height="8" opacity=".30"/><rect x="109" width="1" height="8" opacity=".12"/><rect x="118" width="2" height="8" opacity=".14"/><rect x="129" width="1" height="8" opacity=".16"/><rect x="136" width="2" height="8" opacity=".31"/><rect x="139" width="1" height="8" opacity=".24"/><rect x="142" width="2" height="8" opacity=".17"/><rect x="146" width="2" height="8" opacity=".21"/><rect x="148" width="1" height="8" opacity=".15"/><rect x="150" width="2" height="8" opacity=".23"/><rect x="156" width="2" height="8" opacity=".16"/><rect x="158" width="1" height="8" opacity=".12"/><rect x="161" width="2" height="8" opacity=".14"/><rect x="165" width="2" height="8" opacity=".20"/><rect x="167" width="2" height="8" opacity=".28"/><rect x="170" width="2" height="8" opacity=".29"/><rect x="176" width="2" height="8" opacity=".19"/><rect x="178" width="2" height="8" opacity=".24"/><rect x="185" width="2" height="8" opacity=".25"/><rect x="199" width="2" height="8" opacity=".24"/><rect x="216" width="1" height="8" opacity=".25"/><rect x="227" width="2" height="8" opacity=".20"/><rect x="236" width="2" height="8" opacity=".14"/><rect x="245" width="2" height="8" opacity=".15"/></g>
</pattern>
<pattern id="bb1a" href="#bb1" patternTransform="translate(37 0)"/>
<pattern id="bb1b" href="#bb1" patternTransform="translate(81 0)"/>
<pattern id="bb1c" href="#bb1" patternTransform="translate(119 0)"/>
<pattern id="bb1d" href="#bb1" patternTransform="translate(163 0)"/>
<pattern id="bb1e" href="#bb1" patternTransform="translate(201 0)"/>
<linearGradient id="fd" gradientUnits="userSpaceOnUse" x1="900" y1="0" x2="1796" y2="0"><stop offset="0" stop-color="#000" stop-opacity="0"/><stop offset=".26" stop-color="#000" stop-opacity=".55"/><stop offset=".39" stop-color="#000" stop-opacity=".84"/><stop offset="1" stop-color="#000" stop-opacity=".88"/></linearGradient>
<linearGradient id="fu" gradientUnits="userSpaceOnUse" x1="900" y1="0" x2="1796" y2="0"><stop offset="0" stop-color="#00005C" stop-opacity="0"/><stop offset=".28" stop-color="#00005C" stop-opacity="1"/><stop offset="1" stop-color="#00005C" stop-opacity="1"/></linearGradient>
</defs>
<rect width="2066" height="1067" fill="#fff"/>
<g shape-rendering="crispEdges">
<rect x="121.5" y="51.2" width="1674.5" height="924.4" fill="#000"/>
<g id="normal">
<rect x="121.5" y="75" width="1674.5" height="4.9" fill="#000050"/>
<rect x="121.5" y="79.9" width="1674.5" height="4.6" fill="#0000F0"/>
<rect x="121.5" y="84.5" width="1674.5" height="5.3" fill="#3800FF"/>
<rect x="121.5" y="89.8" width="1674.5" height="4.9" fill="#5000FF"/>
<rect x="121.5" y="94.7" width="1674.5" height="4.8" fill="#0000E0"/>
<rect x="121.5" y="99.5" width="1674.5" height="4.4" fill="#2800FF"/>
<rect x="121.5" y="103.9" width="1674.5" height="4.8" fill="#1000F8"/>
<rect x="121.5" y="108.7" width="1674.5" height="5.3" fill="#0000E0"/>
<rect x="121.5" y="114" width="1674.5" height="4.9" fill="#0000E8"/>
<rect x="121.5" y="118.9" width="1674.5" height="4.8" fill="#000018"/>
<rect x="121.5" y="123.7" width="1674.5" height="5.3" fill="#000058"/>
<rect x="121.5" y="129" width="1674.5" height="4.9" fill="#000040"/>
<rect x="121.5" y="133.9" width="1674.5" height="4.8" fill="#000008"/>
<rect x="121.5" y="143.1" width="1674.5" height="4.8" fill="#000030"/>
<rect x="121.5" y="147.9" width="1674.5" height="4.9" fill="#2000E0"/>
<rect x="121.5" y="152.8" width="1674.5" height="5.3" fill="#4000F0"/>
<rect x="121.5" y="158.1" width="1674.5" height="4.8" fill="#000020"/>
<rect x="121.5" y="255" width="1674.5" height="5" fill="#000030"/>
<rect x="121.5" y="260" width="1674.5" height="5" fill="#0000C8"/>
<rect x="121.5" y="265" width="1674.5" height="5" fill="#0000A0"/>
<rect x="121.5" y="270" width="1674.5" height="5" fill="#000030"/>
<rect x="121.5" y="275" width="1674.5" height="5" fill="#000080"/>
<rect x="121.5" y="280" width="1674.5" height="5" fill="#0000F0"/>
<rect x="121.5" y="285" width="1674.5" height="4" fill="#2000FF"/>
<rect x="121.5" y="289" width="1674.5" height="5" fill="#0000F0"/>
<rect x="121.5" y="294" width="1674.5" height="5" fill="#000080"/>
<rect x="121.5" y="318" width="1674.5" height="5" fill="#000030"/>
<rect x="121.5" y="323" width="1674.5" height="5" fill="#000090"/>
<rect x="121.5" y="328" width="1674.5" height="5" fill="#0000F8"/>
<rect x="121.5" y="333" width="1674.5" height="5" fill="#3000FF"/>
<rect x="121.5" y="338" width="1674.5" height="5" fill="#000050"/>
<rect x="121.5" y="353" width="1674.5" height="4" fill="#000012"/>
<rect x="121.5" y="372" width="1674.5" height="5" fill="#00000E"/>
<rect x="121.5" y="396" width="1674.5" height="5" fill="#000038"/>
<rect x="121.5" y="401" width="1674.5" height="5" fill="#0000E0"/>
<rect x="121.5" y="406" width="1674.5" height="5" fill="#0000FF"/>
<rect x="121.5" y="411" width="1674.5" height="5" fill="#000090"/>
<rect x="121.5" y="425" width="1674.5" height="5" fill="#000048"/>
<rect x="121.5" y="430" width="1674.5" height="5" fill="#000070"/>
<rect x="121.5" y="435" width="1674.5" height="5" fill="#000030"/>
<rect x="121.5" y="440" width="1674.5" height="5" fill="#000040"/>
<rect x="121.5" y="445" width="1674.5" height="5" fill="#0000A8"/>
<rect x="121.5" y="450" width="1674.5" height="5" fill="#0000D4"/>
<rect x="121.5" y="455" width="1674.5" height="4" fill="#0000A0"/>
<rect x="121.5" y="459" width="1674.5" height="5" fill="#000098"/>
<rect x="121.5" y="464" width="1674.5" height="5" fill="#000040"/>
<rect x="121.5" y="469" width="1674.5" height="5" fill="#000080"/>
<rect x="121.5" y="474" width="1674.5" height="5" fill="#0000D8"/>
<rect x="121.5" y="479" width="1674.5" height="5" fill="#000040"/>
<rect x="121.5" y="756" width="1674.5" height="5" fill="#00000E"/>
<rect x="121.5" y="761" width="1674.5" height="5" fill="#000016"/>
<rect x="121.5" y="766" width="1674.5" height="5" fill="#000026"/>
<rect x="121.5" y="771" width="1674.5" height="4.8" fill="#0000A0"/>
<rect x="121.5" y="775.8" width="1674.5" height="4.5" fill="#00002C"/>
<rect x="121.5" y="790" width="1674.5" height="5" fill="#000018"/>
<rect x="121.5" y="795" width="1674.5" height="5" fill="#000030"/>
<rect x="121.5" y="800" width="1674.5" height="5" fill="#00000C"/>
<rect x="121.5" y="897" width="1674.5" height="5" fill="#000018"/>
<rect x="121.5" y="902" width="1674.5" height="5" fill="#000070"/>
<rect x="121.5" y="907" width="1674.5" height="5" fill="#0000C0"/>
<rect x="121.5" y="912" width="1674.5" height="5" fill="#0000F0"/>
<rect x="121.5" y="917" width="1674.5" height="4" fill="#5000FF"/>
<rect x="121.5" y="921" width="1674.5" height="5" fill="#0000F8"/>
<rect x="121.5" y="926" width="1674.5" height="5" fill="#0000E0"/>
<rect x="121.5" y="931" width="1674.5" height="5" fill="#000084"/>
<rect x="121.5" y="936" width="1674.5" height="5" fill="#000070"/>
<rect x="121.5" y="941" width="1674.5" height="5" fill="#000020"/>
<rect x="121.5" y="946" width="1674.5" height="5" fill="#000078"/>
<rect x="121.5" y="951" width="1674.5" height="5" fill="#0000C0"/>
<rect x="121.5" y="956" width="1674.5" height="4" fill="#0000D0"/>
<rect x="121.5" y="960" width="1674.5" height="5" fill="#0000C8"/>
<rect x="121.5" y="965" width="1674.5" height="5" fill="#000080"/>
<rect x="121.5" y="970" width="1674.5" height="5.5" fill="#0000A8"/>
</g>
<g id="feat0">
<rect x="1542" y="99.5" width="254" height="9.2" fill="#9818FF" fill-opacity="0.88"/>
<rect x="1000" y="94.7" width="300" height="14" fill="#6000FF" fill-opacity="0.3"/>
<rect x="573" y="99.5" width="43" height="9.2" fill="#7000FF" fill-opacity="0.45"/>
<rect x="815" y="99.5" width="30" height="9.2" fill="#7000FF" fill-opacity="0.6"/>
<rect x="1255" y="99.5" width="20" height="9.2" fill="#8000FF" fill-opacity="0.5"/>
</g>
<g id="nnoise">
<rect x="121.5" y="75" width="1674.5" height="4.9" fill="url(#d11b)"/>
<rect x="121.5" y="79.9" width="1674.5" height="4.6" fill="url(#b10b)"/>
<rect x="121.5" y="84.5" width="1674.5" height="5.3" fill="url(#B11a)"/>
<rect x="121.5" y="89.8" width="1674.5" height="4.9" fill="url(#B10d)"/>
<rect x="121.5" y="94.7" width="1674.5" height="4.8" fill="url(#b20b)"/>
<rect x="121.5" y="99.5" width="1674.5" height="4.4" fill="url(#B21c)"/>
<rect x="121.5" y="103.9" width="1674.5" height="4.8" fill="url(#B20b)"/>
<rect x="121.5" y="108.7" width="1674.5" height="5.3" fill="url(#b21e)"/>
<rect x="121.5" y="114" width="1674.5" height="4.9" fill="url(#b21a)"/>
<rect x="121.5" y="118.9" width="1674.5" height="4.8" fill="url(#d31a)"/>
<rect x="121.5" y="123.7" width="1674.5" height="5.3" fill="url(#d30c)"/>
<rect x="121.5" y="129" width="1674.5" height="4.9" fill="url(#d30d)"/>
<rect x="121.5" y="143.1" width="1674.5" height="4.8" fill="url(#d31a)"/>
<rect x="121.5" y="147.9" width="1674.5" height="4.9" fill="url(#cm0a)"/>
<rect x="121.5" y="152.8" width="1674.5" height="5.3" fill="url(#cm1b)"/>
<rect x="121.5" y="158.1" width="1674.5" height="4.8" fill="url(#d30e)"/>
<rect x="121.5" y="255" width="1674.5" height="5" fill="url(#d10b)"/>
<rect x="121.5" y="260" width="1674.5" height="5" fill="url(#b10)"/>
<rect x="121.5" y="265" width="1674.5" height="5" fill="url(#b11c)"/>
<rect x="121.5" y="270" width="1674.5" height="5" fill="url(#d11a)"/>
<rect x="121.5" y="275" width="1674.5" height="5" fill="url(#d11c)"/>
<rect x="121.5" y="280" width="1674.5" height="5" fill="url(#B11e)"/>
<rect x="121.5" y="285" width="1674.5" height="4" fill="url(#B11e)"/>
<rect x="121.5" y="289" width="1674.5" height="5" fill="url(#B11b)"/>
<rect x="121.5" y="294" width="1674.5" height="5" fill="url(#d10)"/>
<rect x="121.5" y="318" width="1674.5" height="5" fill="url(#d11d)"/>
<rect x="121.5" y="323" width="1674.5" height="5" fill="url(#b10e)"/>
<rect x="121.5" y="328" width="1674.5" height="5" fill="url(#B11d)"/>
<rect x="121.5" y="333" width="1674.5" height="5" fill="url(#B11b)"/>
<rect x="121.5" y="338" width="1674.5" height="5" fill="url(#d10e)"/>
<rect x="121.5" y="396" width="1674.5" height="5" fill="url(#d10c)"/>
<rect x="121.5" y="401" width="1674.5" height="5" fill="url(#b11a)"/>
<rect x="121.5" y="406" width="1674.5" height="5" fill="url(#B10b)"/>
<rect x="121.5" y="411" width="1674.5" height="5" fill="url(#b10a)"/>
<rect x="121.5" y="425" width="1674.5" height="5" fill="url(#d10e)"/>
<rect x="121.5" y="430" width="1674.5" height="5" fill="url(#d10c)"/>
<rect x="121.5" y="435" width="1674.5" height="5" fill="url(#d10e)"/>
<rect x="121.5" y="440" width="1674.5" height="5" fill="url(#d21)"/>
<rect x="121.5" y="445" width="1674.5" height="5" fill="url(#b20a)"/>
<rect x="121.5" y="450" width="1674.5" height="5" fill="url(#b21b)"/>
<rect x="121.5" y="455" width="1674.5" height="4" fill="url(#b20e)"/>
<rect x="121.5" y="459" width="1674.5" height="5" fill="url(#b20c)"/>
<rect x="121.5" y="464" width="1674.5" height="5" fill="url(#d20a)"/>
<rect x="121.5" y="469" width="1674.5" height="5" fill="url(#d20b)"/>
<rect x="121.5" y="474" width="1674.5" height="5" fill="url(#b21d)"/>
<rect x="121.5" y="479" width="1674.5" height="5" fill="url(#d20c)"/>
<rect x="121.5" y="761" width="1674.5" height="5" fill="url(#d10)"/>
<rect x="121.5" y="766" width="1674.5" height="5" fill="url(#d11e)"/>
<rect x="121.5" y="771" width="1674.5" height="4.8" fill="url(#b11a)"/>
<rect x="121.5" y="775.8" width="1674.5" height="4.5" fill="url(#d11c)"/>
<rect x="121.5" y="790" width="1674.5" height="5" fill="url(#d10e)"/>
<rect x="121.5" y="795" width="1674.5" height="5" fill="url(#d10c)"/>
<rect x="121.5" y="897" width="1674.5" height="5" fill="url(#d21c)"/>
<rect x="121.5" y="902" width="1674.5" height="5" fill="url(#d21e)"/>
<rect x="121.5" y="907" width="1674.5" height="5" fill="url(#b10)"/>
<rect x="121.5" y="912" width="1674.5" height="5" fill="url(#B10a)"/>
<rect x="121.5" y="917" width="1674.5" height="4" fill="url(#pk0c)"/>
<rect x="121.5" y="921" width="1674.5" height="5" fill="url(#B10b)"/>
<rect x="121.5" y="926" width="1674.5" height="5" fill="url(#b11b)"/>
<rect x="121.5" y="931" width="1674.5" height="5" fill="url(#d20b)"/>
<rect x="121.5" y="936" width="1674.5" height="5" fill="url(#d20)"/>
<rect x="121.5" y="941" width="1674.5" height="5" fill="url(#d21b)"/>
<rect x="121.5" y="946" width="1674.5" height="5" fill="url(#d11b)"/>
<rect x="121.5" y="951" width="1674.5" height="5" fill="url(#b11)"/>
<rect x="121.5" y="956" width="1674.5" height="4" fill="url(#b10)"/>
<rect x="121.5" y="960" width="1674.5" height="5" fill="url(#b11)"/>
<rect x="121.5" y="965" width="1674.5" height="5" fill="url(#d10d)"/>
<rect x="121.5" y="970" width="1674.5" height="5.5" fill="url(#b11e)"/>
</g>
<g id="feat">
<rect x="900" y="756" width="896" height="24.3" fill="url(#fd)"/>
<rect x="900" y="790" width="896" height="5" fill="url(#fu)"/>
<rect x="900" y="795" width="896" height="5" fill="url(#fd)"/>
<rect x="900" y="790" width="896" height="5" fill="url(#d10c)" opacity=".8"/>
<rect x="1135" y="766" width="6" height="5" fill="#000030"/>
<rect x="1155" y="766" width="4" height="5" fill="#000038"/>
<rect x="1169" y="766" width="14" height="5" fill="#000038"/>
<rect x="1197" y="766" width="9" height="5" fill="#000048"/>
<rect x="1236" y="766" width="2" height="5" fill="#000048"/>
<rect x="1268" y="766" width="9" height="5" fill="#000030"/>
<rect x="1283" y="766" width="14" height="5" fill="#000048"/>
<rect x="1307" y="766" width="14" height="5" fill="#000048"/>
<rect x="1343" y="766" width="3" height="5" fill="#000038"/>
<rect x="1356" y="766" width="2" height="5" fill="#000038"/>
<rect x="1368" y="766" width="9" height="5" fill="#000030"/>
<rect x="1383" y="766" width="14" height="5" fill="#000048"/>
<rect x="1403" y="766" width="4" height="5" fill="#000038"/>
<rect x="1417" y="766" width="14" height="5" fill="#000048"/>
<rect x="1437" y="766" width="4" height="5" fill="#000038"/>
<rect x="1463" y="766" width="4" height="5" fill="#000048"/>
<rect x="1473" y="766" width="3" height="5" fill="#000030"/>
<rect x="1482" y="766" width="6" height="5" fill="#000038"/>
<rect x="1510" y="766" width="6" height="5" fill="#000038"/>
<rect x="1522" y="766" width="3" height="5" fill="#000048"/>
<rect x="1531" y="766" width="9" height="5" fill="#000038"/>
<rect x="1546" y="766" width="9" height="5" fill="#000038"/>
<rect x="1565" y="766" width="4" height="5" fill="#000038"/>
<rect x="1575" y="766" width="3" height="5" fill="#000030"/>
<rect x="1584" y="766" width="9" height="5" fill="#000038"/>
<rect x="1623" y="766" width="6" height="5" fill="#000030"/>
<rect x="1639" y="766" width="6" height="5" fill="#000038"/>
<rect x="1667" y="766" width="3" height="5" fill="#000030"/>
<rect x="1676" y="766" width="14" height="5" fill="#000030"/>
<rect x="1700" y="766" width="3" height="5" fill="#000030"/>
<rect x="1709" y="766" width="2" height="5" fill="#000048"/>
<rect x="1741" y="766" width="14" height="5" fill="#000030"/>
<rect x="1765" y="766" width="14" height="5" fill="#000048"/>
<rect x="464" y="129" width="22" height="4.9" fill="#0000D0"/>
<rect x="466" y="133.9" width="18" height="4.8" fill="#F050C8"/>
<rect x="466" y="138.7" width="18" height="4.4" fill="#FF7888"/>
<rect x="466" y="143.1" width="18" height="4.8" fill="#B040F0"/>
<rect x="485.5" y="129" width="6.5" height="4.9" fill="#0000D0"/>
<rect x="487.5" y="133.9" width="2.5" height="4.8" fill="#F050C8"/>
<rect x="487.5" y="138.7" width="2.5" height="4.4" fill="#FF7888"/>
<rect x="487.5" y="143.1" width="2.5" height="4.8" fill="#B040F0"/>
<rect x="541.7" y="129" width="14.3" height="4.9" fill="#0000D0"/>
<rect x="543.7" y="133.9" width="10.3" height="4.8" fill="#F050C8"/>
<rect x="543.7" y="138.7" width="10.3" height="4.4" fill="#FF7888"/>
<rect x="543.7" y="143.1" width="10.3" height="4.8" fill="#B040F0"/>
<rect x="570" y="129" width="17" height="4.9" fill="#0000D0"/>
<rect x="572" y="133.9" width="13" height="4.8" fill="#F050C8"/>
<rect x="572" y="138.7" width="13" height="4.4" fill="#FF7888"/>
<rect x="572" y="143.1" width="13" height="4.8" fill="#B040F0"/>
<rect x="613" y="129" width="15" height="4.9" fill="#0000D0"/>
<rect x="615" y="133.9" width="11" height="4.8" fill="#F050C8"/>
<rect x="615" y="138.7" width="11" height="4.4" fill="#FF7888"/>
<rect x="615" y="143.1" width="11" height="4.8" fill="#B040F0"/>
<rect x="634.5" y="129" width="5.5" height="4.9" fill="#0000D0"/>
<rect x="636.5" y="133.9" width="1.5" height="4.8" fill="#F050C8"/>
<rect x="636.5" y="138.7" width="1.5" height="4.4" fill="#FF7888"/>
<rect x="636.5" y="143.1" width="1.5" height="4.8" fill="#B040F0"/>
<rect x="642.5" y="129" width="5.5" height="4.9" fill="#0000D0"/>
<rect x="644.5" y="133.9" width="1.5" height="4.8" fill="#F050C8"/>
<rect x="644.5" y="138.7" width="1.5" height="4.4" fill="#FF7888"/>
<rect x="644.5" y="143.1" width="1.5" height="4.8" fill="#B040F0"/>
<rect x="657" y="129" width="14" height="4.9" fill="#0000D0"/>
<rect x="659" y="133.9" width="10" height="4.8" fill="#F050C8"/>
<rect x="659" y="138.7" width="10" height="4.4" fill="#FF7888"/>
<rect x="659" y="143.1" width="10" height="4.8" fill="#B040F0"/>
<rect x="700.5" y="129" width="9.5" height="4.9" fill="#0000D0"/>
<rect x="702.5" y="133.9" width="5.5" height="4.8" fill="#F050C8"/>
<rect x="702.5" y="138.7" width="5.5" height="4.4" fill="#FF7888"/>
<rect x="702.5" y="143.1" width="5.5" height="4.8" fill="#B040F0"/>
<rect x="744" y="129" width="12.5" height="4.9" fill="#0000D0"/>
<rect x="746" y="133.9" width="8.5" height="4.8" fill="#F050C8"/>
<rect x="746" y="138.7" width="8.5" height="4.4" fill="#FF7888"/>
<rect x="746" y="143.1" width="8.5" height="4.8" fill="#B040F0"/>
<rect x="830" y="129" width="31" height="4.9" fill="#0000D0"/>
<rect x="832" y="133.9" width="27" height="4.8" fill="#F050C8"/>
<rect x="832" y="138.7" width="27" height="4.4" fill="#FF7888"/>
<rect x="832" y="143.1" width="27" height="4.8" fill="#B040F0"/>
<rect x="888" y="129" width="23" height="4.9" fill="#0000D0"/>
<rect x="890" y="133.9" width="19" height="4.8" fill="#F050C8"/>
<rect x="890" y="138.7" width="19" height="4.4" fill="#FF7888"/>
<rect x="890" y="143.1" width="19" height="4.8" fill="#B040F0"/>
<rect x="918.5" y="129" width="12" height="4.9" fill="#0000D0"/>
<rect x="920.5" y="133.9" width="8" height="4.8" fill="#F050C8"/>
<rect x="920.5" y="138.7" width="8" height="4.4" fill="#FF7888"/>
<rect x="920.5" y="143.1" width="8" height="4.8" fill="#B040F0"/>
<rect x="960.6" y="129" width="14.4" height="4.9" fill="#0000D0"/>
<rect x="962.6" y="133.9" width="10.4" height="4.8" fill="#F050C8"/>
<rect x="962.6" y="138.7" width="10.4" height="4.4" fill="#FF7888"/>
<rect x="962.6" y="143.1" width="10.4" height="4.8" fill="#B040F0"/>
<rect x="1005" y="129" width="12" height="4.9" fill="#0000D0"/>
<rect x="1007" y="133.9" width="8" height="4.8" fill="#F050C8"/>
<rect x="1007" y="138.7" width="8" height="4.4" fill="#FF7888"/>
<rect x="1007" y="143.1" width="8" height="4.8" fill="#B040F0"/>
<rect x="1048" y="129" width="23.6" height="4.9" fill="#0000D0"/>
<rect x="1050" y="133.9" width="19.6" height="4.8" fill="#F050C8"/>
<rect x="1050" y="138.7" width="19.6" height="4.4" fill="#FF7888"/>
<rect x="1050" y="143.1" width="19.6" height="4.8" fill="#B040F0"/>
<rect x="1136.5" y="133.9" width="30.5" height="4.8" fill="#FF68A0"/>
<rect x="1136.5" y="138.7" width="30.5" height="4.4" fill="#FF8870"/>
<rect x="1136.5" y="143.1" width="30.5" height="4.8" fill="#8830F0"/>
<rect x="1188" y="133.9" width="12" height="4.8" fill="#FF68A0"/>
<rect x="1188" y="138.7" width="12" height="4.4" fill="#FF8870"/>
<rect x="1188" y="143.1" width="12" height="4.8" fill="#8830F0"/>
<rect x="1240" y="133.9" width="10" height="4.8" fill="#FF68A0"/>
<rect x="1240" y="138.7" width="10" height="4.4" fill="#FF8870"/>
<rect x="1240" y="143.1" width="10" height="4.8" fill="#8830F0"/>
<rect x="1313" y="133.9" width="11.5" height="4.8" fill="#FF68A0"/>
<rect x="1313" y="138.7" width="11.5" height="4.4" fill="#FF8870"/>
<rect x="1313" y="143.1" width="11.5" height="4.8" fill="#8830F0"/>
<rect x="1355" y="133.9" width="12" height="4.8" fill="#FF68A0"/>
<rect x="1355" y="138.7" width="12" height="4.4" fill="#FF8870"/>
<rect x="1355" y="143.1" width="12" height="4.8" fill="#8830F0"/>
<rect x="1397.5" y="133.9" width="14.5" height="4.8" fill="#FF68A0"/>
<rect x="1397.5" y="138.7" width="14.5" height="4.4" fill="#FF8870"/>
<rect x="1397.5" y="143.1" width="14.5" height="4.8" fill="#8830F0"/>
<rect x="1418.6" y="133.9" width="77.4" height="4.8" fill="#FF68A0"/>
<rect x="1418.6" y="138.7" width="77.4" height="4.4" fill="#FF8870"/>
<rect x="1418.6" y="143.1" width="77.4" height="4.8" fill="#8830F0"/>
<rect x="1500" y="133.9" width="77.5" height="4.8" fill="#FF68A0"/>
<rect x="1500" y="138.7" width="77.5" height="4.4" fill="#FF8870"/>
<rect x="1500" y="143.1" width="77.5" height="4.8" fill="#8830F0"/>
<rect x="1582" y="133.9" width="34" height="4.8" fill="#FF68A0"/>
<rect x="1582" y="138.7" width="34" height="4.4" fill="#FF8870"/>
<rect x="1582" y="143.1" width="34" height="4.8" fill="#8830F0"/>
<rect x="1668" y="133.9" width="13" height="4.8" fill="#FF68A0"/>
<rect x="1668" y="138.7" width="13" height="4.4" fill="#FF8870"/>
<rect x="1668" y="143.1" width="13" height="4.8" fill="#8830F0"/>
<rect x="1713.6" y="133.9" width="13" height="4.8" fill="#FF68A0"/>
<rect x="1713.6" y="138.7" width="13" height="4.4" fill="#FF8870"/>
<rect x="1713.6" y="143.1" width="13" height="4.8" fill="#8830F0"/>
<rect x="1754" y="133.9" width="27.7" height="4.8" fill="#FF68A0"/>
<rect x="1754" y="138.7" width="27.7" height="4.4" fill="#FF8870"/>
<rect x="1754" y="143.1" width="27.7" height="4.8" fill="#8830F0"/>
<rect x="466" y="133.9" width="18" height="14" fill="url(#bz0d)"/>
<rect x="543.7" y="133.9" width="10.3" height="14" fill="url(#bz1c)"/>
<rect x="572" y="133.9" width="13" height="14" fill="url(#bz0a)"/>
<rect x="615" y="133.9" width="11" height="14" fill="url(#bz1d)"/>
<rect x="659" y="133.9" width="10" height="14" fill="url(#bz1e)"/>
<rect x="746" y="133.9" width="8.5" height="14" fill="url(#bz0d)"/>
<rect x="832" y="133.9" width="27" height="14" fill="url(#bz1b)"/>
<rect x="890" y="133.9" width="19" height="14" fill="url(#bz1d)"/>
<rect x="920.5" y="133.9" width="8" height="14" fill="url(#bz0b)"/>
<rect x="962.6" y="133.9" width="10.4" height="14" fill="url(#bz0d)"/>
<rect x="1007" y="133.9" width="8" height="14" fill="url(#bz1d)"/>
<rect x="1050" y="133.9" width="19.6" height="14" fill="url(#bz1a)"/>
<rect x="1136.5" y="133.9" width="30.5" height="14" fill="url(#bz1d)"/>
<rect x="1188" y="133.9" width="12" height="14" fill="url(#bz0d)"/>
<rect x="1240" y="133.9" width="10" height="14" fill="url(#bz0d)"/>
<rect x="1313" y="133.9" width="11.5" height="14" fill="url(#bz1)"/>
<rect x="1355" y="133.9" width="12" height="14" fill="url(#bz0d)"/>
<rect x="1397.5" y="133.9" width="14.5" height="14" fill="url(#bz1d)"/>
<rect x="1418.6" y="133.9" width="77.4" height="14" fill="url(#bz0c)"/>
<rect x="1500" y="133.9" width="77.5" height="14" fill="url(#bz0e)"/>
<rect x="1582" y="133.9" width="34" height="14" fill="url(#bz0)"/>
<rect x="1668" y="133.9" width="13" height="14" fill="url(#bz1c)"/>
<rect x="1713.6" y="133.9" width="13" height="14" fill="url(#bz1b)"/>
<rect x="1754" y="133.9" width="27.7" height="14" fill="url(#bz0c)"/>
<rect x="1158" y="123.7" width="10" height="10.2" fill="#FF7890"/>
<rect x="1156" y="123.7" width="2" height="10.2" fill="#0000E0"/>
<rect x="1168" y="123.7" width="2" height="10.2" fill="#0000E0"/>
<rect x="1158" y="118.9" width="10" height="4.8" fill="#8030F0"/>
<rect x="1177.7" y="123.7" width="1.7" height="10.2" fill="#FF7890"/>
<rect x="1186.8" y="123.7" width="9" height="10.2" fill="#FF7890"/>
<rect x="1184.8" y="123.7" width="2" height="10.2" fill="#0000E0"/>
<rect x="1195.8" y="123.7" width="2" height="10.2" fill="#0000E0"/>
<rect x="1186.8" y="118.9" width="9" height="4.8" fill="#8030F0"/>
<rect x="1203.6" y="123.7" width="1.4" height="10.2" fill="#FF7890"/>
<rect x="1218" y="123.7" width="1.3" height="10.2" fill="#FF7890"/>
<rect x="1232" y="123.7" width="3.3" height="10.2" fill="#FF7890"/>
<rect x="1230" y="123.7" width="2" height="10.2" fill="#0000E0"/>
<rect x="1235.3" y="123.7" width="2" height="10.2" fill="#0000E0"/>
<rect x="1232" y="118.9" width="3.3" height="4.8" fill="#8030F0"/>
<rect x="1241.9" y="123.7" width="10.7" height="10.2" fill="#FF7890"/>
<rect x="1239.9" y="123.7" width="2" height="10.2" fill="#0000E0"/>
<rect x="1252.6" y="123.7" width="2" height="10.2" fill="#0000E0"/>
<rect x="1241.9" y="118.9" width="10.7" height="4.8" fill="#8030F0"/>
<rect x="1254.3" y="123.7" width="1.7" height="10.2" fill="#FF7890"/>
<rect x="1280.6" y="123.7" width="4.1" height="10.2" fill="#FF7890"/>
<rect x="1278.6" y="123.7" width="2" height="10.2" fill="#0000E0"/>
<rect x="1284.7" y="123.7" width="2" height="10.2" fill="#0000E0"/>
<rect x="1280.6" y="118.9" width="4.1" height="4.8" fill="#8030F0"/>
<rect x="1296" y="123.7" width="1.8" height="10.2" fill="#FF7890"/>
<rect x="1302.8" y="123.7" width="3.2" height="10.2" fill="#FF7890"/>
<rect x="1300.8" y="123.7" width="2" height="10.2" fill="#0000E0"/>
<rect x="1306" y="123.7" width="2" height="10.2" fill="#0000E0"/>
<rect x="1302.8" y="118.9" width="3.2" height="4.8" fill="#8030F0"/>
<rect x="1309.4" y="123.7" width="2.5" height="10.2" fill="#FF7890"/>
<rect x="1327.5" y="123.7" width="2.5" height="10.2" fill="#FF7890"/>
<rect x="1338" y="123.7" width="1.3" height="10.2" fill="#FF7890"/>
<rect x="1358" y="123.7" width="1.2" height="10.2" fill="#FF7890"/>
<rect x="1366" y="123.7" width="1.3" height="10.2" fill="#FF7890"/>
<rect x="1394" y="123.7" width="1.3" height="10.2" fill="#FF7890"/>
<rect x="1408" y="123.7" width="1.3" height="10.2" fill="#FF7890"/>
<rect x="1418.8" y="123.7" width="6.6" height="10.2" fill="#FF7890"/>
<rect x="1416.8" y="123.7" width="2" height="10.2" fill="#0000E0"/>
<rect x="1425.4" y="123.7" width="2" height="10.2" fill="#0000E0"/>
<rect x="1418.8" y="118.9" width="6.6" height="4.8" fill="#8030F0"/>
<rect x="1436" y="123.7" width="1.3" height="10.2" fill="#FF7890"/>
<rect x="1456.5" y="123.7" width="1.3" height="10.2" fill="#FF7890"/>
<rect x="1489.3" y="123.7" width="2.3" height="10.2" fill="#FF7890"/>
<rect x="1528.3" y="123.7" width="4.1" height="10.2" fill="#FF7890"/>
<rect x="1526.3" y="123.7" width="2" height="10.2" fill="#0000E0"/>
<rect x="1532.4" y="123.7" width="2" height="10.2" fill="#0000E0"/>
<rect x="1528.3" y="118.9" width="4.1" height="4.8" fill="#8030F0"/>
<rect x="1541.5" y="123.7" width="1.5" height="10.2" fill="#FF7890"/>
<rect x="1567" y="123.7" width="1.6" height="10.2" fill="#FF7890"/>
<rect x="1581" y="123.7" width="5" height="10.2" fill="#FF7890"/>
<rect x="1579" y="123.7" width="2" height="10.2" fill="#0000E0"/>
<rect x="1586" y="123.7" width="2" height="10.2" fill="#0000E0"/>
<rect x="1581" y="118.9" width="5" height="4.8" fill="#8030F0"/>
<rect x="1595.8" y="123.7" width="1.6" height="10.2" fill="#FF7890"/>
<rect x="1605.7" y="123.7" width="1.6" height="10.2" fill="#FF7890"/>
<rect x="1635.8" y="123.7" width="2" height="10.2" fill="#FF7890"/>
<rect x="1655" y="123.7" width="2.5" height="10.2" fill="#FF7890"/>
<rect x="1669" y="123.7" width="4" height="10.2" fill="#FF7890"/>
<rect x="1667" y="123.7" width="2" height="10.2" fill="#0000E0"/>
<rect x="1673" y="123.7" width="2" height="10.2" fill="#0000E0"/>
<rect x="1669" y="118.9" width="4" height="4.8" fill="#8030F0"/>
<rect x="1694.5" y="123.7" width="4.1" height="10.2" fill="#FF7890"/>
<rect x="1692.5" y="123.7" width="2" height="10.2" fill="#0000E0"/>
<rect x="1698.6" y="123.7" width="2" height="10.2" fill="#0000E0"/>
<rect x="1694.5" y="118.9" width="4.1" height="4.8" fill="#8030F0"/>
<rect x="1703.3" y="123.7" width="1.3" height="10.2" fill="#FF7890"/>
<rect x="1708.2" y="123.7" width="1.3" height="10.2" fill="#FF7890"/>
<rect x="1759.5" y="123.7" width="5" height="10.2" fill="#FF7890"/>
<rect x="1757.5" y="123.7" width="2" height="10.2" fill="#0000E0"/>
<rect x="1764.5" y="123.7" width="2" height="10.2" fill="#0000E0"/>
<rect x="1759.5" y="118.9" width="5" height="4.8" fill="#8030F0"/>
<rect x="1776.8" y="123.7" width="4.2" height="10.2" fill="#FF7890"/>
<rect x="1774.8" y="123.7" width="2" height="10.2" fill="#0000E0"/>
<rect x="1781" y="123.7" width="2" height="10.2" fill="#0000E0"/>
<rect x="1776.8" y="118.9" width="4.2" height="4.8" fill="#8030F0"/>
<rect x="1788.3" y="123.7" width="3.3" height="10.2" fill="#FF7890"/>
<rect x="1786.3" y="123.7" width="2" height="10.2" fill="#0000E0"/>
<rect x="1791.6" y="123.7" width="2" height="10.2" fill="#0000E0"/>
<rect x="1788.3" y="118.9" width="3.3" height="4.8" fill="#8030F0"/>
<rect x="543" y="873" width="17" height="5" fill="#000050"/>
<rect x="542" y="878" width="18" height="5" fill="#3000FF"/>
<rect x="542" y="883" width="18" height="4.4" fill="#0000F0"/>
<rect x="615.6" y="882.7" width="4.4" height="4.7" fill="#000060"/>
<rect x="615.6" y="887.4" width="4.4" height="4.6" fill="#E040D0"/>
<rect x="615.6" y="892" width="4.4" height="9.8" fill="#0000F0"/>
<rect x="623" y="882.7" width="46" height="4.7" fill="#000060"/>
<rect x="623" y="887.4" width="46" height="4.6" fill="#E040D0"/>
<rect x="623" y="892" width="46" height="9.8" fill="#0000F0"/>
<rect x="623" y="887.4" width="17" height="4.6" fill="#FF58A8"/>
<rect x="715" y="882.7" width="26" height="4.7" fill="#000050"/>
<rect x="715" y="887.4" width="14" height="4.6" fill="#D038E0"/>
<rect x="730" y="887.4" width="11" height="4.6" fill="#5000FF"/>
<rect x="715" y="892" width="14" height="9.8" fill="#0000F0"/>
<rect x="730" y="892" width="11" height="9.8" fill="#0000C0"/>
<rect x="767" y="882.7" width="18" height="4.7" fill="#000050"/>
<rect x="767" y="887.4" width="18" height="4.6" fill="#9000FF"/>
<rect x="767" y="892" width="18" height="9.8" fill="#0000F0"/>
<rect x="1155" y="887.4" width="15.5" height="14.6" fill="#000058"/>
<rect x="1576" y="892" width="10.5" height="4" fill="#000040"/>
<rect x="1640" y="882.7" width="31.5" height="4.7" fill="#000050"/>
<rect x="1640" y="887.4" width="31.5" height="4.6" fill="#A000FF"/>
<rect x="1640" y="892" width="31.5" height="9.8" fill="#0000F0"/>
<rect x="1161" y="931" width="17" height="10" fill="#000008"/>
<rect x="477.5" y="868" width="1.5" height="10" fill="#2000E0"/>
<rect x="500.5" y="868" width="1.5" height="10" fill="#4000F0"/>
<rect x="552" y="868" width="1.5" height="10" fill="#0000C0"/>
<rect x="630.5" y="868" width="1.5" height="10" fill="#2000D0"/>
<rect x="470" y="683" width="1.5" height="5" fill="#000068"/>
<rect x="472.5" y="688" width="2" height="5" fill="#000068"/>
<rect x="475.5" y="693" width="1.5" height="5" fill="#000030"/>
<rect x="520" y="683" width="1.5" height="5" fill="#000068"/>
<rect x="522.5" y="688" width="2" height="5" fill="#000068"/>
<rect x="525.5" y="693" width="1.5" height="5" fill="#000030"/>
<rect x="570" y="683" width="1.5" height="5" fill="#000038"/>
<rect x="572.5" y="688" width="2" height="5" fill="#000038"/>
<rect x="575.5" y="693" width="1.5" height="5" fill="#000030"/>
<rect x="606" y="683" width="1.5" height="5" fill="#000050"/>
<rect x="608.5" y="688" width="2" height="5" fill="#000050"/>
<rect x="611.5" y="693" width="1.5" height="5" fill="#000030"/>
<rect x="656" y="683" width="1.5" height="5" fill="#000038"/>
<rect x="658.5" y="688" width="2" height="5" fill="#000038"/>
<rect x="661.5" y="693" width="1.5" height="5" fill="#000030"/>
<rect x="686" y="683" width="1.5" height="5" fill="#000038"/>
<rect x="688.5" y="688" width="2" height="5" fill="#000038"/>
<rect x="691.5" y="693" width="1.5" height="5" fill="#000030"/>
<rect x="718" y="683" width="1.5" height="5" fill="#000040"/>
<rect x="720.5" y="688" width="2" height="5" fill="#000040"/>
<rect x="723.5" y="693" width="1.5" height="5" fill="#000030"/>
<rect x="748" y="683" width="1.5" height="5" fill="#000040"/>
<rect x="750.5" y="688" width="2" height="5" fill="#000040"/>
<rect x="753.5" y="693" width="1.5" height="5" fill="#000030"/>
<rect x="792" y="683" width="1.5" height="5" fill="#000038"/>
<rect x="794.5" y="688" width="2" height="5" fill="#000038"/>
<rect x="797.5" y="693" width="1.5" height="5" fill="#000030"/>
<rect x="836" y="683" width="1.5" height="5" fill="#000050"/>
<rect x="838.5" y="688" width="2" height="5" fill="#000050"/>
<rect x="841.5" y="693" width="1.5" height="5" fill="#000030"/>
<rect x="863" y="683" width="1.5" height="5" fill="#000050"/>
<rect x="865.5" y="688" width="2" height="5" fill="#000050"/>
<rect x="868.5" y="693" width="1.5" height="5" fill="#000030"/>
<rect x="899" y="683" width="1.5" height="5" fill="#000068"/>
<rect x="901.5" y="688" width="2" height="5" fill="#000068"/>
<rect x="904.5" y="693" width="1.5" height="5" fill="#000030"/>
<rect x="929" y="683" width="1.5" height="5" fill="#000040"/>
<rect x="931.5" y="688" width="2" height="5" fill="#000040"/>
<rect x="934.5" y="693" width="1.5" height="5" fill="#000030"/>
<rect x="959" y="683" width="1.5" height="5" fill="#000038"/>
<rect x="961.5" y="688" width="2" height="5" fill="#000038"/>
<rect x="964.5" y="693" width="1.5" height="5" fill="#000030"/>
<rect x="989" y="683" width="1.5" height="5" fill="#000040"/>
<rect x="991.5" y="688" width="2" height="5" fill="#000040"/>
<rect x="994.5" y="693" width="1.5" height="5" fill="#000030"/>
<rect x="1019" y="683" width="1.5" height="5" fill="#000050"/>
<rect x="1021.5" y="688" width="2" height="5" fill="#000050"/>
<rect x="1024.5" y="693" width="1.5" height="5" fill="#000030"/>
<rect x="1046" y="683" width="1.5" height="5" fill="#000038"/>
<rect x="1048.5" y="688" width="2" height="5" fill="#000038"/>
<rect x="1051.5" y="693" width="1.5" height="5" fill="#000030"/>
<rect x="1076" y="683" width="1.5" height="5" fill="#000050"/>
<rect x="1078.5" y="688" width="2" height="5" fill="#000050"/>
<rect x="1081.5" y="693" width="1.5" height="5" fill="#000030"/>
<rect x="1106" y="683" width="1.5" height="5" fill="#000050"/>
<rect x="1108.5" y="688" width="2" height="5" fill="#000050"/>
<rect x="1111.5" y="693" width="1.5" height="5" fill="#000030"/>
<rect x="1138" y="683" width="1.5" height="5" fill="#000068"/>
<rect x="1140.5" y="688" width="2" height="5" fill="#000068"/>
<rect x="1143.5" y="693" width="1.5" height="5" fill="#000030"/>
<rect x="1168" y="683" width="1.5" height="5" fill="#000050"/>
<rect x="1170.5" y="688" width="2" height="5" fill="#000050"/>
<rect x="1173.5" y="693" width="1.5" height="5" fill="#000030"/>
<rect x="1198" y="683" width="1.5" height="5" fill="#000050"/>
<rect x="1200.5" y="688" width="2" height="5" fill="#000050"/>
<rect x="1203.5" y="693" width="1.5" height="5" fill="#000030"/>
<rect x="1234" y="683" width="1.5" height="5" fill="#000068"/>
<rect x="1236.5" y="688" width="2" height="5" fill="#000068"/>
<rect x="1239.5" y="693" width="1.5" height="5" fill="#000030"/>
<rect x="1261" y="683" width="1.5" height="5" fill="#000068"/>
<rect x="1263.5" y="688" width="2" height="5" fill="#000068"/>
<rect x="1266.5" y="693" width="1.5" height="5" fill="#000030"/>
<rect x="1297" y="683" width="1.5" height="5" fill="#000050"/>
<rect x="1299.5" y="688" width="2" height="5" fill="#000050"/>
<rect x="1302.5" y="693" width="1.5" height="5" fill="#000030"/>
<rect x="1327" y="683" width="1.5" height="5" fill="#000068"/>
<rect x="1329.5" y="688" width="2" height="5" fill="#000068"/>
<rect x="1332.5" y="693" width="1.5" height="5" fill="#000030"/>
<rect x="1354" y="683" width="1.5" height="5" fill="#000068"/>
<rect x="1356.5" y="688" width="2" height="5" fill="#000068"/>
<rect x="1359.5" y="693" width="1.5" height="5" fill="#000030"/>
<rect x="1386" y="683" width="1.5" height="5" fill="#000038"/>
<rect x="1388.5" y="688" width="2" height="5" fill="#000038"/>
<rect x="1391.5" y="693" width="1.5" height="5" fill="#000030"/>
<rect x="1430" y="683" width="1.5" height="5" fill="#000068"/>
<rect x="1432.5" y="688" width="2" height="5" fill="#000068"/>
<rect x="1435.5" y="693" width="1.5" height="5" fill="#000030"/>
<rect x="1457" y="683" width="1.5" height="5" fill="#000068"/>
<rect x="1459.5" y="688" width="2" height="5" fill="#000068"/>
<rect x="1462.5" y="693" width="1.5" height="5" fill="#000030"/>
<rect x="1489" y="683" width="1.5" height="5" fill="#000068"/>
<rect x="1491.5" y="688" width="2" height="5" fill="#000068"/>
<rect x="1494.5" y="693" width="1.5" height="5" fill="#000030"/>
<rect x="1525" y="683" width="1.5" height="5" fill="#000068"/>
<rect x="1527.5" y="688" width="2" height="5" fill="#000068"/>
<rect x="1530.5" y="693" width="1.5" height="5" fill="#000030"/>
<rect x="1555" y="683" width="1.5" height="5" fill="#000040"/>
<rect x="1557.5" y="688" width="2" height="5" fill="#000040"/>
<rect x="1560.5" y="693" width="1.5" height="5" fill="#000030"/>
<rect x="1591" y="683" width="1.5" height="5" fill="#000050"/>
<rect x="1593.5" y="688" width="2" height="5" fill="#000050"/>
<rect x="1596.5" y="693" width="1.5" height="5" fill="#000030"/>
<rect x="1618" y="683" width="1.5" height="5" fill="#000068"/>
<rect x="1620.5" y="688" width="2" height="5" fill="#000068"/>
<rect x="1623.5" y="693" width="1.5" height="5" fill="#000030"/>
<rect x="1645" y="683" width="1.5" height="5" fill="#000068"/>
<rect x="1647.5" y="688" width="2" height="5" fill="#000068"/>
<rect x="1650.5" y="693" width="1.5" height="5" fill="#000030"/>
<rect x="1681" y="683" width="1.5" height="5" fill="#000038"/>
<rect x="1683.5" y="688" width="2" height="5" fill="#000038"/>
<rect x="1686.5" y="693" width="1.5" height="5" fill="#000030"/>
<rect x="1725" y="683" width="1.5" height="5" fill="#000040"/>
<rect x="1727.5" y="688" width="2" height="5" fill="#000040"/>
<rect x="1730.5" y="693" width="1.5" height="5" fill="#000030"/>
<rect x="1757" y="683" width="1.5" height="5" fill="#000040"/>
<rect x="1759.5" y="688" width="2" height="5" fill="#000040"/>
<rect x="1762.5" y="693" width="1.5" height="5" fill="#000030"/>
</g>
<g id="burst">
<rect x="129" y="51.2" width="336" height="751.8" fill="#000"/>
<rect x="131" y="803" width="334" height="31" fill="#000"/>
<rect x="131" y="834" width="335" height="141.6" fill="#000"/>
<rect x="129" y="51.7" width="336" height="4.6" fill="#FFFF10"/>
<rect x="129" y="56.3" width="336" height="4.7" fill="#FFFF50"/>
<rect x="129" y="61" width="336" height="9" fill="#FFFF10"/>
<rect x="129" y="70" width="336" height="5" fill="#FFA83A"/>
<rect x="129" y="75" width="336" height="4.9" fill="#3000FF"/>
<rect x="129" y="118.9" width="336" height="5" fill="#7800FF"/>
<rect x="129" y="123.9" width="336" height="5.1" fill="#00004A"/>
<rect x="129" y="129" width="336" height="5" fill="#00000F"/>
<rect x="129" y="142.7" width="336" height="5.3" fill="#000030"/>
<rect x="129" y="148" width="336" height="4.9" fill="#0000A0"/>
<rect x="129" y="152.9" width="336" height="4.9" fill="#0000B0"/>
<rect x="129" y="157.8" width="336" height="5" fill="#FF7878"/>
<rect x="129" y="162.8" width="336" height="4.9" fill="#FFFF30"/>
<rect x="129" y="167.7" width="336" height="9.3" fill="#FFFF70"/>
<rect x="129" y="177" width="336" height="15" fill="#FFFF50"/>
<rect x="129" y="192" width="336" height="18.8" fill="#FFFFA0"/>
<rect x="129" y="210.8" width="336" height="10.2" fill="#FFFF50"/>
<rect x="129" y="221" width="336" height="10" fill="#FFF808"/>
<rect x="129" y="231" width="336" height="9.8" fill="#FFFF70"/>
<rect x="129" y="240.8" width="336" height="9.2" fill="#FFE020"/>
<rect x="129" y="250" width="336" height="5" fill="#FFA840"/>
<rect x="129" y="255" width="336" height="5" fill="#7000FF"/>
<rect x="129" y="270" width="336" height="5" fill="#3000FF"/>
<rect x="129" y="275" width="336" height="4.9" fill="#000090"/>
<rect x="129" y="294" width="336" height="4.9" fill="#000028"/>
<rect x="129" y="298.9" width="336" height="5.1" fill="#F848B0"/>
<rect x="129" y="304" width="336" height="9.6" fill="#FF6C90"/>
<rect x="129" y="313.6" width="336" height="4.4" fill="#FF58A8"/>
<rect x="129" y="318" width="336" height="5" fill="#8800FF"/>
<rect x="129" y="323" width="336" height="5" fill="#000040"/>
<rect x="129" y="338" width="336" height="4.9" fill="#0000E0"/>
<rect x="129" y="342.9" width="336" height="10" fill="#FFE418"/>
<rect x="129" y="352.9" width="336" height="4.1" fill="#F050B8"/>
<rect x="129" y="357" width="336" height="5" fill="#FF7088"/>
<rect x="129" y="362" width="336" height="5" fill="#FFDC20"/>
<rect x="129" y="367" width="336" height="5" fill="#FFB038"/>
<rect x="129" y="372" width="336" height="5" fill="#FF7880"/>
<rect x="129" y="377" width="336" height="5" fill="#FFA048"/>
<rect x="129" y="382" width="336" height="5" fill="#FFFF40"/>
<rect x="129" y="387" width="336" height="4" fill="#FFF800"/>
<rect x="129" y="391" width="336" height="5" fill="#FFA848"/>
<rect x="129" y="396" width="336" height="5" fill="#4000FF"/>
<rect x="129" y="411" width="336" height="5" fill="#000060"/>
<rect x="129" y="416" width="336" height="8.9" fill="#FF50B0"/>
<rect x="129" y="424.9" width="336" height="5.1" fill="#5000FF"/>
<rect x="129" y="430" width="336" height="4.7" fill="#0000F0"/>
<rect x="129" y="434.7" width="336" height="5.1" fill="#9000FF"/>
<rect x="129" y="439.8" width="336" height="5.2" fill="#4800FF"/>
<rect x="129" y="445" width="336" height="5" fill="#0000A0"/>
<rect x="129" y="459" width="336" height="5" fill="#000020"/>
<rect x="129" y="464" width="336" height="5" fill="#7000FF"/>
<rect x="129" y="469" width="336" height="5" fill="#000028"/>
<rect x="129" y="479" width="336" height="5" fill="#4000FF"/>
<rect x="129" y="484" width="336" height="5" fill="#FFE818"/>
<rect x="129" y="489" width="336" height="8.7" fill="#FFB038"/>
<rect x="129" y="497.7" width="336" height="5.1" fill="#FFE818"/>
<rect x="129" y="502.8" width="336" height="5.2" fill="#FFFFB0"/>
<rect x="129" y="508" width="336" height="34" fill="#FFFFFF"/>
<rect x="129" y="542" width="336" height="5" fill="#FFFFE0"/>
<rect x="129" y="547" width="336" height="5" fill="#FFF010"/>
<rect x="129" y="552" width="336" height="5" fill="#FFFFC0"/>
<rect x="129" y="557" width="336" height="5" fill="#FFD820"/>
<rect x="129" y="562" width="336" height="81.8" fill="#FFFFFF"/>
<rect x="129" y="643.8" width="336" height="5.2" fill="#FFFFE0"/>
<rect x="129" y="649" width="336" height="20" fill="#FFFFFF"/>
<rect x="129" y="669" width="336" height="3.8" fill="#FFFFC0"/>
<rect x="129" y="672.8" width="336" height="5.2" fill="#FFF810"/>
<rect x="129" y="678" width="336" height="5" fill="#FFE018"/>
<rect x="129" y="683" width="336" height="4.8" fill="#FFD820"/>
<rect x="129" y="687.8" width="336" height="10.2" fill="#FFFF70"/>
<rect x="129" y="698" width="336" height="5.3" fill="#FFFF40"/>
<rect x="129" y="703.3" width="336" height="4.7" fill="#FFFFC0"/>
<rect x="129" y="708" width="336" height="9" fill="#FFFFFF"/>
<rect x="129" y="717" width="336" height="5" fill="#FFFF50"/>
<rect x="129" y="722" width="336" height="5" fill="#FFF808"/>
<rect x="129" y="727" width="336" height="5" fill="#FFE810"/>
<rect x="129" y="732" width="336" height="5" fill="#FFFF60"/>
<rect x="129" y="737" width="336" height="9" fill="#FFFFA0"/>
<rect x="129" y="746" width="336" height="5" fill="#FFFF40"/>
<rect x="129" y="751" width="336" height="5" fill="#FFB838"/>
<rect x="129" y="756" width="336" height="5" fill="#FF8078"/>
<rect x="129" y="761" width="336" height="5" fill="#FF9858"/>
<rect x="129" y="766" width="336" height="5" fill="#F850B8"/>
<rect x="129" y="771" width="336" height="4.8" fill="#B828E8"/>
<rect x="129" y="775.8" width="336" height="4.5" fill="#FF60A8"/>
<rect x="129" y="780.3" width="336" height="5.2" fill="#FFA050"/>
<rect x="129" y="785.5" width="336" height="4.5" fill="#FF9860"/>
<rect x="129" y="790" width="336" height="5" fill="#F048B8"/>
<rect x="129" y="795" width="336" height="5" fill="#FF58A8"/>
<rect x="129" y="800" width="336" height="5" fill="#FF7888"/>
<rect x="131" y="805" width="334" height="5" fill="#FF9860"/>
<rect x="131" y="810" width="334" height="5" fill="#FFF810"/>
<rect x="131" y="815" width="334" height="4" fill="#FFFFC0"/>
<rect x="131" y="819" width="334" height="10" fill="#FFFFFF"/>
<rect x="131" y="829" width="334" height="10" fill="#FFFFA0"/>
<rect x="131" y="839" width="335" height="5" fill="#FFD820"/>
<rect x="131" y="844" width="335" height="9" fill="#FF9464"/>
<rect x="131" y="853" width="335" height="10" fill="#FFFF20"/>
<rect x="131" y="863" width="335" height="5" fill="#FFD828"/>
<rect x="131" y="868" width="335" height="5" fill="#FFB838"/>
<rect x="131" y="873" width="335" height="5" fill="#FFA848"/>
<rect x="131" y="878" width="335" height="5" fill="#FFB838"/>
<rect x="131" y="883" width="335" height="4.4" fill="#FFE020"/>
<rect x="131" y="887.4" width="335" height="4.6" fill="#FFA050"/>
<rect x="131" y="892" width="335" height="5" fill="#FF7088"/>
<rect x="131" y="897" width="335" height="5" fill="#C030E0"/>
<rect x="131" y="902" width="335" height="5" fill="#0000F0"/>
<rect x="131" y="931" width="335" height="5" fill="#000064"/>
<rect x="131" y="936" width="335" height="5" fill="#0000D0"/>
<rect x="131" y="941" width="335" height="5" fill="#B020F0"/>
<rect x="131" y="946" width="335" height="5" fill="#0000C0"/>
<rect x="131" y="960" width="335" height="5" fill="#000020"/>
<rect x="131" y="965" width="335" height="5" fill="#0000D0"/>
<rect x="131" y="970" width="335" height="5.5" fill="#000068"/>
<rect x="129" y="51.7" width="336" height="4.6" fill="url(#bY1d)"/>
<rect x="129" y="56.3" width="336" height="4.7" fill="url(#by1c)"/>
<rect x="129" y="61" width="336" height="4.5" fill="url(#bY0a)"/>
<rect x="129" y="65.5" width="336" height="4.5" fill="url(#bY1e)"/>
<rect x="129" y="70" width="336" height="5" fill="url(#bo0)"/>
<rect x="129" y="75" width="336" height="4.9" fill="url(#bb1b)"/>
<rect x="129" y="118.9" width="336" height="5" fill="url(#bv0)"/>
<rect x="129" y="123.9" width="336" height="5.1" fill="url(#d10d)"/>
<rect x="129" y="142.7" width="336" height="5.3" fill="url(#d11c)"/>
<rect x="129" y="148" width="336" height="4.9" fill="url(#bb0d)"/>
<rect x="129" y="152.9" width="336" height="4.9" fill="url(#bb0d)"/>
<rect x="129" y="157.8" width="336" height="5" fill="url(#bp0)"/>
<rect x="129" y="162.8" width="336" height="4.9" fill="url(#by0a)"/>
<rect x="129" y="167.7" width="336" height="4.7" fill="url(#by0d)"/>
<rect x="129" y="172.3" width="336" height="4.7" fill="url(#by0c)"/>
<rect x="129" y="177" width="336" height="5" fill="url(#by1c)"/>
<rect x="129" y="182" width="336" height="5" fill="url(#by0d)"/>
<rect x="129" y="187" width="336" height="5" fill="url(#by0e)"/>
<rect x="129" y="192" width="336" height="4.7" fill="url(#by1c)"/>
<rect x="129" y="196.7" width="336" height="4.7" fill="url(#by0e)"/>
<rect x="129" y="201.4" width="336" height="4.7" fill="url(#by0c)"/>
<rect x="129" y="206.1" width="336" height="4.7" fill="url(#by1c)"/>
<rect x="129" y="210.8" width="336" height="5.1" fill="url(#by0e)"/>
<rect x="129" y="215.9" width="336" height="5.1" fill="url(#by1b)"/>
<rect x="129" y="221" width="336" height="5" fill="url(#bY0d)"/>
<rect x="129" y="226" width="336" height="5" fill="url(#bY1)"/>
<rect x="129" y="231" width="336" height="4.9" fill="url(#by0d)"/>
<rect x="129" y="235.9" width="336" height="4.9" fill="url(#by0c)"/>
<rect x="129" y="240.8" width="336" height="4.6" fill="url(#bg0b)"/>
<rect x="129" y="245.4" width="336" height="4.6" fill="url(#bg1)"/>
<rect x="129" y="250" width="336" height="5" fill="url(#bo0e)"/>
<rect x="129" y="255" width="336" height="5" fill="url(#bv0a)"/>
<rect x="129" y="270" width="336" height="5" fill="url(#bb0)"/>
<rect x="129" y="275" width="336" height="4.9" fill="url(#bb1c)"/>
<rect x="129" y="294" width="336" height="4.9" fill="url(#d11c)"/>
<rect x="129" y="298.9" width="336" height="5.1" fill="url(#bp0d)"/>
<rect x="129" y="304" width="336" height="4.8" fill="url(#bp0e)"/>
<rect x="129" y="308.8" width="336" height="4.8" fill="url(#bp1b)"/>
<rect x="129" y="313.6" width="336" height="4.4" fill="url(#bp0b)"/>
<rect x="129" y="318" width="336" height="5" fill="url(#bv1)"/>
<rect x="129" y="323" width="336" height="5" fill="url(#d11)"/>
<rect x="129" y="338" width="336" height="4.9" fill="url(#bb0a)"/>
<rect x="129" y="342.9" width="336" height="5" fill="url(#bg0)"/>
<rect x="129" y="347.9" width="336" height="5" fill="url(#bg0c)"/>
<rect x="129" y="352.9" width="336" height="4.1" fill="url(#bp1a)"/>
<rect x="129" y="357" width="336" height="5" fill="url(#bp0c)"/>
<rect x="129" y="362" width="336" height="5" fill="url(#bg0e)"/>
<rect x="129" y="367" width="336" height="5" fill="url(#bo0c)"/>
<rect x="129" y="372" width="336" height="5" fill="url(#bp1)"/>
<rect x="129" y="377" width="336" height="5" fill="url(#bo1c)"/>
<rect x="129" y="382" width="336" height="5" fill="url(#by0)"/>
<rect x="129" y="387" width="336" height="4" fill="url(#bY1d)"/>
<rect x="129" y="391" width="336" height="5" fill="url(#bo1)"/>
<rect x="129" y="396" width="336" height="5" fill="url(#bb0a)"/>
<rect x="129" y="411" width="336" height="5" fill="url(#d11d)"/>
<rect x="129" y="416" width="336" height="4.4" fill="url(#bp0)"/>
<rect x="129" y="420.4" width="336" height="4.4" fill="url(#bp0a)"/>
<rect x="129" y="424.9" width="336" height="5.1" fill="url(#bb1b)"/>
<rect x="129" y="430" width="336" height="4.7" fill="url(#bb0d)"/>
<rect x="129" y="434.7" width="336" height="5.1" fill="url(#bv1b)"/>
<rect x="129" y="439.8" width="336" height="5.2" fill="url(#bb1)"/>
<rect x="129" y="445" width="336" height="5" fill="url(#bb0)"/>
<rect x="129" y="459" width="336" height="5" fill="url(#d10d)"/>
<rect x="129" y="464" width="336" height="5" fill="url(#bv0)"/>
<rect x="129" y="469" width="336" height="5" fill="url(#d11b)"/>
<rect x="129" y="479" width="336" height="5" fill="url(#bb1a)"/>
<rect x="129" y="484" width="336" height="5" fill="url(#bg1d)"/>
<rect x="129" y="489" width="336" height="4.4" fill="url(#bo0c)"/>
<rect x="129" y="493.4" width="336" height="4.3" fill="url(#bo0e)"/>
<rect x="129" y="497.7" width="336" height="5.1" fill="url(#bg0b)"/>
<rect x="129" y="502.8" width="336" height="5.2" fill="url(#by0d)"/>
<rect x="129" y="542" width="336" height="5" fill="url(#by0e)"/>
<rect x="129" y="547" width="336" height="5" fill="url(#bY0a)"/>
<rect x="129" y="552" width="336" height="5" fill="url(#by0e)"/>
<rect x="129" y="557" width="336" height="5" fill="url(#bg1c)"/>
<rect x="129" y="643.8" width="336" height="5.2" fill="url(#by0c)"/>
<rect x="129" y="669" width="336" height="3.8" fill="url(#by0)"/>
<rect x="129" y="672.8" width="336" height="5.2" fill="url(#bY0)"/>
<rect x="129" y="678" width="336" height="5" fill="url(#bg1a)"/>
<rect x="129" y="683" width="336" height="4.8" fill="url(#bg1b)"/>
<rect x="129" y="687.8" width="336" height="5.1" fill="url(#by1d)"/>
<rect x="129" y="692.9" width="336" height="5.1" fill="url(#by1b)"/>
<rect x="129" y="698" width="336" height="5.3" fill="url(#by0e)"/>
<rect x="129" y="703.3" width="336" height="4.7" fill="url(#by0a)"/>
<rect x="129" y="717" width="336" height="5" fill="url(#by0c)"/>
<rect x="129" y="722" width="336" height="5" fill="url(#bY0b)"/>
<rect x="129" y="727" width="336" height="5" fill="url(#bg0a)"/>
<rect x="129" y="732" width="336" height="5" fill="url(#by0)"/>
<rect x="129" y="737" width="336" height="4.5" fill="url(#by1c)"/>
<rect x="129" y="741.5" width="336" height="4.5" fill="url(#by1a)"/>
<rect x="129" y="746" width="336" height="5" fill="url(#by0)"/>
<rect x="129" y="751" width="336" height="5" fill="url(#bo0b)"/>
<rect x="129" y="756" width="336" height="5" fill="url(#bp1d)"/>
<rect x="129" y="761" width="336" height="5" fill="url(#bo0)"/>
<rect x="129" y="766" width="336" height="5" fill="url(#bp1a)"/>
<rect x="129" y="771" width="336" height="4.8" fill="url(#bv1b)"/>
<rect x="129" y="775.8" width="336" height="4.5" fill="url(#bp0d)"/>
<rect x="129" y="780.3" width="336" height="5.2" fill="url(#bo0)"/>
<rect x="129" y="785.5" width="336" height="4.5" fill="url(#bo1b)"/>
<rect x="129" y="790" width="336" height="5" fill="url(#bp1)"/>
<rect x="129" y="795" width="336" height="5" fill="url(#bp0d)"/>
<rect x="129" y="800" width="336" height="5" fill="url(#bp0c)"/>
<rect x="131" y="805" width="334" height="5" fill="url(#bo0e)"/>
<rect x="131" y="810" width="334" height="5" fill="url(#bY1b)"/>
<rect x="131" y="815" width="334" height="4" fill="url(#by0)"/>
<rect x="131" y="829" width="334" height="5" fill="url(#by0c)"/>
<rect x="131" y="834" width="334" height="5" fill="url(#by1e)"/>
<rect x="131" y="839" width="335" height="5" fill="url(#bg0e)"/>
<rect x="131" y="844" width="335" height="4.5" fill="url(#bo0b)"/>
<rect x="131" y="848.5" width="335" height="4.5" fill="url(#bo1)"/>
<rect x="131" y="853" width="335" height="5" fill="url(#bY1)"/>
<rect x="131" y="858" width="335" height="5" fill="url(#bY1)"/>
<rect x="131" y="863" width="335" height="5" fill="url(#bg1d)"/>
<rect x="131" y="868" width="335" height="5" fill="url(#bo0d)"/>
<rect x="131" y="873" width="335" height="5" fill="url(#bo1c)"/>
<rect x="131" y="878" width="335" height="5" fill="url(#bo0d)"/>
<rect x="131" y="883" width="335" height="4.4" fill="url(#bg0)"/>
<rect x="131" y="887.4" width="335" height="4.6" fill="url(#bo0e)"/>
<rect x="131" y="892" width="335" height="5" fill="url(#bp0b)"/>
<rect x="131" y="897" width="335" height="5" fill="url(#bv1e)"/>
<rect x="131" y="902" width="335" height="5" fill="url(#bb1c)"/>
<rect x="131" y="931" width="335" height="5" fill="url(#d11c)"/>
<rect x="131" y="936" width="335" height="5" fill="url(#bb1d)"/>
<rect x="131" y="941" width="335" height="5" fill="url(#bv0d)"/>
<rect x="131" y="946" width="335" height="5" fill="url(#bb0b)"/>
<rect x="131" y="960" width="335" height="5" fill="url(#d10c)"/>
<rect x="131" y="965" width="335" height="5" fill="url(#bb0a)"/>
<rect x="131" y="970" width="335" height="5.5" fill="url(#d10c)"/>
</g>
</g>
<rect x="121.5" y="51.2" width="1674.5" height="924.4" fill="none" stroke="#000" stroke-width="1.25"/>
<g stroke="#000" stroke-width="1.25">
<line x1="115.6" y1="104.5" x2="121.5" y2="104.5"/>
<line x1="115.6" y1="220.6" x2="121.5" y2="220.6"/>
<line x1="115.6" y1="336.7" x2="121.5" y2="336.7"/>
<line x1="115.6" y1="452.8" x2="121.5" y2="452.8"/>
<line x1="115.6" y1="568.9" x2="121.5" y2="568.9"/>
<line x1="115.6" y1="685" x2="121.5" y2="685"/>
<line x1="115.6" y1="801" x2="121.5" y2="801"/>
<line x1="115.6" y1="917.1" x2="121.5" y2="917.1"/>
<line x1="121.5" y1="975.6" x2="121.5" y2="981.5"/>
<line x1="233.1" y1="975.6" x2="233.1" y2="981.5"/>
<line x1="344.6" y1="975.6" x2="344.6" y2="981.5"/>
<line x1="456.2" y1="975.6" x2="456.2" y2="981.5"/>
<line x1="567.8" y1="975.6" x2="567.8" y2="981.5"/>
<line x1="679.3" y1="975.6" x2="679.3" y2="981.5"/>
<line x1="790.9" y1="975.6" x2="790.9" y2="981.5"/>
<line x1="902.5" y1="975.6" x2="902.5" y2="981.5"/>
<line x1="1014.1" y1="975.6" x2="1014.1" y2="981.5"/>
<line x1="1125.6" y1="975.6" x2="1125.6" y2="981.5"/>
<line x1="1237.2" y1="975.6" x2="1237.2" y2="981.5"/>
<line x1="1348.8" y1="975.6" x2="1348.8" y2="981.5"/>
<line x1="1460.3" y1="975.6" x2="1460.3" y2="981.5"/>
<line x1="1571.9" y1="975.6" x2="1571.9" y2="981.5"/>
<line x1="1683.5" y1="975.6" x2="1683.5" y2="981.5"/>
</g>
<g font-size="29.7px" text-anchor="end">
<text x="109.2" y="115.7">800</text>
<text x="109.2" y="231.8">700</text>
<text x="109.2" y="347.9">600</text>
<text x="109.2" y="464.0">500</text>
<text x="109.2" y="580.1">400</text>
<text x="109.2" y="696.2">300</text>
<text x="109.2" y="812.2">200</text>
<text x="109.2" y="928.3">100</text>
</g>
<g font-size="29.7px" text-anchor="middle">
<text x="121.5" y="1009.6">18:45</text>
<text x="233.1" y="1009.6">18:45</text>
<text x="344.6" y="1009.6">18:45</text>
<text x="456.2" y="1009.6">18:45</text>
<text x="567.8" y="1009.6">18:46</text>
<text x="679.3" y="1009.6">18:46</text>
<text x="790.9" y="1009.6">18:46</text>
<text x="902.5" y="1009.6">18:47</text>
<text x="1014.1" y="1009.6">18:47</text>
<text x="1125.6" y="1009.6">18:47</text>
<text x="1237.2" y="1009.6">18:48</text>
<text x="1348.8" y="1009.6">18:48</text>
<text x="1460.3" y="1009.6">18:48</text>
<text x="1571.9" y="1009.6">18:49</text>
<text x="1683.5" y="1009.6">18:49</text>
</g>
<text x="957.8" y="40.5" font-size="36.67px" text-anchor="middle" xml:space="preserve" style="white-space:pre">2023/05/12  Radio flux density, e-CALLISTO (MRO), Focuscode: 60</text>
<text x="958.1" y="1048.9" font-size="33.6px" text-anchor="middle">Observation time [UTC]</text>
<text transform="translate(37.05,512.6) rotate(-90)" font-size="34px" text-anchor="middle">Frequency [MHz]</text>
<rect x="1935.5" y="27.5" width="42.95" height="959.7" fill="url(#cb)" stroke="#000" stroke-width="1.25"/>
<g stroke="#000" stroke-width="1.25">
<line x1="1978.45" y1="987.2" x2="1984.55" y2="987.2"/>
<line x1="1978.45" y1="874.2" x2="1984.55" y2="874.2"/>
<line x1="1978.45" y1="761.2" x2="1984.55" y2="761.2"/>
<line x1="1978.45" y1="648.2" x2="1984.55" y2="648.2"/>
<line x1="1978.45" y1="535.3" x2="1984.55" y2="535.3"/>
<line x1="1978.45" y1="422.3" x2="1984.55" y2="422.3"/>
<line x1="1978.45" y1="309.3" x2="1984.55" y2="309.3"/>
<line x1="1978.45" y1="196.3" x2="1984.55" y2="196.3"/>
<line x1="1978.45" y1="83.3" x2="1984.55" y2="83.3"/>
</g>
<g font-size="16.3px">
<text x="1990.8" y="993.3">−2</text>
<text x="1990.8" y="880.3">0</text>
<text x="1990.8" y="767.3">2</text>
<text x="1990.8" y="654.3">4</text>
<text x="1990.8" y="541.4">6</text>
<text x="1990.8" y="428.4">8</text>
<text x="1990.8" y="315.4">10</text>
<text x="1990.8" y="202.4">12</text>
<text x="1990.8" y="89.4">14</text>
</g>
<text transform="translate(2045.9,508.3) rotate(-90)" font-size="33.45px" text-anchor="middle">dB above background</text>
</svg></body></html>
